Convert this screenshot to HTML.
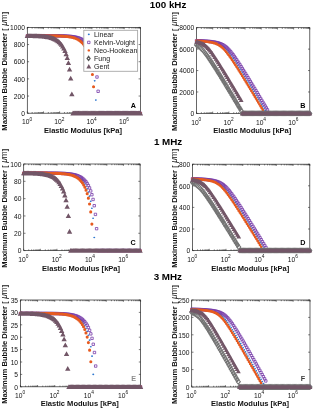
<!DOCTYPE html>
<html><head><meta charset="utf-8"><style>
html,body{margin:0;padding:0;background:#fff;width:313px;height:408px;overflow:hidden}
svg{display:block;font-family:"Liberation Sans", sans-serif;filter:blur(0.3px)}
</style></head><body>
<svg width="313" height="408" viewBox="0 0 313 408">
<defs><clipPath id="clipA"><rect x="24.3" y="24.4" width="119.10000000000001" height="91.80000000000001"/></clipPath><clipPath id="clipB"><rect x="193.5" y="24.7" width="119.30000000000001" height="91.7"/></clipPath><clipPath id="clipC"><rect x="20.7" y="161.0" width="122.39999999999999" height="92.6"/></clipPath><clipPath id="clipD"><rect x="189.5" y="161.2" width="123.30000000000001" height="92.4"/></clipPath><clipPath id="clipE"><rect x="17.4" y="297.0" width="126.19999999999999" height="92.80000000000001"/></clipPath><clipPath id="clipF"><rect x="188.7" y="297.0" width="124.30000000000001" height="93.0"/></clipPath></defs>
<rect width="313" height="408" fill="#fff"/>
<rect x="27.30" y="27.40" width="113.10" height="85.80" fill="none" stroke="#262626" stroke-width="0.7"/>
<path d="M27.30 113.20v-1.8M27.30 27.40v1.8M32.16 113.20v-1.2M32.16 27.40v1.2M35.01 113.20v-1.2M35.01 27.40v1.2M37.03 113.20v-1.2M37.03 27.40v1.2M38.59 113.20v-1.2M38.59 27.40v1.2M39.87 113.20v-1.2M39.87 27.40v1.2M40.95 113.20v-1.2M40.95 27.40v1.2M41.89 113.20v-1.2M41.89 27.40v1.2M42.72 113.20v-1.2M42.72 27.40v1.2M43.46 113.20v-1.8M43.46 27.40v1.8M48.32 113.20v-1.2M48.32 27.40v1.2M51.17 113.20v-1.2M51.17 27.40v1.2M53.18 113.20v-1.2M53.18 27.40v1.2M54.75 113.20v-1.2M54.75 27.40v1.2M56.03 113.20v-1.2M56.03 27.40v1.2M57.11 113.20v-1.2M57.11 27.40v1.2M58.05 113.20v-1.2M58.05 27.40v1.2M58.87 113.20v-1.2M58.87 27.40v1.2M59.61 113.20v-1.8M59.61 27.40v1.8M64.48 113.20v-1.2M64.48 27.40v1.2M67.32 113.20v-1.2M67.32 27.40v1.2M69.34 113.20v-1.2M69.34 27.40v1.2M70.91 113.20v-1.2M70.91 27.40v1.2M72.19 113.20v-1.2M72.19 27.40v1.2M73.27 113.20v-1.2M73.27 27.40v1.2M74.21 113.20v-1.2M74.21 27.40v1.2M75.03 113.20v-1.2M75.03 27.40v1.2M75.77 113.20v-1.8M75.77 27.40v1.8M80.64 113.20v-1.2M80.64 27.40v1.2M83.48 113.20v-1.2M83.48 27.40v1.2M85.50 113.20v-1.2M85.50 27.40v1.2M87.06 113.20v-1.2M87.06 27.40v1.2M88.34 113.20v-1.2M88.34 27.40v1.2M89.43 113.20v-1.2M89.43 27.40v1.2M90.36 113.20v-1.2M90.36 27.40v1.2M91.19 113.20v-1.2M91.19 27.40v1.2M91.93 113.20v-1.8M91.93 27.40v1.8M96.79 113.20v-1.2M96.79 27.40v1.2M99.64 113.20v-1.2M99.64 27.40v1.2M101.66 113.20v-1.2M101.66 27.40v1.2M103.22 113.20v-1.2M103.22 27.40v1.2M104.50 113.20v-1.2M104.50 27.40v1.2M105.58 113.20v-1.2M105.58 27.40v1.2M106.52 113.20v-1.2M106.52 27.40v1.2M107.35 113.20v-1.2M107.35 27.40v1.2M108.09 113.20v-1.8M108.09 27.40v1.8M112.95 113.20v-1.2M112.95 27.40v1.2M115.79 113.20v-1.2M115.79 27.40v1.2M117.81 113.20v-1.2M117.81 27.40v1.2M119.38 113.20v-1.2M119.38 27.40v1.2M120.66 113.20v-1.2M120.66 27.40v1.2M121.74 113.20v-1.2M121.74 27.40v1.2M122.68 113.20v-1.2M122.68 27.40v1.2M123.50 113.20v-1.2M123.50 27.40v1.2M124.24 113.20v-1.8M124.24 27.40v1.8M129.11 113.20v-1.2M129.11 27.40v1.2M131.95 113.20v-1.2M131.95 27.40v1.2M133.97 113.20v-1.2M133.97 27.40v1.2M135.54 113.20v-1.2M135.54 27.40v1.2M136.82 113.20v-1.2M136.82 27.40v1.2M137.90 113.20v-1.2M137.90 27.40v1.2M138.83 113.20v-1.2M138.83 27.40v1.2M139.66 113.20v-1.2M139.66 27.40v1.2M140.40 113.20v-1.8M140.40 27.40v1.8M27.30 113.20h1.8M140.40 113.20h-1.8M27.30 96.04h1.8M140.40 96.04h-1.8M27.30 78.88h1.8M140.40 78.88h-1.8M27.30 61.72h1.8M140.40 61.72h-1.8M27.30 44.56h1.8M140.40 44.56h-1.8M27.30 27.40h1.8M140.40 27.40h-1.8" stroke="#262626" stroke-width="0.6" fill="none"/>
<g clip-path="url(#clipA)">
<path d="M26.30 35.72a1.0 0.8 0 1 0 2.0 0a1.0 0.8 0 1 0 -2.0 0ZM27.44 35.73a1.0 0.8 0 1 0 2.0 0a1.0 0.8 0 1 0 -2.0 0ZM28.58 35.73a1.0 0.8 0 1 0 2.0 0a1.0 0.8 0 1 0 -2.0 0ZM29.73 35.73a1.0 0.8 0 1 0 2.0 0a1.0 0.8 0 1 0 -2.0 0ZM30.87 35.73a1.0 0.8 0 1 0 2.0 0a1.0 0.8 0 1 0 -2.0 0ZM32.01 35.73a1.0 0.8 0 1 0 2.0 0a1.0 0.8 0 1 0 -2.0 0ZM33.15 35.73a1.0 0.8 0 1 0 2.0 0a1.0 0.8 0 1 0 -2.0 0ZM34.30 35.73a1.0 0.8 0 1 0 2.0 0a1.0 0.8 0 1 0 -2.0 0ZM35.44 35.73a1.0 0.8 0 1 0 2.0 0a1.0 0.8 0 1 0 -2.0 0ZM36.58 35.73a1.0 0.8 0 1 0 2.0 0a1.0 0.8 0 1 0 -2.0 0ZM37.72 35.73a1.0 0.8 0 1 0 2.0 0a1.0 0.8 0 1 0 -2.0 0ZM38.87 35.74a1.0 0.8 0 1 0 2.0 0a1.0 0.8 0 1 0 -2.0 0ZM40.01 35.74a1.0 0.8 0 1 0 2.0 0a1.0 0.8 0 1 0 -2.0 0ZM41.15 35.74a1.0 0.8 0 1 0 2.0 0a1.0 0.8 0 1 0 -2.0 0ZM42.29 35.74a1.0 0.8 0 1 0 2.0 0a1.0 0.8 0 1 0 -2.0 0ZM43.44 35.75a1.0 0.8 0 1 0 2.0 0a1.0 0.8 0 1 0 -2.0 0ZM44.58 35.75a1.0 0.8 0 1 0 2.0 0a1.0 0.8 0 1 0 -2.0 0ZM45.72 35.76a1.0 0.8 0 1 0 2.0 0a1.0 0.8 0 1 0 -2.0 0ZM46.86 35.76a1.0 0.8 0 1 0 2.0 0a1.0 0.8 0 1 0 -2.0 0ZM48.01 35.77a1.0 0.8 0 1 0 2.0 0a1.0 0.8 0 1 0 -2.0 0ZM49.15 35.78a1.0 0.8 0 1 0 2.0 0a1.0 0.8 0 1 0 -2.0 0ZM50.29 35.79a1.0 0.8 0 1 0 2.0 0a1.0 0.8 0 1 0 -2.0 0ZM51.43 35.80a1.0 0.8 0 1 0 2.0 0a1.0 0.8 0 1 0 -2.0 0ZM52.58 35.81a1.0 0.8 0 1 0 2.0 0a1.0 0.8 0 1 0 -2.0 0ZM53.72 35.83a1.0 0.8 0 1 0 2.0 0a1.0 0.8 0 1 0 -2.0 0ZM54.86 35.85a1.0 0.8 0 1 0 2.0 0a1.0 0.8 0 1 0 -2.0 0ZM56.00 35.87a1.0 0.8 0 1 0 2.0 0a1.0 0.8 0 1 0 -2.0 0ZM57.15 35.90a1.0 0.8 0 1 0 2.0 0a1.0 0.8 0 1 0 -2.0 0ZM58.29 35.93a1.0 0.8 0 1 0 2.0 0a1.0 0.8 0 1 0 -2.0 0ZM59.43 35.96a1.0 0.8 0 1 0 2.0 0a1.0 0.8 0 1 0 -2.0 0ZM60.57 36.01a1.0 0.8 0 1 0 2.0 0a1.0 0.8 0 1 0 -2.0 0ZM61.72 36.06a1.0 0.8 0 1 0 2.0 0a1.0 0.8 0 1 0 -2.0 0ZM62.86 36.12a1.0 0.8 0 1 0 2.0 0a1.0 0.8 0 1 0 -2.0 0ZM64.00 36.19a1.0 0.8 0 1 0 2.0 0a1.0 0.8 0 1 0 -2.0 0ZM65.14 36.27a1.0 0.8 0 1 0 2.0 0a1.0 0.8 0 1 0 -2.0 0ZM66.28 36.37a1.0 0.8 0 1 0 2.0 0a1.0 0.8 0 1 0 -2.0 0ZM67.43 36.48a1.0 0.8 0 1 0 2.0 0a1.0 0.8 0 1 0 -2.0 0ZM68.57 36.62a1.0 0.8 0 1 0 2.0 0a1.0 0.8 0 1 0 -2.0 0ZM69.71 36.78a1.0 0.8 0 1 0 2.0 0a1.0 0.8 0 1 0 -2.0 0ZM70.85 36.96a1.0 0.8 0 1 0 2.0 0a1.0 0.8 0 1 0 -2.0 0ZM72.00 37.19a1.0 0.8 0 1 0 2.0 0a1.0 0.8 0 1 0 -2.0 0ZM73.14 37.45a1.0 0.8 0 1 0 2.0 0a1.0 0.8 0 1 0 -2.0 0ZM74.28 37.76a1.0 0.8 0 1 0 2.0 0a1.0 0.8 0 1 0 -2.0 0ZM75.42 38.12a1.0 0.8 0 1 0 2.0 0a1.0 0.8 0 1 0 -2.0 0ZM76.57 38.56a1.0 0.8 0 1 0 2.0 0a1.0 0.8 0 1 0 -2.0 0ZM77.71 39.07a1.0 0.8 0 1 0 2.0 0a1.0 0.8 0 1 0 -2.0 0ZM78.85 39.68a1.0 0.8 0 1 0 2.0 0a1.0 0.8 0 1 0 -2.0 0ZM79.99 40.40a1.0 0.8 0 1 0 2.0 0a1.0 0.8 0 1 0 -2.0 0ZM81.14 41.25a1.0 0.8 0 1 0 2.0 0a1.0 0.8 0 1 0 -2.0 0ZM82.28 42.28a1.0 0.8 0 1 0 2.0 0a1.0 0.8 0 1 0 -2.0 0ZM83.42 43.50a1.0 0.8 0 1 0 2.0 0a1.0 0.8 0 1 0 -2.0 0ZM84.56 44.97a1.0 0.8 0 1 0 2.0 0a1.0 0.8 0 1 0 -2.0 0ZM85.71 46.74a1.0 0.8 0 1 0 2.0 0a1.0 0.8 0 1 0 -2.0 0ZM86.85 48.88a1.0 0.8 0 1 0 2.0 0a1.0 0.8 0 1 0 -2.0 0ZM87.99 51.50a1.0 0.8 0 1 0 2.0 0a1.0 0.8 0 1 0 -2.0 0ZM89.13 54.73a1.0 0.8 0 1 0 2.0 0a1.0 0.8 0 1 0 -2.0 0ZM90.28 58.77a1.0 0.8 0 1 0 2.0 0a1.0 0.8 0 1 0 -2.0 0ZM91.42 63.96a1.0 0.8 0 1 0 2.0 0a1.0 0.8 0 1 0 -2.0 0ZM92.56 70.87a1.0 0.8 0 1 0 2.0 0a1.0 0.8 0 1 0 -2.0 0ZM93.70 80.84a1.0 0.8 0 1 0 2.0 0a1.0 0.8 0 1 0 -2.0 0ZM94.85 100.11a1.0 0.8 0 1 0 2.0 0a1.0 0.8 0 1 0 -2.0 0ZM95.99 113.20a1.0 0.8 0 1 0 2.0 0a1.0 0.8 0 1 0 -2.0 0ZM97.13 113.20a1.0 0.8 0 1 0 2.0 0a1.0 0.8 0 1 0 -2.0 0ZM98.27 113.20a1.0 0.8 0 1 0 2.0 0a1.0 0.8 0 1 0 -2.0 0ZM99.42 113.20a1.0 0.8 0 1 0 2.0 0a1.0 0.8 0 1 0 -2.0 0ZM100.56 113.20a1.0 0.8 0 1 0 2.0 0a1.0 0.8 0 1 0 -2.0 0ZM101.70 113.20a1.0 0.8 0 1 0 2.0 0a1.0 0.8 0 1 0 -2.0 0ZM102.84 113.20a1.0 0.8 0 1 0 2.0 0a1.0 0.8 0 1 0 -2.0 0ZM103.98 113.20a1.0 0.8 0 1 0 2.0 0a1.0 0.8 0 1 0 -2.0 0ZM105.13 113.20a1.0 0.8 0 1 0 2.0 0a1.0 0.8 0 1 0 -2.0 0ZM106.27 113.20a1.0 0.8 0 1 0 2.0 0a1.0 0.8 0 1 0 -2.0 0ZM107.41 113.20a1.0 0.8 0 1 0 2.0 0a1.0 0.8 0 1 0 -2.0 0ZM108.55 113.20a1.0 0.8 0 1 0 2.0 0a1.0 0.8 0 1 0 -2.0 0ZM109.70 113.20a1.0 0.8 0 1 0 2.0 0a1.0 0.8 0 1 0 -2.0 0ZM110.84 113.20a1.0 0.8 0 1 0 2.0 0a1.0 0.8 0 1 0 -2.0 0ZM111.98 113.20a1.0 0.8 0 1 0 2.0 0a1.0 0.8 0 1 0 -2.0 0ZM113.12 113.20a1.0 0.8 0 1 0 2.0 0a1.0 0.8 0 1 0 -2.0 0ZM114.27 113.20a1.0 0.8 0 1 0 2.0 0a1.0 0.8 0 1 0 -2.0 0ZM115.41 113.20a1.0 0.8 0 1 0 2.0 0a1.0 0.8 0 1 0 -2.0 0ZM116.55 113.20a1.0 0.8 0 1 0 2.0 0a1.0 0.8 0 1 0 -2.0 0ZM117.69 113.20a1.0 0.8 0 1 0 2.0 0a1.0 0.8 0 1 0 -2.0 0ZM118.84 113.20a1.0 0.8 0 1 0 2.0 0a1.0 0.8 0 1 0 -2.0 0ZM119.98 113.20a1.0 0.8 0 1 0 2.0 0a1.0 0.8 0 1 0 -2.0 0ZM121.12 113.20a1.0 0.8 0 1 0 2.0 0a1.0 0.8 0 1 0 -2.0 0ZM122.26 113.20a1.0 0.8 0 1 0 2.0 0a1.0 0.8 0 1 0 -2.0 0ZM123.41 113.20a1.0 0.8 0 1 0 2.0 0a1.0 0.8 0 1 0 -2.0 0ZM124.55 113.20a1.0 0.8 0 1 0 2.0 0a1.0 0.8 0 1 0 -2.0 0ZM125.69 113.20a1.0 0.8 0 1 0 2.0 0a1.0 0.8 0 1 0 -2.0 0ZM126.83 113.20a1.0 0.8 0 1 0 2.0 0a1.0 0.8 0 1 0 -2.0 0ZM127.98 113.20a1.0 0.8 0 1 0 2.0 0a1.0 0.8 0 1 0 -2.0 0ZM129.12 113.20a1.0 0.8 0 1 0 2.0 0a1.0 0.8 0 1 0 -2.0 0ZM130.26 113.20a1.0 0.8 0 1 0 2.0 0a1.0 0.8 0 1 0 -2.0 0ZM131.40 113.20a1.0 0.8 0 1 0 2.0 0a1.0 0.8 0 1 0 -2.0 0ZM132.55 113.20a1.0 0.8 0 1 0 2.0 0a1.0 0.8 0 1 0 -2.0 0ZM133.69 113.20a1.0 0.8 0 1 0 2.0 0a1.0 0.8 0 1 0 -2.0 0ZM134.83 113.20a1.0 0.8 0 1 0 2.0 0a1.0 0.8 0 1 0 -2.0 0ZM135.97 113.20a1.0 0.8 0 1 0 2.0 0a1.0 0.8 0 1 0 -2.0 0ZM137.12 113.20a1.0 0.8 0 1 0 2.0 0a1.0 0.8 0 1 0 -2.0 0ZM138.26 113.20a1.0 0.8 0 1 0 2.0 0a1.0 0.8 0 1 0 -2.0 0ZM139.40 113.20a1.0 0.8 0 1 0 2.0 0a1.0 0.8 0 1 0 -2.0 0Z" fill="#2f78d0"/>
<path d="M26.10 34.52h2.40v2.40h-2.40ZM27.24 34.52h2.40v2.40h-2.40ZM28.38 34.52h2.40v2.40h-2.40ZM29.53 34.53h2.40v2.40h-2.40ZM30.67 34.53h2.40v2.40h-2.40ZM31.81 34.53h2.40v2.40h-2.40ZM32.95 34.53h2.40v2.40h-2.40ZM34.10 34.53h2.40v2.40h-2.40ZM35.24 34.53h2.40v2.40h-2.40ZM36.38 34.53h2.40v2.40h-2.40ZM37.52 34.53h2.40v2.40h-2.40ZM38.67 34.53h2.40v2.40h-2.40ZM39.81 34.53h2.40v2.40h-2.40ZM40.95 34.53h2.40v2.40h-2.40ZM42.09 34.54h2.40v2.40h-2.40ZM43.24 34.54h2.40v2.40h-2.40ZM44.38 34.54h2.40v2.40h-2.40ZM45.52 34.55h2.40v2.40h-2.40ZM46.66 34.55h2.40v2.40h-2.40ZM47.81 34.56h2.40v2.40h-2.40ZM48.95 34.56h2.40v2.40h-2.40ZM50.09 34.57h2.40v2.40h-2.40ZM51.23 34.58h2.40v2.40h-2.40ZM52.38 34.58h2.40v2.40h-2.40ZM53.52 34.60h2.40v2.40h-2.40ZM54.66 34.61h2.40v2.40h-2.40ZM55.80 34.62h2.40v2.40h-2.40ZM56.95 34.64h2.40v2.40h-2.40ZM58.09 34.66h2.40v2.40h-2.40ZM59.23 34.69h2.40v2.40h-2.40ZM60.37 34.72h2.40v2.40h-2.40ZM61.52 34.75h2.40v2.40h-2.40ZM62.66 34.79h2.40v2.40h-2.40ZM63.80 34.84h2.40v2.40h-2.40ZM64.94 34.90h2.40v2.40h-2.40ZM66.08 34.96h2.40v2.40h-2.40ZM67.23 35.04h2.40v2.40h-2.40ZM68.37 35.13h2.40v2.40h-2.40ZM69.51 35.24h2.40v2.40h-2.40ZM70.65 35.37h2.40v2.40h-2.40ZM71.80 35.52h2.40v2.40h-2.40ZM72.94 35.70h2.40v2.40h-2.40ZM74.08 35.91h2.40v2.40h-2.40ZM75.22 36.16h2.40v2.40h-2.40ZM76.37 36.45h2.40v2.40h-2.40ZM77.51 36.79h2.40v2.40h-2.40ZM78.65 37.20h2.40v2.40h-2.40ZM79.79 37.69h2.40v2.40h-2.40ZM80.94 38.26h2.40v2.40h-2.40ZM82.08 38.94h2.40v2.40h-2.40ZM83.22 39.75h2.40v2.40h-2.40ZM84.36 40.72h2.40v2.40h-2.40ZM85.51 41.87h2.40v2.40h-2.40ZM86.65 43.25h2.40v2.40h-2.40ZM87.79 44.91h2.40v2.40h-2.40ZM88.93 46.92h2.40v2.40h-2.40ZM90.08 49.36h2.40v2.40h-2.40ZM91.22 52.37h2.40v2.40h-2.40ZM92.36 56.12h2.40v2.40h-2.40ZM93.50 60.87h2.40v2.40h-2.40ZM94.65 67.12h2.40v2.40h-2.40ZM95.79 75.81h2.40v2.40h-2.40ZM96.93 90.10h2.40v2.40h-2.40ZM98.07 112.00h2.40v2.40h-2.40ZM99.22 112.00h2.40v2.40h-2.40ZM100.36 112.00h2.40v2.40h-2.40ZM101.50 112.00h2.40v2.40h-2.40ZM102.64 112.00h2.40v2.40h-2.40ZM103.78 112.00h2.40v2.40h-2.40ZM104.93 112.00h2.40v2.40h-2.40ZM106.07 112.00h2.40v2.40h-2.40ZM107.21 112.00h2.40v2.40h-2.40ZM108.35 112.00h2.40v2.40h-2.40ZM109.50 112.00h2.40v2.40h-2.40ZM110.64 112.00h2.40v2.40h-2.40ZM111.78 112.00h2.40v2.40h-2.40ZM112.92 112.00h2.40v2.40h-2.40ZM114.07 112.00h2.40v2.40h-2.40ZM115.21 112.00h2.40v2.40h-2.40ZM116.35 112.00h2.40v2.40h-2.40ZM117.49 112.00h2.40v2.40h-2.40ZM118.64 112.00h2.40v2.40h-2.40ZM119.78 112.00h2.40v2.40h-2.40ZM120.92 112.00h2.40v2.40h-2.40ZM122.06 112.00h2.40v2.40h-2.40ZM123.21 112.00h2.40v2.40h-2.40ZM124.35 112.00h2.40v2.40h-2.40ZM125.49 112.00h2.40v2.40h-2.40ZM126.63 112.00h2.40v2.40h-2.40ZM127.78 112.00h2.40v2.40h-2.40ZM128.92 112.00h2.40v2.40h-2.40ZM130.06 112.00h2.40v2.40h-2.40ZM131.20 112.00h2.40v2.40h-2.40ZM132.35 112.00h2.40v2.40h-2.40ZM133.49 112.00h2.40v2.40h-2.40ZM134.63 112.00h2.40v2.40h-2.40ZM135.77 112.00h2.40v2.40h-2.40ZM136.92 112.00h2.40v2.40h-2.40ZM138.06 112.00h2.40v2.40h-2.40ZM139.20 112.00h2.40v2.40h-2.40Z" fill="none" stroke="#7438a8" stroke-width="0.78"/>
<path d="M25.75 35.73a1.55 1.55 0 1 0 3.1 0a1.55 1.55 0 1 0 -3.1 0ZM26.89 35.73a1.55 1.55 0 1 0 3.1 0a1.55 1.55 0 1 0 -3.1 0ZM28.03 35.73a1.55 1.55 0 1 0 3.1 0a1.55 1.55 0 1 0 -3.1 0ZM29.18 35.73a1.55 1.55 0 1 0 3.1 0a1.55 1.55 0 1 0 -3.1 0ZM30.32 35.73a1.55 1.55 0 1 0 3.1 0a1.55 1.55 0 1 0 -3.1 0ZM31.46 35.73a1.55 1.55 0 1 0 3.1 0a1.55 1.55 0 1 0 -3.1 0ZM32.60 35.73a1.55 1.55 0 1 0 3.1 0a1.55 1.55 0 1 0 -3.1 0ZM33.75 35.73a1.55 1.55 0 1 0 3.1 0a1.55 1.55 0 1 0 -3.1 0ZM34.89 35.73a1.55 1.55 0 1 0 3.1 0a1.55 1.55 0 1 0 -3.1 0ZM36.03 35.73a1.55 1.55 0 1 0 3.1 0a1.55 1.55 0 1 0 -3.1 0ZM37.17 35.74a1.55 1.55 0 1 0 3.1 0a1.55 1.55 0 1 0 -3.1 0ZM38.32 35.74a1.55 1.55 0 1 0 3.1 0a1.55 1.55 0 1 0 -3.1 0ZM39.46 35.74a1.55 1.55 0 1 0 3.1 0a1.55 1.55 0 1 0 -3.1 0ZM40.60 35.75a1.55 1.55 0 1 0 3.1 0a1.55 1.55 0 1 0 -3.1 0ZM41.74 35.75a1.55 1.55 0 1 0 3.1 0a1.55 1.55 0 1 0 -3.1 0ZM42.89 35.75a1.55 1.55 0 1 0 3.1 0a1.55 1.55 0 1 0 -3.1 0ZM44.03 35.76a1.55 1.55 0 1 0 3.1 0a1.55 1.55 0 1 0 -3.1 0ZM45.17 35.77a1.55 1.55 0 1 0 3.1 0a1.55 1.55 0 1 0 -3.1 0ZM46.31 35.77a1.55 1.55 0 1 0 3.1 0a1.55 1.55 0 1 0 -3.1 0ZM47.46 35.78a1.55 1.55 0 1 0 3.1 0a1.55 1.55 0 1 0 -3.1 0ZM48.60 35.79a1.55 1.55 0 1 0 3.1 0a1.55 1.55 0 1 0 -3.1 0ZM49.74 35.81a1.55 1.55 0 1 0 3.1 0a1.55 1.55 0 1 0 -3.1 0ZM50.88 35.82a1.55 1.55 0 1 0 3.1 0a1.55 1.55 0 1 0 -3.1 0ZM52.03 35.84a1.55 1.55 0 1 0 3.1 0a1.55 1.55 0 1 0 -3.1 0ZM53.17 35.86a1.55 1.55 0 1 0 3.1 0a1.55 1.55 0 1 0 -3.1 0ZM54.31 35.88a1.55 1.55 0 1 0 3.1 0a1.55 1.55 0 1 0 -3.1 0ZM55.45 35.91a1.55 1.55 0 1 0 3.1 0a1.55 1.55 0 1 0 -3.1 0ZM56.60 35.94a1.55 1.55 0 1 0 3.1 0a1.55 1.55 0 1 0 -3.1 0ZM57.74 35.98a1.55 1.55 0 1 0 3.1 0a1.55 1.55 0 1 0 -3.1 0ZM58.88 36.03a1.55 1.55 0 1 0 3.1 0a1.55 1.55 0 1 0 -3.1 0ZM60.02 36.08a1.55 1.55 0 1 0 3.1 0a1.55 1.55 0 1 0 -3.1 0ZM61.17 36.15a1.55 1.55 0 1 0 3.1 0a1.55 1.55 0 1 0 -3.1 0ZM62.31 36.22a1.55 1.55 0 1 0 3.1 0a1.55 1.55 0 1 0 -3.1 0ZM63.45 36.31a1.55 1.55 0 1 0 3.1 0a1.55 1.55 0 1 0 -3.1 0ZM64.59 36.41a1.55 1.55 0 1 0 3.1 0a1.55 1.55 0 1 0 -3.1 0ZM65.73 36.54a1.55 1.55 0 1 0 3.1 0a1.55 1.55 0 1 0 -3.1 0ZM66.88 36.68a1.55 1.55 0 1 0 3.1 0a1.55 1.55 0 1 0 -3.1 0ZM68.02 36.85a1.55 1.55 0 1 0 3.1 0a1.55 1.55 0 1 0 -3.1 0ZM69.16 37.05a1.55 1.55 0 1 0 3.1 0a1.55 1.55 0 1 0 -3.1 0ZM70.30 37.29a1.55 1.55 0 1 0 3.1 0a1.55 1.55 0 1 0 -3.1 0ZM71.45 37.57a1.55 1.55 0 1 0 3.1 0a1.55 1.55 0 1 0 -3.1 0ZM72.59 37.90a1.55 1.55 0 1 0 3.1 0a1.55 1.55 0 1 0 -3.1 0ZM73.73 38.29a1.55 1.55 0 1 0 3.1 0a1.55 1.55 0 1 0 -3.1 0ZM74.87 38.76a1.55 1.55 0 1 0 3.1 0a1.55 1.55 0 1 0 -3.1 0ZM76.02 39.31a1.55 1.55 0 1 0 3.1 0a1.55 1.55 0 1 0 -3.1 0ZM77.16 39.96a1.55 1.55 0 1 0 3.1 0a1.55 1.55 0 1 0 -3.1 0ZM78.30 40.73a1.55 1.55 0 1 0 3.1 0a1.55 1.55 0 1 0 -3.1 0ZM79.44 41.66a1.55 1.55 0 1 0 3.1 0a1.55 1.55 0 1 0 -3.1 0ZM80.59 42.76a1.55 1.55 0 1 0 3.1 0a1.55 1.55 0 1 0 -3.1 0ZM81.73 44.08a1.55 1.55 0 1 0 3.1 0a1.55 1.55 0 1 0 -3.1 0ZM82.87 45.66a1.55 1.55 0 1 0 3.1 0a1.55 1.55 0 1 0 -3.1 0ZM84.01 47.57a1.55 1.55 0 1 0 3.1 0a1.55 1.55 0 1 0 -3.1 0ZM85.16 49.90a1.55 1.55 0 1 0 3.1 0a1.55 1.55 0 1 0 -3.1 0ZM86.30 52.75a1.55 1.55 0 1 0 3.1 0a1.55 1.55 0 1 0 -3.1 0ZM87.44 56.29a1.55 1.55 0 1 0 3.1 0a1.55 1.55 0 1 0 -3.1 0ZM88.58 60.76a1.55 1.55 0 1 0 3.1 0a1.55 1.55 0 1 0 -3.1 0ZM89.73 66.56a1.55 1.55 0 1 0 3.1 0a1.55 1.55 0 1 0 -3.1 0ZM90.87 74.49a1.55 1.55 0 1 0 3.1 0a1.55 1.55 0 1 0 -3.1 0ZM92.01 86.71a1.55 1.55 0 1 0 3.1 0a1.55 1.55 0 1 0 -3.1 0ZM93.15 113.20a1.55 1.55 0 1 0 3.1 0a1.55 1.55 0 1 0 -3.1 0ZM94.30 113.20a1.55 1.55 0 1 0 3.1 0a1.55 1.55 0 1 0 -3.1 0ZM95.44 113.20a1.55 1.55 0 1 0 3.1 0a1.55 1.55 0 1 0 -3.1 0ZM96.58 113.20a1.55 1.55 0 1 0 3.1 0a1.55 1.55 0 1 0 -3.1 0ZM97.72 113.20a1.55 1.55 0 1 0 3.1 0a1.55 1.55 0 1 0 -3.1 0ZM98.87 113.20a1.55 1.55 0 1 0 3.1 0a1.55 1.55 0 1 0 -3.1 0ZM100.01 113.20a1.55 1.55 0 1 0 3.1 0a1.55 1.55 0 1 0 -3.1 0ZM101.15 113.20a1.55 1.55 0 1 0 3.1 0a1.55 1.55 0 1 0 -3.1 0ZM102.29 113.20a1.55 1.55 0 1 0 3.1 0a1.55 1.55 0 1 0 -3.1 0ZM103.43 113.20a1.55 1.55 0 1 0 3.1 0a1.55 1.55 0 1 0 -3.1 0ZM104.58 113.20a1.55 1.55 0 1 0 3.1 0a1.55 1.55 0 1 0 -3.1 0ZM105.72 113.20a1.55 1.55 0 1 0 3.1 0a1.55 1.55 0 1 0 -3.1 0ZM106.86 113.20a1.55 1.55 0 1 0 3.1 0a1.55 1.55 0 1 0 -3.1 0ZM108.00 113.20a1.55 1.55 0 1 0 3.1 0a1.55 1.55 0 1 0 -3.1 0ZM109.15 113.20a1.55 1.55 0 1 0 3.1 0a1.55 1.55 0 1 0 -3.1 0ZM110.29 113.20a1.55 1.55 0 1 0 3.1 0a1.55 1.55 0 1 0 -3.1 0ZM111.43 113.20a1.55 1.55 0 1 0 3.1 0a1.55 1.55 0 1 0 -3.1 0ZM112.57 113.20a1.55 1.55 0 1 0 3.1 0a1.55 1.55 0 1 0 -3.1 0ZM113.72 113.20a1.55 1.55 0 1 0 3.1 0a1.55 1.55 0 1 0 -3.1 0ZM114.86 113.20a1.55 1.55 0 1 0 3.1 0a1.55 1.55 0 1 0 -3.1 0ZM116.00 113.20a1.55 1.55 0 1 0 3.1 0a1.55 1.55 0 1 0 -3.1 0ZM117.14 113.20a1.55 1.55 0 1 0 3.1 0a1.55 1.55 0 1 0 -3.1 0ZM118.29 113.20a1.55 1.55 0 1 0 3.1 0a1.55 1.55 0 1 0 -3.1 0ZM119.43 113.20a1.55 1.55 0 1 0 3.1 0a1.55 1.55 0 1 0 -3.1 0ZM120.57 113.20a1.55 1.55 0 1 0 3.1 0a1.55 1.55 0 1 0 -3.1 0ZM121.71 113.20a1.55 1.55 0 1 0 3.1 0a1.55 1.55 0 1 0 -3.1 0ZM122.86 113.20a1.55 1.55 0 1 0 3.1 0a1.55 1.55 0 1 0 -3.1 0ZM124.00 113.20a1.55 1.55 0 1 0 3.1 0a1.55 1.55 0 1 0 -3.1 0ZM125.14 113.20a1.55 1.55 0 1 0 3.1 0a1.55 1.55 0 1 0 -3.1 0ZM126.28 113.20a1.55 1.55 0 1 0 3.1 0a1.55 1.55 0 1 0 -3.1 0ZM127.43 113.20a1.55 1.55 0 1 0 3.1 0a1.55 1.55 0 1 0 -3.1 0ZM128.57 113.20a1.55 1.55 0 1 0 3.1 0a1.55 1.55 0 1 0 -3.1 0ZM129.71 113.20a1.55 1.55 0 1 0 3.1 0a1.55 1.55 0 1 0 -3.1 0ZM130.85 113.20a1.55 1.55 0 1 0 3.1 0a1.55 1.55 0 1 0 -3.1 0ZM132.00 113.20a1.55 1.55 0 1 0 3.1 0a1.55 1.55 0 1 0 -3.1 0ZM133.14 113.20a1.55 1.55 0 1 0 3.1 0a1.55 1.55 0 1 0 -3.1 0ZM134.28 113.20a1.55 1.55 0 1 0 3.1 0a1.55 1.55 0 1 0 -3.1 0ZM135.42 113.20a1.55 1.55 0 1 0 3.1 0a1.55 1.55 0 1 0 -3.1 0ZM136.57 113.20a1.55 1.55 0 1 0 3.1 0a1.55 1.55 0 1 0 -3.1 0ZM137.71 113.20a1.55 1.55 0 1 0 3.1 0a1.55 1.55 0 1 0 -3.1 0ZM138.85 113.20a1.55 1.55 0 1 0 3.1 0a1.55 1.55 0 1 0 -3.1 0Z" fill="#e65a20"/>
<path d="M27.30 33.19L30.00 38.00L24.60 38.00ZM28.44 33.20L31.14 38.01L25.74 38.01ZM29.58 33.21L32.28 38.02L26.88 38.02ZM30.73 33.23L33.43 38.04L28.03 38.04ZM31.87 33.24L34.57 38.05L29.17 38.05ZM33.01 33.27L35.71 38.08L30.31 38.08ZM34.15 33.29L36.85 38.10L31.45 38.10ZM35.30 33.32L38.00 38.13L32.60 38.13ZM36.44 33.36L39.14 38.17L33.74 38.17ZM37.58 33.40L40.28 38.21L34.88 38.21ZM38.72 33.45L41.42 38.26L36.02 38.26ZM39.87 33.50L42.57 38.31L37.17 38.31ZM41.01 33.57L43.71 38.38L38.31 38.38ZM42.15 33.65L44.85 38.46L39.45 38.46ZM43.29 33.75L45.99 38.56L40.59 38.56ZM44.44 33.86L47.14 38.67L41.74 38.67ZM45.58 33.99L48.28 38.80L42.88 38.80ZM46.72 34.14L49.42 38.95L44.02 38.95ZM47.86 34.32L50.56 39.13L45.16 39.13ZM49.01 34.54L51.71 39.35L46.31 39.35ZM50.15 34.79L52.85 39.60L47.45 39.60ZM51.29 35.09L53.99 39.90L48.59 39.90ZM52.43 35.44L55.13 40.25L49.73 40.25ZM53.58 35.86L56.28 40.67L50.88 40.67ZM54.72 36.35L57.42 41.16L52.02 41.16ZM55.86 36.94L58.56 41.75L53.16 41.75ZM57.00 37.63L59.70 42.44L54.30 42.44ZM58.15 38.46L60.85 43.27L55.45 43.27ZM59.29 39.45L61.99 44.26L56.59 44.26ZM60.43 40.63L63.13 45.44L57.73 45.44ZM61.57 42.04L64.27 46.85L58.87 46.85ZM62.72 43.74L65.42 48.55L60.02 48.55ZM63.86 45.79L66.56 50.60L61.16 50.60ZM65.00 48.30L67.70 53.11L62.30 53.11ZM66.14 51.39L68.84 56.20L63.44 56.20ZM67.28 55.24L69.98 60.05L64.58 60.05ZM68.43 60.15L71.13 64.96L65.73 64.96ZM69.57 66.63L72.27 71.44L66.87 71.44ZM70.71 75.76L73.41 80.57L68.01 80.57ZM71.85 91.43L74.55 96.24L69.15 96.24ZM73.00 110.60L75.70 115.41L70.30 115.41ZM74.14 110.60L76.84 115.41L71.44 115.41ZM75.28 110.60L77.98 115.41L72.58 115.41ZM76.42 110.60L79.12 115.41L73.72 115.41ZM77.57 110.60L80.27 115.41L74.87 115.41ZM78.71 110.60L81.41 115.41L76.01 115.41ZM79.85 110.60L82.55 115.41L77.15 115.41ZM80.99 110.60L83.69 115.41L78.29 115.41ZM82.14 110.60L84.84 115.41L79.44 115.41ZM83.28 110.60L85.98 115.41L80.58 115.41ZM84.42 110.60L87.12 115.41L81.72 115.41ZM85.56 110.60L88.26 115.41L82.86 115.41ZM86.71 110.60L89.41 115.41L84.01 115.41ZM87.85 110.60L90.55 115.41L85.15 115.41ZM88.99 110.60L91.69 115.41L86.29 115.41ZM90.13 110.60L92.83 115.41L87.43 115.41ZM91.28 110.60L93.98 115.41L88.58 115.41ZM92.42 110.60L95.12 115.41L89.72 115.41ZM93.56 110.60L96.26 115.41L90.86 115.41ZM94.70 110.60L97.40 115.41L92.00 115.41ZM95.85 110.60L98.55 115.41L93.15 115.41ZM96.99 110.60L99.69 115.41L94.29 115.41ZM98.13 110.60L100.83 115.41L95.43 115.41ZM99.27 110.60L101.97 115.41L96.57 115.41ZM100.42 110.60L103.12 115.41L97.72 115.41ZM101.56 110.60L104.26 115.41L98.86 115.41ZM102.70 110.60L105.40 115.41L100.00 115.41ZM103.84 110.60L106.54 115.41L101.14 115.41ZM104.98 110.60L107.68 115.41L102.28 115.41ZM106.13 110.60L108.83 115.41L103.43 115.41ZM107.27 110.60L109.97 115.41L104.57 115.41ZM108.41 110.60L111.11 115.41L105.71 115.41ZM109.55 110.60L112.25 115.41L106.85 115.41ZM110.70 110.60L113.40 115.41L108.00 115.41ZM111.84 110.60L114.54 115.41L109.14 115.41ZM112.98 110.60L115.68 115.41L110.28 115.41ZM114.12 110.60L116.82 115.41L111.42 115.41ZM115.27 110.60L117.97 115.41L112.57 115.41ZM116.41 110.60L119.11 115.41L113.71 115.41ZM117.55 110.60L120.25 115.41L114.85 115.41ZM118.69 110.60L121.39 115.41L115.99 115.41ZM119.84 110.60L122.54 115.41L117.14 115.41ZM120.98 110.60L123.68 115.41L118.28 115.41ZM122.12 110.60L124.82 115.41L119.42 115.41ZM123.26 110.60L125.96 115.41L120.56 115.41ZM124.41 110.60L127.11 115.41L121.71 115.41ZM125.55 110.60L128.25 115.41L122.85 115.41ZM126.69 110.60L129.39 115.41L123.99 115.41ZM127.83 110.60L130.53 115.41L125.13 115.41ZM128.98 110.60L131.68 115.41L126.28 115.41ZM130.12 110.60L132.82 115.41L127.42 115.41ZM131.26 110.60L133.96 115.41L128.56 115.41ZM132.40 110.60L135.10 115.41L129.70 115.41ZM133.55 110.60L136.25 115.41L130.85 115.41ZM134.69 110.60L137.39 115.41L131.99 115.41ZM135.83 110.60L138.53 115.41L133.13 115.41ZM136.97 110.60L139.67 115.41L134.27 115.41ZM138.12 110.60L140.82 115.41L135.42 115.41ZM139.26 110.60L141.96 115.41L136.56 115.41ZM140.40 110.60L143.10 115.41L137.70 115.41Z" fill="#725667"/>
</g>
<text x="25.00" y="115.90" font-size="6.7" text-anchor="end" font-weight="normal" fill="#111" >0</text>
<text x="25.00" y="98.74" font-size="6.7" text-anchor="end" font-weight="normal" fill="#111" >200</text>
<text x="25.00" y="81.58" font-size="6.7" text-anchor="end" font-weight="normal" fill="#111" >400</text>
<text x="25.00" y="64.42" font-size="6.7" text-anchor="end" font-weight="normal" fill="#111" >600</text>
<text x="25.00" y="47.26" font-size="6.7" text-anchor="end" font-weight="normal" fill="#111" >800</text>
<text x="25.00" y="30.10" font-size="6.7" text-anchor="end" font-weight="normal" fill="#111" >1000</text>
<text x="25.70" y="124.30" font-size="6.7" text-anchor="middle" fill="#111">10</text>
<text x="29.40" y="120.60" font-size="4.8" text-anchor="start" fill="#111">0</text>
<text x="58.01" y="124.30" font-size="6.7" text-anchor="middle" fill="#111">10</text>
<text x="61.71" y="120.60" font-size="4.8" text-anchor="start" fill="#111">2</text>
<text x="90.33" y="124.30" font-size="6.7" text-anchor="middle" fill="#111">10</text>
<text x="94.03" y="120.60" font-size="4.8" text-anchor="start" fill="#111">4</text>
<text x="122.64" y="124.30" font-size="6.7" text-anchor="middle" fill="#111">10</text>
<text x="126.34" y="120.60" font-size="4.8" text-anchor="start" fill="#111">6</text>
<text x="83.05" y="133.20" font-size="7.55" text-anchor="middle" font-weight="bold" fill="#111" >Elastic Modulus [kPa]</text>
<text transform="translate(6.60 130.70) rotate(-90) scale(0.94 1)" font-size="8.1" text-anchor="start" font-weight="bold" fill="#111">Maximum Bubble Diameter<tspan dx="2.5" font-size="7.4">[</tspan><tspan dx="2.8" font-size="8.8" font-weight="normal" font-style="italic">μ</tspan><tspan font-size="8.8" font-weight="normal">m</tspan><tspan font-size="7.4">]</tspan></text>
<text x="133.40" y="107.60" font-size="7.2" text-anchor="middle" font-weight="bold" fill="#000" >A</text>
<rect x="196.50" y="27.70" width="113.30" height="85.70" fill="none" stroke="#262626" stroke-width="0.7"/>
<path d="M196.50 113.40v-1.8M196.50 27.70v1.8M201.37 113.40v-1.2M201.37 27.70v1.2M204.22 113.40v-1.2M204.22 27.70v1.2M206.24 113.40v-1.2M206.24 27.70v1.2M207.81 113.40v-1.2M207.81 27.70v1.2M209.09 113.40v-1.2M209.09 27.70v1.2M210.18 113.40v-1.2M210.18 27.70v1.2M211.12 113.40v-1.2M211.12 27.70v1.2M211.95 113.40v-1.2M211.95 27.70v1.2M212.69 113.40v-1.8M212.69 27.70v1.8M217.56 113.40v-1.2M217.56 27.70v1.2M220.41 113.40v-1.2M220.41 27.70v1.2M222.43 113.40v-1.2M222.43 27.70v1.2M224.00 113.40v-1.2M224.00 27.70v1.2M225.28 113.40v-1.2M225.28 27.70v1.2M226.36 113.40v-1.2M226.36 27.70v1.2M227.30 113.40v-1.2M227.30 27.70v1.2M228.13 113.40v-1.2M228.13 27.70v1.2M228.87 113.40v-1.8M228.87 27.70v1.8M233.74 113.40v-1.2M233.74 27.70v1.2M236.59 113.40v-1.2M236.59 27.70v1.2M238.62 113.40v-1.2M238.62 27.70v1.2M240.18 113.40v-1.2M240.18 27.70v1.2M241.47 113.40v-1.2M241.47 27.70v1.2M242.55 113.40v-1.2M242.55 27.70v1.2M243.49 113.40v-1.2M243.49 27.70v1.2M244.32 113.40v-1.2M244.32 27.70v1.2M245.06 113.40v-1.8M245.06 27.70v1.8M249.93 113.40v-1.2M249.93 27.70v1.2M252.78 113.40v-1.2M252.78 27.70v1.2M254.80 113.40v-1.2M254.80 27.70v1.2M256.37 113.40v-1.2M256.37 27.70v1.2M257.65 113.40v-1.2M257.65 27.70v1.2M258.74 113.40v-1.2M258.74 27.70v1.2M259.67 113.40v-1.2M259.67 27.70v1.2M260.50 113.40v-1.2M260.50 27.70v1.2M261.24 113.40v-1.8M261.24 27.70v1.8M266.12 113.40v-1.2M266.12 27.70v1.2M268.97 113.40v-1.2M268.97 27.70v1.2M270.99 113.40v-1.2M270.99 27.70v1.2M272.56 113.40v-1.2M272.56 27.70v1.2M273.84 113.40v-1.2M273.84 27.70v1.2M274.92 113.40v-1.2M274.92 27.70v1.2M275.86 113.40v-1.2M275.86 27.70v1.2M276.69 113.40v-1.2M276.69 27.70v1.2M277.43 113.40v-1.8M277.43 27.70v1.8M282.30 113.40v-1.2M282.30 27.70v1.2M285.15 113.40v-1.2M285.15 27.70v1.2M287.17 113.40v-1.2M287.17 27.70v1.2M288.74 113.40v-1.2M288.74 27.70v1.2M290.02 113.40v-1.2M290.02 27.70v1.2M291.11 113.40v-1.2M291.11 27.70v1.2M292.05 113.40v-1.2M292.05 27.70v1.2M292.87 113.40v-1.2M292.87 27.70v1.2M293.61 113.40v-1.8M293.61 27.70v1.8M298.49 113.40v-1.2M298.49 27.70v1.2M301.34 113.40v-1.2M301.34 27.70v1.2M303.36 113.40v-1.2M303.36 27.70v1.2M304.93 113.40v-1.2M304.93 27.70v1.2M306.21 113.40v-1.2M306.21 27.70v1.2M307.29 113.40v-1.2M307.29 27.70v1.2M308.23 113.40v-1.2M308.23 27.70v1.2M309.06 113.40v-1.2M309.06 27.70v1.2M309.80 113.40v-1.8M309.80 27.70v1.8M196.50 113.40h1.8M309.80 113.40h-1.8M196.50 91.98h1.8M309.80 91.98h-1.8M196.50 70.55h1.8M309.80 70.55h-1.8M196.50 49.12h1.8M309.80 49.12h-1.8M196.50 27.70h1.8M309.80 27.70h-1.8" stroke="#262626" stroke-width="0.6" fill="none"/>
<g clip-path="url(#clipB)">
<path d="M195.50 40.78a1.0 0.8 0 1 0 2.0 0a1.0 0.8 0 1 0 -2.0 0ZM196.64 40.84a1.0 0.8 0 1 0 2.0 0a1.0 0.8 0 1 0 -2.0 0ZM197.79 40.89a1.0 0.8 0 1 0 2.0 0a1.0 0.8 0 1 0 -2.0 0ZM198.93 40.95a1.0 0.8 0 1 0 2.0 0a1.0 0.8 0 1 0 -2.0 0ZM200.08 41.02a1.0 0.8 0 1 0 2.0 0a1.0 0.8 0 1 0 -2.0 0ZM201.22 41.09a1.0 0.8 0 1 0 2.0 0a1.0 0.8 0 1 0 -2.0 0ZM202.37 41.17a1.0 0.8 0 1 0 2.0 0a1.0 0.8 0 1 0 -2.0 0ZM203.51 41.26a1.0 0.8 0 1 0 2.0 0a1.0 0.8 0 1 0 -2.0 0ZM204.66 41.36a1.0 0.8 0 1 0 2.0 0a1.0 0.8 0 1 0 -2.0 0ZM205.80 41.47a1.0 0.8 0 1 0 2.0 0a1.0 0.8 0 1 0 -2.0 0ZM206.94 41.60a1.0 0.8 0 1 0 2.0 0a1.0 0.8 0 1 0 -2.0 0ZM208.09 41.73a1.0 0.8 0 1 0 2.0 0a1.0 0.8 0 1 0 -2.0 0ZM209.23 41.89a1.0 0.8 0 1 0 2.0 0a1.0 0.8 0 1 0 -2.0 0ZM210.38 42.07a1.0 0.8 0 1 0 2.0 0a1.0 0.8 0 1 0 -2.0 0ZM211.52 42.27a1.0 0.8 0 1 0 2.0 0a1.0 0.8 0 1 0 -2.0 0ZM212.67 42.51a1.0 0.8 0 1 0 2.0 0a1.0 0.8 0 1 0 -2.0 0ZM213.81 42.78a1.0 0.8 0 1 0 2.0 0a1.0 0.8 0 1 0 -2.0 0ZM214.96 43.09a1.0 0.8 0 1 0 2.0 0a1.0 0.8 0 1 0 -2.0 0ZM216.10 43.46a1.0 0.8 0 1 0 2.0 0a1.0 0.8 0 1 0 -2.0 0ZM217.24 43.90a1.0 0.8 0 1 0 2.0 0a1.0 0.8 0 1 0 -2.0 0ZM218.39 44.41a1.0 0.8 0 1 0 2.0 0a1.0 0.8 0 1 0 -2.0 0ZM219.53 45.01a1.0 0.8 0 1 0 2.0 0a1.0 0.8 0 1 0 -2.0 0ZM220.68 45.72a1.0 0.8 0 1 0 2.0 0a1.0 0.8 0 1 0 -2.0 0ZM221.82 46.53a1.0 0.8 0 1 0 2.0 0a1.0 0.8 0 1 0 -2.0 0ZM222.97 47.47a1.0 0.8 0 1 0 2.0 0a1.0 0.8 0 1 0 -2.0 0ZM224.11 48.53a1.0 0.8 0 1 0 2.0 0a1.0 0.8 0 1 0 -2.0 0ZM225.26 49.71a1.0 0.8 0 1 0 2.0 0a1.0 0.8 0 1 0 -2.0 0ZM226.40 50.99a1.0 0.8 0 1 0 2.0 0a1.0 0.8 0 1 0 -2.0 0ZM227.54 52.37a1.0 0.8 0 1 0 2.0 0a1.0 0.8 0 1 0 -2.0 0ZM228.69 53.84a1.0 0.8 0 1 0 2.0 0a1.0 0.8 0 1 0 -2.0 0ZM229.83 55.37a1.0 0.8 0 1 0 2.0 0a1.0 0.8 0 1 0 -2.0 0ZM230.98 56.97a1.0 0.8 0 1 0 2.0 0a1.0 0.8 0 1 0 -2.0 0ZM232.12 58.61a1.0 0.8 0 1 0 2.0 0a1.0 0.8 0 1 0 -2.0 0ZM233.27 60.30a1.0 0.8 0 1 0 2.0 0a1.0 0.8 0 1 0 -2.0 0ZM234.41 62.02a1.0 0.8 0 1 0 2.0 0a1.0 0.8 0 1 0 -2.0 0ZM235.56 63.77a1.0 0.8 0 1 0 2.0 0a1.0 0.8 0 1 0 -2.0 0ZM236.70 65.54a1.0 0.8 0 1 0 2.0 0a1.0 0.8 0 1 0 -2.0 0ZM237.84 67.33a1.0 0.8 0 1 0 2.0 0a1.0 0.8 0 1 0 -2.0 0ZM238.99 69.14a1.0 0.8 0 1 0 2.0 0a1.0 0.8 0 1 0 -2.0 0ZM240.13 70.96a1.0 0.8 0 1 0 2.0 0a1.0 0.8 0 1 0 -2.0 0ZM241.28 72.80a1.0 0.8 0 1 0 2.0 0a1.0 0.8 0 1 0 -2.0 0ZM242.42 74.64a1.0 0.8 0 1 0 2.0 0a1.0 0.8 0 1 0 -2.0 0ZM243.57 76.50a1.0 0.8 0 1 0 2.0 0a1.0 0.8 0 1 0 -2.0 0ZM244.71 78.36a1.0 0.8 0 1 0 2.0 0a1.0 0.8 0 1 0 -2.0 0ZM245.86 80.23a1.0 0.8 0 1 0 2.0 0a1.0 0.8 0 1 0 -2.0 0ZM247.00 82.10a1.0 0.8 0 1 0 2.0 0a1.0 0.8 0 1 0 -2.0 0ZM248.14 83.98a1.0 0.8 0 1 0 2.0 0a1.0 0.8 0 1 0 -2.0 0ZM249.29 85.87a1.0 0.8 0 1 0 2.0 0a1.0 0.8 0 1 0 -2.0 0ZM250.43 87.76a1.0 0.8 0 1 0 2.0 0a1.0 0.8 0 1 0 -2.0 0ZM251.58 89.65a1.0 0.8 0 1 0 2.0 0a1.0 0.8 0 1 0 -2.0 0ZM252.72 91.54a1.0 0.8 0 1 0 2.0 0a1.0 0.8 0 1 0 -2.0 0ZM253.87 93.44a1.0 0.8 0 1 0 2.0 0a1.0 0.8 0 1 0 -2.0 0ZM255.01 95.34a1.0 0.8 0 1 0 2.0 0a1.0 0.8 0 1 0 -2.0 0ZM256.16 97.25a1.0 0.8 0 1 0 2.0 0a1.0 0.8 0 1 0 -2.0 0ZM257.30 99.15a1.0 0.8 0 1 0 2.0 0a1.0 0.8 0 1 0 -2.0 0ZM258.44 101.06a1.0 0.8 0 1 0 2.0 0a1.0 0.8 0 1 0 -2.0 0ZM259.59 102.97a1.0 0.8 0 1 0 2.0 0a1.0 0.8 0 1 0 -2.0 0ZM260.73 104.88a1.0 0.8 0 1 0 2.0 0a1.0 0.8 0 1 0 -2.0 0ZM261.88 106.80a1.0 0.8 0 1 0 2.0 0a1.0 0.8 0 1 0 -2.0 0ZM263.02 108.71a1.0 0.8 0 1 0 2.0 0a1.0 0.8 0 1 0 -2.0 0ZM264.17 110.63a1.0 0.8 0 1 0 2.0 0a1.0 0.8 0 1 0 -2.0 0ZM265.31 113.40a1.0 0.8 0 1 0 2.0 0a1.0 0.8 0 1 0 -2.0 0ZM266.46 113.40a1.0 0.8 0 1 0 2.0 0a1.0 0.8 0 1 0 -2.0 0ZM267.60 113.40a1.0 0.8 0 1 0 2.0 0a1.0 0.8 0 1 0 -2.0 0ZM268.74 113.40a1.0 0.8 0 1 0 2.0 0a1.0 0.8 0 1 0 -2.0 0ZM269.89 113.40a1.0 0.8 0 1 0 2.0 0a1.0 0.8 0 1 0 -2.0 0ZM271.03 113.40a1.0 0.8 0 1 0 2.0 0a1.0 0.8 0 1 0 -2.0 0ZM272.18 113.40a1.0 0.8 0 1 0 2.0 0a1.0 0.8 0 1 0 -2.0 0ZM273.32 113.40a1.0 0.8 0 1 0 2.0 0a1.0 0.8 0 1 0 -2.0 0ZM274.47 113.40a1.0 0.8 0 1 0 2.0 0a1.0 0.8 0 1 0 -2.0 0ZM275.61 113.40a1.0 0.8 0 1 0 2.0 0a1.0 0.8 0 1 0 -2.0 0ZM276.76 113.40a1.0 0.8 0 1 0 2.0 0a1.0 0.8 0 1 0 -2.0 0ZM277.90 113.40a1.0 0.8 0 1 0 2.0 0a1.0 0.8 0 1 0 -2.0 0ZM279.04 113.40a1.0 0.8 0 1 0 2.0 0a1.0 0.8 0 1 0 -2.0 0ZM280.19 113.40a1.0 0.8 0 1 0 2.0 0a1.0 0.8 0 1 0 -2.0 0ZM281.33 113.40a1.0 0.8 0 1 0 2.0 0a1.0 0.8 0 1 0 -2.0 0ZM282.48 113.40a1.0 0.8 0 1 0 2.0 0a1.0 0.8 0 1 0 -2.0 0ZM283.62 113.40a1.0 0.8 0 1 0 2.0 0a1.0 0.8 0 1 0 -2.0 0ZM284.77 113.40a1.0 0.8 0 1 0 2.0 0a1.0 0.8 0 1 0 -2.0 0ZM285.91 113.40a1.0 0.8 0 1 0 2.0 0a1.0 0.8 0 1 0 -2.0 0ZM287.06 113.40a1.0 0.8 0 1 0 2.0 0a1.0 0.8 0 1 0 -2.0 0ZM288.20 113.40a1.0 0.8 0 1 0 2.0 0a1.0 0.8 0 1 0 -2.0 0ZM289.34 113.40a1.0 0.8 0 1 0 2.0 0a1.0 0.8 0 1 0 -2.0 0ZM290.49 113.40a1.0 0.8 0 1 0 2.0 0a1.0 0.8 0 1 0 -2.0 0ZM291.63 113.40a1.0 0.8 0 1 0 2.0 0a1.0 0.8 0 1 0 -2.0 0ZM292.78 113.40a1.0 0.8 0 1 0 2.0 0a1.0 0.8 0 1 0 -2.0 0ZM293.92 113.40a1.0 0.8 0 1 0 2.0 0a1.0 0.8 0 1 0 -2.0 0ZM295.07 113.40a1.0 0.8 0 1 0 2.0 0a1.0 0.8 0 1 0 -2.0 0ZM296.21 113.40a1.0 0.8 0 1 0 2.0 0a1.0 0.8 0 1 0 -2.0 0ZM297.36 113.40a1.0 0.8 0 1 0 2.0 0a1.0 0.8 0 1 0 -2.0 0ZM298.50 113.40a1.0 0.8 0 1 0 2.0 0a1.0 0.8 0 1 0 -2.0 0ZM299.64 113.40a1.0 0.8 0 1 0 2.0 0a1.0 0.8 0 1 0 -2.0 0ZM300.79 113.40a1.0 0.8 0 1 0 2.0 0a1.0 0.8 0 1 0 -2.0 0ZM301.93 113.40a1.0 0.8 0 1 0 2.0 0a1.0 0.8 0 1 0 -2.0 0ZM303.08 113.40a1.0 0.8 0 1 0 2.0 0a1.0 0.8 0 1 0 -2.0 0ZM304.22 113.40a1.0 0.8 0 1 0 2.0 0a1.0 0.8 0 1 0 -2.0 0ZM305.37 113.40a1.0 0.8 0 1 0 2.0 0a1.0 0.8 0 1 0 -2.0 0ZM306.51 113.40a1.0 0.8 0 1 0 2.0 0a1.0 0.8 0 1 0 -2.0 0ZM307.66 113.40a1.0 0.8 0 1 0 2.0 0a1.0 0.8 0 1 0 -2.0 0ZM308.80 113.40a1.0 0.8 0 1 0 2.0 0a1.0 0.8 0 1 0 -2.0 0Z" fill="#2f78d0"/>
<path d="M195.30 39.47h2.40v2.40h-2.40ZM196.44 39.52h2.40v2.40h-2.40ZM197.59 39.56h2.40v2.40h-2.40ZM198.73 39.61h2.40v2.40h-2.40ZM199.88 39.67h2.40v2.40h-2.40ZM201.02 39.73h2.40v2.40h-2.40ZM202.17 39.79h2.40v2.40h-2.40ZM203.31 39.86h2.40v2.40h-2.40ZM204.46 39.94h2.40v2.40h-2.40ZM205.60 40.03h2.40v2.40h-2.40ZM206.74 40.12h2.40v2.40h-2.40ZM207.89 40.23h2.40v2.40h-2.40ZM209.03 40.34h2.40v2.40h-2.40ZM210.18 40.48h2.40v2.40h-2.40ZM211.32 40.62h2.40v2.40h-2.40ZM212.47 40.79h2.40v2.40h-2.40ZM213.61 40.99h2.40v2.40h-2.40ZM214.76 41.21h2.40v2.40h-2.40ZM215.90 41.46h2.40v2.40h-2.40ZM217.04 41.76h2.40v2.40h-2.40ZM218.19 42.11h2.40v2.40h-2.40ZM219.33 42.51h2.40v2.40h-2.40ZM220.48 42.99h2.40v2.40h-2.40ZM221.62 43.56h2.40v2.40h-2.40ZM222.77 44.22h2.40v2.40h-2.40ZM223.91 44.99h2.40v2.40h-2.40ZM225.06 45.88h2.40v2.40h-2.40ZM226.20 46.89h2.40v2.40h-2.40ZM227.34 48.02h2.40v2.40h-2.40ZM228.49 49.26h2.40v2.40h-2.40ZM229.63 50.60h2.40v2.40h-2.40ZM230.78 52.04h2.40v2.40h-2.40ZM231.92 53.54h2.40v2.40h-2.40ZM233.07 55.12h2.40v2.40h-2.40ZM234.21 56.74h2.40v2.40h-2.40ZM235.36 58.41h2.40v2.40h-2.40ZM236.50 60.12h2.40v2.40h-2.40ZM237.64 61.86h2.40v2.40h-2.40ZM238.79 63.62h2.40v2.40h-2.40ZM239.93 65.41h2.40v2.40h-2.40ZM241.08 67.21h2.40v2.40h-2.40ZM242.22 69.03h2.40v2.40h-2.40ZM243.37 70.86h2.40v2.40h-2.40ZM244.51 72.70h2.40v2.40h-2.40ZM245.66 74.55h2.40v2.40h-2.40ZM246.80 76.41h2.40v2.40h-2.40ZM247.94 78.27h2.40v2.40h-2.40ZM249.09 80.14h2.40v2.40h-2.40ZM250.23 82.02h2.40v2.40h-2.40ZM251.38 83.91h2.40v2.40h-2.40ZM252.52 85.79h2.40v2.40h-2.40ZM253.67 87.68h2.40v2.40h-2.40ZM254.81 89.58h2.40v2.40h-2.40ZM255.96 91.48h2.40v2.40h-2.40ZM257.10 93.38h2.40v2.40h-2.40ZM258.24 95.28h2.40v2.40h-2.40ZM259.39 97.18h2.40v2.40h-2.40ZM260.53 99.09h2.40v2.40h-2.40ZM261.68 101.00h2.40v2.40h-2.40ZM262.82 102.91h2.40v2.40h-2.40ZM263.97 104.82h2.40v2.40h-2.40ZM265.11 106.74h2.40v2.40h-2.40ZM266.26 108.65h2.40v2.40h-2.40ZM267.40 112.20h2.40v2.40h-2.40ZM268.54 112.20h2.40v2.40h-2.40ZM269.69 112.20h2.40v2.40h-2.40ZM270.83 112.20h2.40v2.40h-2.40ZM271.98 112.20h2.40v2.40h-2.40ZM273.12 112.20h2.40v2.40h-2.40ZM274.27 112.20h2.40v2.40h-2.40ZM275.41 112.20h2.40v2.40h-2.40ZM276.56 112.20h2.40v2.40h-2.40ZM277.70 112.20h2.40v2.40h-2.40ZM278.84 112.20h2.40v2.40h-2.40ZM279.99 112.20h2.40v2.40h-2.40ZM281.13 112.20h2.40v2.40h-2.40ZM282.28 112.20h2.40v2.40h-2.40ZM283.42 112.20h2.40v2.40h-2.40ZM284.57 112.20h2.40v2.40h-2.40ZM285.71 112.20h2.40v2.40h-2.40ZM286.86 112.20h2.40v2.40h-2.40ZM288.00 112.20h2.40v2.40h-2.40ZM289.14 112.20h2.40v2.40h-2.40ZM290.29 112.20h2.40v2.40h-2.40ZM291.43 112.20h2.40v2.40h-2.40ZM292.58 112.20h2.40v2.40h-2.40ZM293.72 112.20h2.40v2.40h-2.40ZM294.87 112.20h2.40v2.40h-2.40ZM296.01 112.20h2.40v2.40h-2.40ZM297.16 112.20h2.40v2.40h-2.40ZM298.30 112.20h2.40v2.40h-2.40ZM299.44 112.20h2.40v2.40h-2.40ZM300.59 112.20h2.40v2.40h-2.40ZM301.73 112.20h2.40v2.40h-2.40ZM302.88 112.20h2.40v2.40h-2.40ZM304.02 112.20h2.40v2.40h-2.40ZM305.17 112.20h2.40v2.40h-2.40ZM306.31 112.20h2.40v2.40h-2.40ZM307.46 112.20h2.40v2.40h-2.40ZM308.60 112.20h2.40v2.40h-2.40Z" fill="none" stroke="#7438a8" stroke-width="0.78"/>
<path d="M195.10 40.87a1.4 1.4 0 1 0 2.8 0a1.4 1.4 0 1 0 -2.8 0ZM196.24 40.93a1.4 1.4 0 1 0 2.8 0a1.4 1.4 0 1 0 -2.8 0ZM197.39 41.00a1.4 1.4 0 1 0 2.8 0a1.4 1.4 0 1 0 -2.8 0ZM198.53 41.07a1.4 1.4 0 1 0 2.8 0a1.4 1.4 0 1 0 -2.8 0ZM199.68 41.15a1.4 1.4 0 1 0 2.8 0a1.4 1.4 0 1 0 -2.8 0ZM200.82 41.24a1.4 1.4 0 1 0 2.8 0a1.4 1.4 0 1 0 -2.8 0ZM201.97 41.33a1.4 1.4 0 1 0 2.8 0a1.4 1.4 0 1 0 -2.8 0ZM203.11 41.44a1.4 1.4 0 1 0 2.8 0a1.4 1.4 0 1 0 -2.8 0ZM204.26 41.56a1.4 1.4 0 1 0 2.8 0a1.4 1.4 0 1 0 -2.8 0ZM205.40 41.69a1.4 1.4 0 1 0 2.8 0a1.4 1.4 0 1 0 -2.8 0ZM206.54 41.84a1.4 1.4 0 1 0 2.8 0a1.4 1.4 0 1 0 -2.8 0ZM207.69 42.01a1.4 1.4 0 1 0 2.8 0a1.4 1.4 0 1 0 -2.8 0ZM208.83 42.21a1.4 1.4 0 1 0 2.8 0a1.4 1.4 0 1 0 -2.8 0ZM209.98 42.43a1.4 1.4 0 1 0 2.8 0a1.4 1.4 0 1 0 -2.8 0ZM211.12 42.69a1.4 1.4 0 1 0 2.8 0a1.4 1.4 0 1 0 -2.8 0ZM212.27 42.99a1.4 1.4 0 1 0 2.8 0a1.4 1.4 0 1 0 -2.8 0ZM213.41 43.34a1.4 1.4 0 1 0 2.8 0a1.4 1.4 0 1 0 -2.8 0ZM214.56 43.76a1.4 1.4 0 1 0 2.8 0a1.4 1.4 0 1 0 -2.8 0ZM215.70 44.25a1.4 1.4 0 1 0 2.8 0a1.4 1.4 0 1 0 -2.8 0ZM216.84 44.82a1.4 1.4 0 1 0 2.8 0a1.4 1.4 0 1 0 -2.8 0ZM217.99 45.49a1.4 1.4 0 1 0 2.8 0a1.4 1.4 0 1 0 -2.8 0ZM219.13 46.27a1.4 1.4 0 1 0 2.8 0a1.4 1.4 0 1 0 -2.8 0ZM220.28 47.18a1.4 1.4 0 1 0 2.8 0a1.4 1.4 0 1 0 -2.8 0ZM221.42 48.20a1.4 1.4 0 1 0 2.8 0a1.4 1.4 0 1 0 -2.8 0ZM222.57 49.34a1.4 1.4 0 1 0 2.8 0a1.4 1.4 0 1 0 -2.8 0ZM223.71 50.59a1.4 1.4 0 1 0 2.8 0a1.4 1.4 0 1 0 -2.8 0ZM224.86 51.94a1.4 1.4 0 1 0 2.8 0a1.4 1.4 0 1 0 -2.8 0ZM226.00 53.39a1.4 1.4 0 1 0 2.8 0a1.4 1.4 0 1 0 -2.8 0ZM227.14 54.90a1.4 1.4 0 1 0 2.8 0a1.4 1.4 0 1 0 -2.8 0ZM228.29 56.48a1.4 1.4 0 1 0 2.8 0a1.4 1.4 0 1 0 -2.8 0ZM229.43 58.11a1.4 1.4 0 1 0 2.8 0a1.4 1.4 0 1 0 -2.8 0ZM230.58 59.79a1.4 1.4 0 1 0 2.8 0a1.4 1.4 0 1 0 -2.8 0ZM231.72 61.50a1.4 1.4 0 1 0 2.8 0a1.4 1.4 0 1 0 -2.8 0ZM232.87 63.24a1.4 1.4 0 1 0 2.8 0a1.4 1.4 0 1 0 -2.8 0ZM234.01 65.00a1.4 1.4 0 1 0 2.8 0a1.4 1.4 0 1 0 -2.8 0ZM235.16 66.79a1.4 1.4 0 1 0 2.8 0a1.4 1.4 0 1 0 -2.8 0ZM236.30 68.59a1.4 1.4 0 1 0 2.8 0a1.4 1.4 0 1 0 -2.8 0ZM237.44 70.41a1.4 1.4 0 1 0 2.8 0a1.4 1.4 0 1 0 -2.8 0ZM238.59 72.24a1.4 1.4 0 1 0 2.8 0a1.4 1.4 0 1 0 -2.8 0ZM239.73 74.08a1.4 1.4 0 1 0 2.8 0a1.4 1.4 0 1 0 -2.8 0ZM240.88 75.94a1.4 1.4 0 1 0 2.8 0a1.4 1.4 0 1 0 -2.8 0ZM242.02 77.79a1.4 1.4 0 1 0 2.8 0a1.4 1.4 0 1 0 -2.8 0ZM243.17 79.66a1.4 1.4 0 1 0 2.8 0a1.4 1.4 0 1 0 -2.8 0ZM244.31 81.53a1.4 1.4 0 1 0 2.8 0a1.4 1.4 0 1 0 -2.8 0ZM245.46 83.41a1.4 1.4 0 1 0 2.8 0a1.4 1.4 0 1 0 -2.8 0ZM246.60 85.30a1.4 1.4 0 1 0 2.8 0a1.4 1.4 0 1 0 -2.8 0ZM247.74 87.18a1.4 1.4 0 1 0 2.8 0a1.4 1.4 0 1 0 -2.8 0ZM248.89 89.08a1.4 1.4 0 1 0 2.8 0a1.4 1.4 0 1 0 -2.8 0ZM250.03 90.97a1.4 1.4 0 1 0 2.8 0a1.4 1.4 0 1 0 -2.8 0ZM251.18 92.87a1.4 1.4 0 1 0 2.8 0a1.4 1.4 0 1 0 -2.8 0ZM252.32 94.77a1.4 1.4 0 1 0 2.8 0a1.4 1.4 0 1 0 -2.8 0ZM253.47 96.67a1.4 1.4 0 1 0 2.8 0a1.4 1.4 0 1 0 -2.8 0ZM254.61 98.58a1.4 1.4 0 1 0 2.8 0a1.4 1.4 0 1 0 -2.8 0ZM255.76 100.48a1.4 1.4 0 1 0 2.8 0a1.4 1.4 0 1 0 -2.8 0ZM256.90 102.39a1.4 1.4 0 1 0 2.8 0a1.4 1.4 0 1 0 -2.8 0ZM258.04 104.31a1.4 1.4 0 1 0 2.8 0a1.4 1.4 0 1 0 -2.8 0ZM259.19 106.22a1.4 1.4 0 1 0 2.8 0a1.4 1.4 0 1 0 -2.8 0ZM260.33 108.13a1.4 1.4 0 1 0 2.8 0a1.4 1.4 0 1 0 -2.8 0ZM261.48 110.05a1.4 1.4 0 1 0 2.8 0a1.4 1.4 0 1 0 -2.8 0ZM262.62 113.40a1.4 1.4 0 1 0 2.8 0a1.4 1.4 0 1 0 -2.8 0ZM263.77 113.40a1.4 1.4 0 1 0 2.8 0a1.4 1.4 0 1 0 -2.8 0ZM264.91 113.40a1.4 1.4 0 1 0 2.8 0a1.4 1.4 0 1 0 -2.8 0ZM266.06 113.40a1.4 1.4 0 1 0 2.8 0a1.4 1.4 0 1 0 -2.8 0ZM267.20 113.40a1.4 1.4 0 1 0 2.8 0a1.4 1.4 0 1 0 -2.8 0ZM268.34 113.40a1.4 1.4 0 1 0 2.8 0a1.4 1.4 0 1 0 -2.8 0ZM269.49 113.40a1.4 1.4 0 1 0 2.8 0a1.4 1.4 0 1 0 -2.8 0ZM270.63 113.40a1.4 1.4 0 1 0 2.8 0a1.4 1.4 0 1 0 -2.8 0ZM271.78 113.40a1.4 1.4 0 1 0 2.8 0a1.4 1.4 0 1 0 -2.8 0ZM272.92 113.40a1.4 1.4 0 1 0 2.8 0a1.4 1.4 0 1 0 -2.8 0ZM274.07 113.40a1.4 1.4 0 1 0 2.8 0a1.4 1.4 0 1 0 -2.8 0ZM275.21 113.40a1.4 1.4 0 1 0 2.8 0a1.4 1.4 0 1 0 -2.8 0ZM276.36 113.40a1.4 1.4 0 1 0 2.8 0a1.4 1.4 0 1 0 -2.8 0ZM277.50 113.40a1.4 1.4 0 1 0 2.8 0a1.4 1.4 0 1 0 -2.8 0ZM278.64 113.40a1.4 1.4 0 1 0 2.8 0a1.4 1.4 0 1 0 -2.8 0ZM279.79 113.40a1.4 1.4 0 1 0 2.8 0a1.4 1.4 0 1 0 -2.8 0ZM280.93 113.40a1.4 1.4 0 1 0 2.8 0a1.4 1.4 0 1 0 -2.8 0ZM282.08 113.40a1.4 1.4 0 1 0 2.8 0a1.4 1.4 0 1 0 -2.8 0ZM283.22 113.40a1.4 1.4 0 1 0 2.8 0a1.4 1.4 0 1 0 -2.8 0ZM284.37 113.40a1.4 1.4 0 1 0 2.8 0a1.4 1.4 0 1 0 -2.8 0ZM285.51 113.40a1.4 1.4 0 1 0 2.8 0a1.4 1.4 0 1 0 -2.8 0ZM286.66 113.40a1.4 1.4 0 1 0 2.8 0a1.4 1.4 0 1 0 -2.8 0ZM287.80 113.40a1.4 1.4 0 1 0 2.8 0a1.4 1.4 0 1 0 -2.8 0ZM288.94 113.40a1.4 1.4 0 1 0 2.8 0a1.4 1.4 0 1 0 -2.8 0ZM290.09 113.40a1.4 1.4 0 1 0 2.8 0a1.4 1.4 0 1 0 -2.8 0ZM291.23 113.40a1.4 1.4 0 1 0 2.8 0a1.4 1.4 0 1 0 -2.8 0ZM292.38 113.40a1.4 1.4 0 1 0 2.8 0a1.4 1.4 0 1 0 -2.8 0ZM293.52 113.40a1.4 1.4 0 1 0 2.8 0a1.4 1.4 0 1 0 -2.8 0ZM294.67 113.40a1.4 1.4 0 1 0 2.8 0a1.4 1.4 0 1 0 -2.8 0ZM295.81 113.40a1.4 1.4 0 1 0 2.8 0a1.4 1.4 0 1 0 -2.8 0ZM296.96 113.40a1.4 1.4 0 1 0 2.8 0a1.4 1.4 0 1 0 -2.8 0ZM298.10 113.40a1.4 1.4 0 1 0 2.8 0a1.4 1.4 0 1 0 -2.8 0ZM299.24 113.40a1.4 1.4 0 1 0 2.8 0a1.4 1.4 0 1 0 -2.8 0ZM300.39 113.40a1.4 1.4 0 1 0 2.8 0a1.4 1.4 0 1 0 -2.8 0ZM301.53 113.40a1.4 1.4 0 1 0 2.8 0a1.4 1.4 0 1 0 -2.8 0ZM302.68 113.40a1.4 1.4 0 1 0 2.8 0a1.4 1.4 0 1 0 -2.8 0ZM303.82 113.40a1.4 1.4 0 1 0 2.8 0a1.4 1.4 0 1 0 -2.8 0ZM304.97 113.40a1.4 1.4 0 1 0 2.8 0a1.4 1.4 0 1 0 -2.8 0ZM306.11 113.40a1.4 1.4 0 1 0 2.8 0a1.4 1.4 0 1 0 -2.8 0ZM307.26 113.40a1.4 1.4 0 1 0 2.8 0a1.4 1.4 0 1 0 -2.8 0ZM308.40 113.40a1.4 1.4 0 1 0 2.8 0a1.4 1.4 0 1 0 -2.8 0Z" fill="#e65a20"/>
<path d="M196.50 42.57L198.55 44.97L196.50 47.37L194.45 44.97ZM197.64 43.27L199.69 45.67L197.64 48.07L195.59 45.67ZM198.79 44.07L200.84 46.47L198.79 48.87L196.74 46.47ZM199.93 45.00L201.98 47.40L199.93 49.80L197.88 47.40ZM201.08 46.05L203.13 48.45L201.08 50.85L199.03 48.45ZM202.22 47.22L204.27 49.62L202.22 52.02L200.17 49.62ZM203.37 48.50L205.42 50.90L203.37 53.30L201.32 50.90ZM204.51 49.87L206.56 52.27L204.51 54.67L202.46 52.27ZM205.66 51.33L207.71 53.73L205.66 56.13L203.61 53.73ZM206.80 52.87L208.85 55.27L206.80 57.67L204.75 55.27ZM207.94 54.46L209.99 56.86L207.94 59.26L205.89 56.86ZM209.09 56.10L211.14 58.50L209.09 60.90L207.04 58.50ZM210.23 57.78L212.28 60.18L210.23 62.58L208.18 60.18ZM211.38 59.50L213.43 61.90L211.38 64.30L209.33 61.90ZM212.52 61.25L214.57 63.65L212.52 66.05L210.47 63.65ZM213.67 63.02L215.72 65.42L213.67 67.82L211.62 65.42ZM214.81 64.81L216.86 67.21L214.81 69.61L212.76 67.21ZM215.96 66.62L218.01 69.02L215.96 71.42L213.91 69.02ZM217.10 68.44L219.15 70.84L217.10 73.24L215.05 70.84ZM218.24 70.27L220.29 72.67L218.24 75.07L216.19 72.67ZM219.39 72.12L221.44 74.52L219.39 76.92L217.34 74.52ZM220.53 73.97L222.58 76.37L220.53 78.77L218.48 76.37ZM221.68 75.83L223.73 78.23L221.68 80.63L219.63 78.23ZM222.82 77.70L224.87 80.10L222.82 82.50L220.77 80.10ZM223.97 79.57L226.02 81.97L223.97 84.37L221.92 81.97ZM225.11 81.45L227.16 83.85L225.11 86.25L223.06 83.85ZM226.26 83.34L228.31 85.74L226.26 88.14L224.21 85.74ZM227.40 85.23L229.45 87.63L227.40 90.03L225.35 87.63ZM228.54 87.12L230.59 89.52L228.54 91.92L226.49 89.52ZM229.69 89.01L231.74 91.41L229.69 93.81L227.64 91.41ZM230.83 90.91L232.88 93.31L230.83 95.71L228.78 93.31ZM231.98 92.81L234.03 95.21L231.98 97.61L229.93 95.21ZM233.12 94.72L235.17 97.12L233.12 99.52L231.07 97.12ZM234.27 96.62L236.32 99.02L234.27 101.42L232.22 99.02ZM235.41 98.53L237.46 100.93L235.41 103.33L233.36 100.93ZM236.56 100.44L238.61 102.84L236.56 105.24L234.51 102.84ZM237.70 102.35L239.75 104.75L237.70 107.15L235.65 104.75ZM238.84 104.27L240.89 106.67L238.84 109.07L236.79 106.67ZM239.99 106.18L242.04 108.58L239.99 110.98L237.94 108.58ZM241.13 108.10L243.18 110.50L241.13 112.90L239.08 110.50ZM242.28 111.00L244.33 113.40L242.28 115.80L240.23 113.40ZM243.42 111.00L245.47 113.40L243.42 115.80L241.37 113.40ZM244.57 111.00L246.62 113.40L244.57 115.80L242.52 113.40ZM245.71 111.00L247.76 113.40L245.71 115.80L243.66 113.40ZM246.86 111.00L248.91 113.40L246.86 115.80L244.81 113.40ZM248.00 111.00L250.05 113.40L248.00 115.80L245.95 113.40ZM249.14 111.00L251.19 113.40L249.14 115.80L247.09 113.40ZM250.29 111.00L252.34 113.40L250.29 115.80L248.24 113.40ZM251.43 111.00L253.48 113.40L251.43 115.80L249.38 113.40ZM252.58 111.00L254.63 113.40L252.58 115.80L250.53 113.40ZM253.72 111.00L255.77 113.40L253.72 115.80L251.67 113.40ZM254.87 111.00L256.92 113.40L254.87 115.80L252.82 113.40ZM256.01 111.00L258.06 113.40L256.01 115.80L253.96 113.40ZM257.16 111.00L259.21 113.40L257.16 115.80L255.11 113.40ZM258.30 111.00L260.35 113.40L258.30 115.80L256.25 113.40ZM259.44 111.00L261.49 113.40L259.44 115.80L257.39 113.40ZM260.59 111.00L262.64 113.40L260.59 115.80L258.54 113.40ZM261.73 111.00L263.78 113.40L261.73 115.80L259.68 113.40ZM262.88 111.00L264.93 113.40L262.88 115.80L260.83 113.40ZM264.02 111.00L266.07 113.40L264.02 115.80L261.97 113.40ZM265.17 111.00L267.22 113.40L265.17 115.80L263.12 113.40ZM266.31 111.00L268.36 113.40L266.31 115.80L264.26 113.40ZM267.46 111.00L269.51 113.40L267.46 115.80L265.41 113.40ZM268.60 111.00L270.65 113.40L268.60 115.80L266.55 113.40ZM269.74 111.00L271.79 113.40L269.74 115.80L267.69 113.40ZM270.89 111.00L272.94 113.40L270.89 115.80L268.84 113.40ZM272.03 111.00L274.08 113.40L272.03 115.80L269.98 113.40ZM273.18 111.00L275.23 113.40L273.18 115.80L271.13 113.40ZM274.32 111.00L276.37 113.40L274.32 115.80L272.27 113.40ZM275.47 111.00L277.52 113.40L275.47 115.80L273.42 113.40ZM276.61 111.00L278.66 113.40L276.61 115.80L274.56 113.40ZM277.76 111.00L279.81 113.40L277.76 115.80L275.71 113.40ZM278.90 111.00L280.95 113.40L278.90 115.80L276.85 113.40ZM280.04 111.00L282.09 113.40L280.04 115.80L277.99 113.40ZM281.19 111.00L283.24 113.40L281.19 115.80L279.14 113.40ZM282.33 111.00L284.38 113.40L282.33 115.80L280.28 113.40ZM283.48 111.00L285.53 113.40L283.48 115.80L281.43 113.40ZM284.62 111.00L286.67 113.40L284.62 115.80L282.57 113.40ZM285.77 111.00L287.82 113.40L285.77 115.80L283.72 113.40ZM286.91 111.00L288.96 113.40L286.91 115.80L284.86 113.40ZM288.06 111.00L290.11 113.40L288.06 115.80L286.01 113.40ZM289.20 111.00L291.25 113.40L289.20 115.80L287.15 113.40ZM290.34 111.00L292.39 113.40L290.34 115.80L288.29 113.40ZM291.49 111.00L293.54 113.40L291.49 115.80L289.44 113.40ZM292.63 111.00L294.68 113.40L292.63 115.80L290.58 113.40ZM293.78 111.00L295.83 113.40L293.78 115.80L291.73 113.40ZM294.92 111.00L296.97 113.40L294.92 115.80L292.87 113.40ZM296.07 111.00L298.12 113.40L296.07 115.80L294.02 113.40ZM297.21 111.00L299.26 113.40L297.21 115.80L295.16 113.40ZM298.36 111.00L300.41 113.40L298.36 115.80L296.31 113.40ZM299.50 111.00L301.55 113.40L299.50 115.80L297.45 113.40ZM300.64 111.00L302.69 113.40L300.64 115.80L298.59 113.40ZM301.79 111.00L303.84 113.40L301.79 115.80L299.74 113.40ZM302.93 111.00L304.98 113.40L302.93 115.80L300.88 113.40ZM304.08 111.00L306.13 113.40L304.08 115.80L302.03 113.40ZM305.22 111.00L307.27 113.40L305.22 115.80L303.17 113.40ZM306.37 111.00L308.42 113.40L306.37 115.80L304.32 113.40ZM307.51 111.00L309.56 113.40L307.51 115.80L305.46 113.40ZM308.66 111.00L310.71 113.40L308.66 115.80L306.61 113.40ZM309.80 111.00L311.85 113.40L309.80 115.80L307.75 113.40Z" fill="none" stroke="#747474" stroke-width="1.05"/>
<path d="M196.50 39.45L198.95 43.80L194.05 43.80ZM197.64 39.68L200.09 44.03L195.19 44.03ZM198.79 39.96L201.24 44.31L196.34 44.31ZM199.93 40.30L202.38 44.65L197.48 44.65ZM201.08 40.71L203.53 45.06L198.63 45.06ZM202.22 41.21L204.67 45.56L199.77 45.56ZM203.37 41.81L205.82 46.16L200.92 46.16ZM204.51 42.54L206.96 46.89L202.06 46.89ZM205.66 43.41L208.11 47.75L203.21 47.75ZM206.80 44.42L209.25 48.77L204.35 48.77ZM207.94 45.57L210.39 49.92L205.49 49.92ZM209.09 46.86L211.54 51.21L206.64 51.21ZM210.23 48.26L212.68 52.61L207.78 52.61ZM211.38 49.76L213.83 54.10L208.93 54.10ZM212.52 51.33L214.97 55.68L210.07 55.68ZM213.67 52.97L216.12 57.31L211.22 57.31ZM214.81 54.65L217.26 59.00L212.36 59.00ZM215.96 56.38L218.41 60.73L213.51 60.73ZM217.10 58.14L219.55 62.49L214.65 62.49ZM218.24 59.92L220.69 64.27L215.79 64.27ZM219.39 61.73L221.84 66.08L216.94 66.08ZM220.53 63.55L222.98 67.90L218.08 67.90ZM221.68 65.39L224.13 69.74L219.23 69.74ZM222.82 67.24L225.27 71.58L220.37 71.58ZM223.97 69.10L226.42 73.44L221.52 73.44ZM225.11 70.96L227.56 75.31L222.66 75.31ZM226.26 72.84L228.71 77.19L223.81 77.19ZM227.40 74.72L229.85 79.07L224.95 79.07ZM228.54 76.61L230.99 80.95L226.09 80.95ZM229.69 78.50L232.14 82.84L227.24 82.84ZM230.83 80.39L233.28 84.74L228.38 84.74ZM231.98 82.29L234.43 86.64L229.53 86.64ZM233.12 84.19L235.57 88.54L230.67 88.54ZM234.27 86.10L236.72 90.45L231.82 90.45ZM235.41 88.01L237.86 92.35L232.96 92.35ZM236.56 89.91L239.01 94.26L234.11 94.26ZM237.70 91.83L240.15 96.17L235.25 96.17ZM238.84 93.74L241.29 98.09L236.39 98.09ZM239.99 95.65L242.44 100.00L237.54 100.00ZM241.13 97.57L243.58 101.92L238.68 101.92ZM242.28 111.05L244.73 115.40L239.83 115.40ZM243.42 111.05L245.87 115.40L240.97 115.40ZM244.57 111.05L247.02 115.40L242.12 115.40ZM245.71 111.05L248.16 115.40L243.26 115.40ZM246.86 111.05L249.31 115.40L244.41 115.40ZM248.00 111.05L250.45 115.40L245.55 115.40ZM249.14 111.05L251.59 115.40L246.69 115.40ZM250.29 111.05L252.74 115.40L247.84 115.40ZM251.43 111.05L253.88 115.40L248.98 115.40ZM252.58 111.05L255.03 115.40L250.13 115.40ZM253.72 111.05L256.17 115.40L251.27 115.40ZM254.87 111.05L257.32 115.40L252.42 115.40ZM256.01 111.05L258.46 115.40L253.56 115.40ZM257.16 111.05L259.61 115.40L254.71 115.40ZM258.30 111.05L260.75 115.40L255.85 115.40ZM259.44 111.05L261.89 115.40L256.99 115.40ZM260.59 111.05L263.04 115.40L258.14 115.40ZM261.73 111.05L264.18 115.40L259.28 115.40ZM262.88 111.05L265.33 115.40L260.43 115.40ZM264.02 111.05L266.47 115.40L261.57 115.40ZM265.17 111.05L267.62 115.40L262.72 115.40ZM266.31 111.05L268.76 115.40L263.86 115.40ZM267.46 111.05L269.91 115.40L265.01 115.40ZM268.60 111.05L271.05 115.40L266.15 115.40ZM269.74 111.05L272.19 115.40L267.29 115.40ZM270.89 111.05L273.34 115.40L268.44 115.40ZM272.03 111.05L274.48 115.40L269.58 115.40ZM273.18 111.05L275.63 115.40L270.73 115.40ZM274.32 111.05L276.77 115.40L271.87 115.40ZM275.47 111.05L277.92 115.40L273.02 115.40ZM276.61 111.05L279.06 115.40L274.16 115.40ZM277.76 111.05L280.21 115.40L275.31 115.40ZM278.90 111.05L281.35 115.40L276.45 115.40ZM280.04 111.05L282.49 115.40L277.59 115.40ZM281.19 111.05L283.64 115.40L278.74 115.40ZM282.33 111.05L284.78 115.40L279.88 115.40ZM283.48 111.05L285.93 115.40L281.03 115.40ZM284.62 111.05L287.07 115.40L282.17 115.40ZM285.77 111.05L288.22 115.40L283.32 115.40ZM286.91 111.05L289.36 115.40L284.46 115.40ZM288.06 111.05L290.51 115.40L285.61 115.40ZM289.20 111.05L291.65 115.40L286.75 115.40ZM290.34 111.05L292.79 115.40L287.89 115.40ZM291.49 111.05L293.94 115.40L289.04 115.40ZM292.63 111.05L295.08 115.40L290.18 115.40ZM293.78 111.05L296.23 115.40L291.33 115.40ZM294.92 111.05L297.37 115.40L292.47 115.40ZM296.07 111.05L298.52 115.40L293.62 115.40ZM297.21 111.05L299.66 115.40L294.76 115.40ZM298.36 111.05L300.81 115.40L295.91 115.40ZM299.50 111.05L301.95 115.40L297.05 115.40ZM300.64 111.05L303.09 115.40L298.19 115.40ZM301.79 111.05L304.24 115.40L299.34 115.40ZM302.93 111.05L305.38 115.40L300.48 115.40ZM304.08 111.05L306.53 115.40L301.63 115.40ZM305.22 111.05L307.67 115.40L302.77 115.40ZM306.37 111.05L308.82 115.40L303.92 115.40ZM307.51 111.05L309.96 115.40L305.06 115.40ZM308.66 111.05L311.11 115.40L306.21 115.40ZM309.80 111.05L312.25 115.40L307.35 115.40Z" fill="#725667"/>
</g>
<text x="194.20" y="116.10" font-size="6.7" text-anchor="end" font-weight="normal" fill="#111" >0</text>
<text x="194.20" y="94.68" font-size="6.7" text-anchor="end" font-weight="normal" fill="#111" >2000</text>
<text x="194.20" y="73.25" font-size="6.7" text-anchor="end" font-weight="normal" fill="#111" >4000</text>
<text x="194.20" y="51.83" font-size="6.7" text-anchor="end" font-weight="normal" fill="#111" >6000</text>
<text x="194.20" y="30.40" font-size="6.7" text-anchor="end" font-weight="normal" fill="#111" >8000</text>
<text x="194.90" y="124.50" font-size="6.7" text-anchor="middle" fill="#111">10</text>
<text x="198.60" y="120.80" font-size="4.8" text-anchor="start" fill="#111">0</text>
<text x="227.27" y="124.50" font-size="6.7" text-anchor="middle" fill="#111">10</text>
<text x="230.97" y="120.80" font-size="4.8" text-anchor="start" fill="#111">2</text>
<text x="259.64" y="124.50" font-size="6.7" text-anchor="middle" fill="#111">10</text>
<text x="263.34" y="120.80" font-size="4.8" text-anchor="start" fill="#111">4</text>
<text x="292.01" y="124.50" font-size="6.7" text-anchor="middle" fill="#111">10</text>
<text x="295.71" y="120.80" font-size="4.8" text-anchor="start" fill="#111">6</text>
<text x="252.35" y="133.20" font-size="7.55" text-anchor="middle" font-weight="bold" fill="#111" >Elastic Modulus [kPa]</text>
<text transform="translate(177.00 130.95) rotate(-90) scale(0.94 1)" font-size="8.1" text-anchor="start" font-weight="bold" fill="#111">Maximum Bubble Diameter<tspan dx="2.5" font-size="7.4">[</tspan><tspan dx="2.8" font-size="8.8" font-weight="normal" font-style="italic">μ</tspan><tspan font-size="8.8" font-weight="normal">m</tspan><tspan font-size="7.4">]</tspan></text>
<text x="302.80" y="107.80" font-size="7.2" text-anchor="middle" font-weight="bold" fill="#000" >B</text>
<rect x="23.70" y="164.00" width="116.40" height="86.60" fill="none" stroke="#262626" stroke-width="0.7"/>
<path d="M23.70 250.60v-1.8M23.70 164.00v1.8M28.71 250.60v-1.2M28.71 164.00v1.2M31.63 250.60v-1.2M31.63 164.00v1.2M33.71 250.60v-1.2M33.71 164.00v1.2M35.32 250.60v-1.2M35.32 164.00v1.2M36.64 250.60v-1.2M36.64 164.00v1.2M37.75 250.60v-1.2M37.75 164.00v1.2M38.72 250.60v-1.2M38.72 164.00v1.2M39.57 250.60v-1.2M39.57 164.00v1.2M40.33 250.60v-1.8M40.33 164.00v1.8M45.33 250.60v-1.2M45.33 164.00v1.2M48.26 250.60v-1.2M48.26 164.00v1.2M50.34 250.60v-1.2M50.34 164.00v1.2M51.95 250.60v-1.2M51.95 164.00v1.2M53.27 250.60v-1.2M53.27 164.00v1.2M54.38 250.60v-1.2M54.38 164.00v1.2M55.35 250.60v-1.2M55.35 164.00v1.2M56.20 250.60v-1.2M56.20 164.00v1.2M56.96 250.60v-1.8M56.96 164.00v1.8M61.96 250.60v-1.2M61.96 164.00v1.2M64.89 250.60v-1.2M64.89 164.00v1.2M66.97 250.60v-1.2M66.97 164.00v1.2M68.58 250.60v-1.2M68.58 164.00v1.2M69.90 250.60v-1.2M69.90 164.00v1.2M71.01 250.60v-1.2M71.01 164.00v1.2M71.97 250.60v-1.2M71.97 164.00v1.2M72.82 250.60v-1.2M72.82 164.00v1.2M73.59 250.60v-1.8M73.59 164.00v1.8M78.59 250.60v-1.2M78.59 164.00v1.2M81.52 250.60v-1.2M81.52 164.00v1.2M83.60 250.60v-1.2M83.60 164.00v1.2M85.21 250.60v-1.2M85.21 164.00v1.2M86.53 250.60v-1.2M86.53 164.00v1.2M87.64 250.60v-1.2M87.64 164.00v1.2M88.60 250.60v-1.2M88.60 164.00v1.2M89.45 250.60v-1.2M89.45 164.00v1.2M90.21 250.60v-1.8M90.21 164.00v1.8M95.22 250.60v-1.2M95.22 164.00v1.2M98.15 250.60v-1.2M98.15 164.00v1.2M100.23 250.60v-1.2M100.23 164.00v1.2M101.84 250.60v-1.2M101.84 164.00v1.2M103.15 250.60v-1.2M103.15 164.00v1.2M104.27 250.60v-1.2M104.27 164.00v1.2M105.23 250.60v-1.2M105.23 164.00v1.2M106.08 250.60v-1.2M106.08 164.00v1.2M106.84 250.60v-1.8M106.84 164.00v1.8M111.85 250.60v-1.2M111.85 164.00v1.2M114.78 250.60v-1.2M114.78 164.00v1.2M116.85 250.60v-1.2M116.85 164.00v1.2M118.47 250.60v-1.2M118.47 164.00v1.2M119.78 250.60v-1.2M119.78 164.00v1.2M120.90 250.60v-1.2M120.90 164.00v1.2M121.86 250.60v-1.2M121.86 164.00v1.2M122.71 250.60v-1.2M122.71 164.00v1.2M123.47 250.60v-1.8M123.47 164.00v1.8M128.48 250.60v-1.2M128.48 164.00v1.2M131.41 250.60v-1.2M131.41 164.00v1.2M133.48 250.60v-1.2M133.48 164.00v1.2M135.09 250.60v-1.2M135.09 164.00v1.2M136.41 250.60v-1.2M136.41 164.00v1.2M137.52 250.60v-1.2M137.52 164.00v1.2M138.49 250.60v-1.2M138.49 164.00v1.2M139.34 250.60v-1.2M139.34 164.00v1.2M140.10 250.60v-1.8M140.10 164.00v1.8M23.70 250.60h1.8M140.10 250.60h-1.8M23.70 233.28h1.8M140.10 233.28h-1.8M23.70 215.96h1.8M140.10 215.96h-1.8M23.70 198.64h1.8M140.10 198.64h-1.8M23.70 181.32h1.8M140.10 181.32h-1.8M23.70 164.00h1.8M140.10 164.00h-1.8" stroke="#262626" stroke-width="0.6" fill="none"/>
<g clip-path="url(#clipC)">
<path d="M22.70 173.10a1.0 0.8 0 1 0 2.0 0a1.0 0.8 0 1 0 -2.0 0ZM23.88 173.10a1.0 0.8 0 1 0 2.0 0a1.0 0.8 0 1 0 -2.0 0ZM25.05 173.10a1.0 0.8 0 1 0 2.0 0a1.0 0.8 0 1 0 -2.0 0ZM26.23 173.10a1.0 0.8 0 1 0 2.0 0a1.0 0.8 0 1 0 -2.0 0ZM27.40 173.10a1.0 0.8 0 1 0 2.0 0a1.0 0.8 0 1 0 -2.0 0ZM28.58 173.10a1.0 0.8 0 1 0 2.0 0a1.0 0.8 0 1 0 -2.0 0ZM29.75 173.10a1.0 0.8 0 1 0 2.0 0a1.0 0.8 0 1 0 -2.0 0ZM30.93 173.10a1.0 0.8 0 1 0 2.0 0a1.0 0.8 0 1 0 -2.0 0ZM32.11 173.10a1.0 0.8 0 1 0 2.0 0a1.0 0.8 0 1 0 -2.0 0ZM33.28 173.10a1.0 0.8 0 1 0 2.0 0a1.0 0.8 0 1 0 -2.0 0ZM34.46 173.10a1.0 0.8 0 1 0 2.0 0a1.0 0.8 0 1 0 -2.0 0ZM35.63 173.11a1.0 0.8 0 1 0 2.0 0a1.0 0.8 0 1 0 -2.0 0ZM36.81 173.11a1.0 0.8 0 1 0 2.0 0a1.0 0.8 0 1 0 -2.0 0ZM37.98 173.11a1.0 0.8 0 1 0 2.0 0a1.0 0.8 0 1 0 -2.0 0ZM39.16 173.11a1.0 0.8 0 1 0 2.0 0a1.0 0.8 0 1 0 -2.0 0ZM40.34 173.12a1.0 0.8 0 1 0 2.0 0a1.0 0.8 0 1 0 -2.0 0ZM41.51 173.12a1.0 0.8 0 1 0 2.0 0a1.0 0.8 0 1 0 -2.0 0ZM42.69 173.13a1.0 0.8 0 1 0 2.0 0a1.0 0.8 0 1 0 -2.0 0ZM43.86 173.13a1.0 0.8 0 1 0 2.0 0a1.0 0.8 0 1 0 -2.0 0ZM45.04 173.14a1.0 0.8 0 1 0 2.0 0a1.0 0.8 0 1 0 -2.0 0ZM46.22 173.15a1.0 0.8 0 1 0 2.0 0a1.0 0.8 0 1 0 -2.0 0ZM47.39 173.16a1.0 0.8 0 1 0 2.0 0a1.0 0.8 0 1 0 -2.0 0ZM48.57 173.17a1.0 0.8 0 1 0 2.0 0a1.0 0.8 0 1 0 -2.0 0ZM49.74 173.18a1.0 0.8 0 1 0 2.0 0a1.0 0.8 0 1 0 -2.0 0ZM50.92 173.20a1.0 0.8 0 1 0 2.0 0a1.0 0.8 0 1 0 -2.0 0ZM52.09 173.22a1.0 0.8 0 1 0 2.0 0a1.0 0.8 0 1 0 -2.0 0ZM53.27 173.24a1.0 0.8 0 1 0 2.0 0a1.0 0.8 0 1 0 -2.0 0ZM54.45 173.27a1.0 0.8 0 1 0 2.0 0a1.0 0.8 0 1 0 -2.0 0ZM55.62 173.30a1.0 0.8 0 1 0 2.0 0a1.0 0.8 0 1 0 -2.0 0ZM56.80 173.34a1.0 0.8 0 1 0 2.0 0a1.0 0.8 0 1 0 -2.0 0ZM57.97 173.38a1.0 0.8 0 1 0 2.0 0a1.0 0.8 0 1 0 -2.0 0ZM59.15 173.43a1.0 0.8 0 1 0 2.0 0a1.0 0.8 0 1 0 -2.0 0ZM60.32 173.49a1.0 0.8 0 1 0 2.0 0a1.0 0.8 0 1 0 -2.0 0ZM61.50 173.56a1.0 0.8 0 1 0 2.0 0a1.0 0.8 0 1 0 -2.0 0ZM62.68 173.64a1.0 0.8 0 1 0 2.0 0a1.0 0.8 0 1 0 -2.0 0ZM63.85 173.74a1.0 0.8 0 1 0 2.0 0a1.0 0.8 0 1 0 -2.0 0ZM65.03 173.85a1.0 0.8 0 1 0 2.0 0a1.0 0.8 0 1 0 -2.0 0ZM66.20 173.99a1.0 0.8 0 1 0 2.0 0a1.0 0.8 0 1 0 -2.0 0ZM67.38 174.15a1.0 0.8 0 1 0 2.0 0a1.0 0.8 0 1 0 -2.0 0ZM68.55 174.34a1.0 0.8 0 1 0 2.0 0a1.0 0.8 0 1 0 -2.0 0ZM69.73 174.56a1.0 0.8 0 1 0 2.0 0a1.0 0.8 0 1 0 -2.0 0ZM70.91 174.82a1.0 0.8 0 1 0 2.0 0a1.0 0.8 0 1 0 -2.0 0ZM72.08 175.13a1.0 0.8 0 1 0 2.0 0a1.0 0.8 0 1 0 -2.0 0ZM73.26 175.49a1.0 0.8 0 1 0 2.0 0a1.0 0.8 0 1 0 -2.0 0ZM74.43 175.93a1.0 0.8 0 1 0 2.0 0a1.0 0.8 0 1 0 -2.0 0ZM75.61 176.44a1.0 0.8 0 1 0 2.0 0a1.0 0.8 0 1 0 -2.0 0ZM76.78 177.05a1.0 0.8 0 1 0 2.0 0a1.0 0.8 0 1 0 -2.0 0ZM77.96 177.77a1.0 0.8 0 1 0 2.0 0a1.0 0.8 0 1 0 -2.0 0ZM79.14 178.63a1.0 0.8 0 1 0 2.0 0a1.0 0.8 0 1 0 -2.0 0ZM80.31 179.65a1.0 0.8 0 1 0 2.0 0a1.0 0.8 0 1 0 -2.0 0ZM81.49 180.87a1.0 0.8 0 1 0 2.0 0a1.0 0.8 0 1 0 -2.0 0ZM82.66 182.34a1.0 0.8 0 1 0 2.0 0a1.0 0.8 0 1 0 -2.0 0ZM83.84 184.11a1.0 0.8 0 1 0 2.0 0a1.0 0.8 0 1 0 -2.0 0ZM85.02 186.25a1.0 0.8 0 1 0 2.0 0a1.0 0.8 0 1 0 -2.0 0ZM86.19 188.87a1.0 0.8 0 1 0 2.0 0a1.0 0.8 0 1 0 -2.0 0ZM87.37 192.10a1.0 0.8 0 1 0 2.0 0a1.0 0.8 0 1 0 -2.0 0ZM88.54 196.15a1.0 0.8 0 1 0 2.0 0a1.0 0.8 0 1 0 -2.0 0ZM89.72 201.34a1.0 0.8 0 1 0 2.0 0a1.0 0.8 0 1 0 -2.0 0ZM90.89 208.25a1.0 0.8 0 1 0 2.0 0a1.0 0.8 0 1 0 -2.0 0ZM92.07 218.22a1.0 0.8 0 1 0 2.0 0a1.0 0.8 0 1 0 -2.0 0ZM93.25 237.51a1.0 0.8 0 1 0 2.0 0a1.0 0.8 0 1 0 -2.0 0ZM94.42 250.60a1.0 0.8 0 1 0 2.0 0a1.0 0.8 0 1 0 -2.0 0ZM95.60 250.60a1.0 0.8 0 1 0 2.0 0a1.0 0.8 0 1 0 -2.0 0ZM96.77 250.60a1.0 0.8 0 1 0 2.0 0a1.0 0.8 0 1 0 -2.0 0ZM97.95 250.60a1.0 0.8 0 1 0 2.0 0a1.0 0.8 0 1 0 -2.0 0ZM99.12 250.60a1.0 0.8 0 1 0 2.0 0a1.0 0.8 0 1 0 -2.0 0ZM100.30 250.60a1.0 0.8 0 1 0 2.0 0a1.0 0.8 0 1 0 -2.0 0ZM101.48 250.60a1.0 0.8 0 1 0 2.0 0a1.0 0.8 0 1 0 -2.0 0ZM102.65 250.60a1.0 0.8 0 1 0 2.0 0a1.0 0.8 0 1 0 -2.0 0ZM103.83 250.60a1.0 0.8 0 1 0 2.0 0a1.0 0.8 0 1 0 -2.0 0ZM105.00 250.60a1.0 0.8 0 1 0 2.0 0a1.0 0.8 0 1 0 -2.0 0ZM106.18 250.60a1.0 0.8 0 1 0 2.0 0a1.0 0.8 0 1 0 -2.0 0ZM107.35 250.60a1.0 0.8 0 1 0 2.0 0a1.0 0.8 0 1 0 -2.0 0ZM108.53 250.60a1.0 0.8 0 1 0 2.0 0a1.0 0.8 0 1 0 -2.0 0ZM109.71 250.60a1.0 0.8 0 1 0 2.0 0a1.0 0.8 0 1 0 -2.0 0ZM110.88 250.60a1.0 0.8 0 1 0 2.0 0a1.0 0.8 0 1 0 -2.0 0ZM112.06 250.60a1.0 0.8 0 1 0 2.0 0a1.0 0.8 0 1 0 -2.0 0ZM113.23 250.60a1.0 0.8 0 1 0 2.0 0a1.0 0.8 0 1 0 -2.0 0ZM114.41 250.60a1.0 0.8 0 1 0 2.0 0a1.0 0.8 0 1 0 -2.0 0ZM115.58 250.60a1.0 0.8 0 1 0 2.0 0a1.0 0.8 0 1 0 -2.0 0ZM116.76 250.60a1.0 0.8 0 1 0 2.0 0a1.0 0.8 0 1 0 -2.0 0ZM117.94 250.60a1.0 0.8 0 1 0 2.0 0a1.0 0.8 0 1 0 -2.0 0ZM119.11 250.60a1.0 0.8 0 1 0 2.0 0a1.0 0.8 0 1 0 -2.0 0ZM120.29 250.60a1.0 0.8 0 1 0 2.0 0a1.0 0.8 0 1 0 -2.0 0ZM121.46 250.60a1.0 0.8 0 1 0 2.0 0a1.0 0.8 0 1 0 -2.0 0ZM122.64 250.60a1.0 0.8 0 1 0 2.0 0a1.0 0.8 0 1 0 -2.0 0ZM123.82 250.60a1.0 0.8 0 1 0 2.0 0a1.0 0.8 0 1 0 -2.0 0ZM124.99 250.60a1.0 0.8 0 1 0 2.0 0a1.0 0.8 0 1 0 -2.0 0ZM126.17 250.60a1.0 0.8 0 1 0 2.0 0a1.0 0.8 0 1 0 -2.0 0ZM127.34 250.60a1.0 0.8 0 1 0 2.0 0a1.0 0.8 0 1 0 -2.0 0ZM128.52 250.60a1.0 0.8 0 1 0 2.0 0a1.0 0.8 0 1 0 -2.0 0ZM129.69 250.60a1.0 0.8 0 1 0 2.0 0a1.0 0.8 0 1 0 -2.0 0ZM130.87 250.60a1.0 0.8 0 1 0 2.0 0a1.0 0.8 0 1 0 -2.0 0ZM132.05 250.60a1.0 0.8 0 1 0 2.0 0a1.0 0.8 0 1 0 -2.0 0ZM133.22 250.60a1.0 0.8 0 1 0 2.0 0a1.0 0.8 0 1 0 -2.0 0ZM134.40 250.60a1.0 0.8 0 1 0 2.0 0a1.0 0.8 0 1 0 -2.0 0ZM135.57 250.60a1.0 0.8 0 1 0 2.0 0a1.0 0.8 0 1 0 -2.0 0ZM136.75 250.60a1.0 0.8 0 1 0 2.0 0a1.0 0.8 0 1 0 -2.0 0ZM137.92 250.60a1.0 0.8 0 1 0 2.0 0a1.0 0.8 0 1 0 -2.0 0ZM139.10 250.60a1.0 0.8 0 1 0 2.0 0a1.0 0.8 0 1 0 -2.0 0Z" fill="#2f78d0"/>
<path d="M22.50 171.89h2.40v2.40h-2.40ZM23.68 171.89h2.40v2.40h-2.40ZM24.85 171.90h2.40v2.40h-2.40ZM26.03 171.90h2.40v2.40h-2.40ZM27.20 171.90h2.40v2.40h-2.40ZM28.38 171.90h2.40v2.40h-2.40ZM29.55 171.90h2.40v2.40h-2.40ZM30.73 171.90h2.40v2.40h-2.40ZM31.91 171.90h2.40v2.40h-2.40ZM33.08 171.90h2.40v2.40h-2.40ZM34.26 171.90h2.40v2.40h-2.40ZM35.43 171.90h2.40v2.40h-2.40ZM36.61 171.90h2.40v2.40h-2.40ZM37.78 171.91h2.40v2.40h-2.40ZM38.96 171.91h2.40v2.40h-2.40ZM40.14 171.91h2.40v2.40h-2.40ZM41.31 171.91h2.40v2.40h-2.40ZM42.49 171.92h2.40v2.40h-2.40ZM43.66 171.92h2.40v2.40h-2.40ZM44.84 171.93h2.40v2.40h-2.40ZM46.02 171.93h2.40v2.40h-2.40ZM47.19 171.94h2.40v2.40h-2.40ZM48.37 171.95h2.40v2.40h-2.40ZM49.54 171.96h2.40v2.40h-2.40ZM50.72 171.97h2.40v2.40h-2.40ZM51.89 171.98h2.40v2.40h-2.40ZM53.07 171.99h2.40v2.40h-2.40ZM54.25 172.01h2.40v2.40h-2.40ZM55.42 172.03h2.40v2.40h-2.40ZM56.60 172.06h2.40v2.40h-2.40ZM57.77 172.09h2.40v2.40h-2.40ZM58.95 172.12h2.40v2.40h-2.40ZM60.12 172.16h2.40v2.40h-2.40ZM61.30 172.21h2.40v2.40h-2.40ZM62.48 172.27h2.40v2.40h-2.40ZM63.65 172.33h2.40v2.40h-2.40ZM64.83 172.41h2.40v2.40h-2.40ZM66.00 172.50h2.40v2.40h-2.40ZM67.18 172.61h2.40v2.40h-2.40ZM68.35 172.74h2.40v2.40h-2.40ZM69.53 172.89h2.40v2.40h-2.40ZM70.71 173.07h2.40v2.40h-2.40ZM71.88 173.28h2.40v2.40h-2.40ZM73.06 173.53h2.40v2.40h-2.40ZM74.23 173.82h2.40v2.40h-2.40ZM75.41 174.17h2.40v2.40h-2.40ZM76.58 174.57h2.40v2.40h-2.40ZM77.76 175.06h2.40v2.40h-2.40ZM78.94 175.63h2.40v2.40h-2.40ZM80.11 176.31h2.40v2.40h-2.40ZM81.29 177.12h2.40v2.40h-2.40ZM82.46 178.09h2.40v2.40h-2.40ZM83.64 179.24h2.40v2.40h-2.40ZM84.82 180.62h2.40v2.40h-2.40ZM85.99 182.28h2.40v2.40h-2.40ZM87.17 184.29h2.40v2.40h-2.40ZM88.34 186.74h2.40v2.40h-2.40ZM89.52 189.75h2.40v2.40h-2.40ZM90.69 193.50h2.40v2.40h-2.40ZM91.87 198.26h2.40v2.40h-2.40ZM93.05 204.50h2.40v2.40h-2.40ZM94.22 213.20h2.40v2.40h-2.40ZM95.40 227.49h2.40v2.40h-2.40ZM96.57 249.40h2.40v2.40h-2.40ZM97.75 249.40h2.40v2.40h-2.40ZM98.92 249.40h2.40v2.40h-2.40ZM100.10 249.40h2.40v2.40h-2.40ZM101.28 249.40h2.40v2.40h-2.40ZM102.45 249.40h2.40v2.40h-2.40ZM103.63 249.40h2.40v2.40h-2.40ZM104.80 249.40h2.40v2.40h-2.40ZM105.98 249.40h2.40v2.40h-2.40ZM107.15 249.40h2.40v2.40h-2.40ZM108.33 249.40h2.40v2.40h-2.40ZM109.51 249.40h2.40v2.40h-2.40ZM110.68 249.40h2.40v2.40h-2.40ZM111.86 249.40h2.40v2.40h-2.40ZM113.03 249.40h2.40v2.40h-2.40ZM114.21 249.40h2.40v2.40h-2.40ZM115.38 249.40h2.40v2.40h-2.40ZM116.56 249.40h2.40v2.40h-2.40ZM117.74 249.40h2.40v2.40h-2.40ZM118.91 249.40h2.40v2.40h-2.40ZM120.09 249.40h2.40v2.40h-2.40ZM121.26 249.40h2.40v2.40h-2.40ZM122.44 249.40h2.40v2.40h-2.40ZM123.62 249.40h2.40v2.40h-2.40ZM124.79 249.40h2.40v2.40h-2.40ZM125.97 249.40h2.40v2.40h-2.40ZM127.14 249.40h2.40v2.40h-2.40ZM128.32 249.40h2.40v2.40h-2.40ZM129.49 249.40h2.40v2.40h-2.40ZM130.67 249.40h2.40v2.40h-2.40ZM131.85 249.40h2.40v2.40h-2.40ZM133.02 249.40h2.40v2.40h-2.40ZM134.20 249.40h2.40v2.40h-2.40ZM135.37 249.40h2.40v2.40h-2.40ZM136.55 249.40h2.40v2.40h-2.40ZM137.72 249.40h2.40v2.40h-2.40ZM138.90 249.40h2.40v2.40h-2.40Z" fill="none" stroke="#7438a8" stroke-width="0.78"/>
<path d="M22.15 173.10a1.55 1.55 0 1 0 3.1 0a1.55 1.55 0 1 0 -3.1 0ZM23.33 173.10a1.55 1.55 0 1 0 3.1 0a1.55 1.55 0 1 0 -3.1 0ZM24.50 173.10a1.55 1.55 0 1 0 3.1 0a1.55 1.55 0 1 0 -3.1 0ZM25.68 173.10a1.55 1.55 0 1 0 3.1 0a1.55 1.55 0 1 0 -3.1 0ZM26.85 173.10a1.55 1.55 0 1 0 3.1 0a1.55 1.55 0 1 0 -3.1 0ZM28.03 173.10a1.55 1.55 0 1 0 3.1 0a1.55 1.55 0 1 0 -3.1 0ZM29.20 173.10a1.55 1.55 0 1 0 3.1 0a1.55 1.55 0 1 0 -3.1 0ZM30.38 173.10a1.55 1.55 0 1 0 3.1 0a1.55 1.55 0 1 0 -3.1 0ZM31.56 173.10a1.55 1.55 0 1 0 3.1 0a1.55 1.55 0 1 0 -3.1 0ZM32.73 173.10a1.55 1.55 0 1 0 3.1 0a1.55 1.55 0 1 0 -3.1 0ZM33.91 173.11a1.55 1.55 0 1 0 3.1 0a1.55 1.55 0 1 0 -3.1 0ZM35.08 173.11a1.55 1.55 0 1 0 3.1 0a1.55 1.55 0 1 0 -3.1 0ZM36.26 173.11a1.55 1.55 0 1 0 3.1 0a1.55 1.55 0 1 0 -3.1 0ZM37.43 173.12a1.55 1.55 0 1 0 3.1 0a1.55 1.55 0 1 0 -3.1 0ZM38.61 173.12a1.55 1.55 0 1 0 3.1 0a1.55 1.55 0 1 0 -3.1 0ZM39.79 173.12a1.55 1.55 0 1 0 3.1 0a1.55 1.55 0 1 0 -3.1 0ZM40.96 173.13a1.55 1.55 0 1 0 3.1 0a1.55 1.55 0 1 0 -3.1 0ZM42.14 173.14a1.55 1.55 0 1 0 3.1 0a1.55 1.55 0 1 0 -3.1 0ZM43.31 173.14a1.55 1.55 0 1 0 3.1 0a1.55 1.55 0 1 0 -3.1 0ZM44.49 173.15a1.55 1.55 0 1 0 3.1 0a1.55 1.55 0 1 0 -3.1 0ZM45.67 173.16a1.55 1.55 0 1 0 3.1 0a1.55 1.55 0 1 0 -3.1 0ZM46.84 173.18a1.55 1.55 0 1 0 3.1 0a1.55 1.55 0 1 0 -3.1 0ZM48.02 173.19a1.55 1.55 0 1 0 3.1 0a1.55 1.55 0 1 0 -3.1 0ZM49.19 173.21a1.55 1.55 0 1 0 3.1 0a1.55 1.55 0 1 0 -3.1 0ZM50.37 173.23a1.55 1.55 0 1 0 3.1 0a1.55 1.55 0 1 0 -3.1 0ZM51.54 173.25a1.55 1.55 0 1 0 3.1 0a1.55 1.55 0 1 0 -3.1 0ZM52.72 173.28a1.55 1.55 0 1 0 3.1 0a1.55 1.55 0 1 0 -3.1 0ZM53.90 173.31a1.55 1.55 0 1 0 3.1 0a1.55 1.55 0 1 0 -3.1 0ZM55.07 173.35a1.55 1.55 0 1 0 3.1 0a1.55 1.55 0 1 0 -3.1 0ZM56.25 173.40a1.55 1.55 0 1 0 3.1 0a1.55 1.55 0 1 0 -3.1 0ZM57.42 173.45a1.55 1.55 0 1 0 3.1 0a1.55 1.55 0 1 0 -3.1 0ZM58.60 173.52a1.55 1.55 0 1 0 3.1 0a1.55 1.55 0 1 0 -3.1 0ZM59.77 173.59a1.55 1.55 0 1 0 3.1 0a1.55 1.55 0 1 0 -3.1 0ZM60.95 173.68a1.55 1.55 0 1 0 3.1 0a1.55 1.55 0 1 0 -3.1 0ZM62.13 173.78a1.55 1.55 0 1 0 3.1 0a1.55 1.55 0 1 0 -3.1 0ZM63.30 173.91a1.55 1.55 0 1 0 3.1 0a1.55 1.55 0 1 0 -3.1 0ZM64.48 174.05a1.55 1.55 0 1 0 3.1 0a1.55 1.55 0 1 0 -3.1 0ZM65.65 174.22a1.55 1.55 0 1 0 3.1 0a1.55 1.55 0 1 0 -3.1 0ZM66.83 174.42a1.55 1.55 0 1 0 3.1 0a1.55 1.55 0 1 0 -3.1 0ZM68.00 174.66a1.55 1.55 0 1 0 3.1 0a1.55 1.55 0 1 0 -3.1 0ZM69.18 174.94a1.55 1.55 0 1 0 3.1 0a1.55 1.55 0 1 0 -3.1 0ZM70.36 175.27a1.55 1.55 0 1 0 3.1 0a1.55 1.55 0 1 0 -3.1 0ZM71.53 175.67a1.55 1.55 0 1 0 3.1 0a1.55 1.55 0 1 0 -3.1 0ZM72.71 176.13a1.55 1.55 0 1 0 3.1 0a1.55 1.55 0 1 0 -3.1 0ZM73.88 176.68a1.55 1.55 0 1 0 3.1 0a1.55 1.55 0 1 0 -3.1 0ZM75.06 177.33a1.55 1.55 0 1 0 3.1 0a1.55 1.55 0 1 0 -3.1 0ZM76.23 178.11a1.55 1.55 0 1 0 3.1 0a1.55 1.55 0 1 0 -3.1 0ZM77.41 179.03a1.55 1.55 0 1 0 3.1 0a1.55 1.55 0 1 0 -3.1 0ZM78.59 180.13a1.55 1.55 0 1 0 3.1 0a1.55 1.55 0 1 0 -3.1 0ZM79.76 181.45a1.55 1.55 0 1 0 3.1 0a1.55 1.55 0 1 0 -3.1 0ZM80.94 183.03a1.55 1.55 0 1 0 3.1 0a1.55 1.55 0 1 0 -3.1 0ZM82.11 184.95a1.55 1.55 0 1 0 3.1 0a1.55 1.55 0 1 0 -3.1 0ZM83.29 187.28a1.55 1.55 0 1 0 3.1 0a1.55 1.55 0 1 0 -3.1 0ZM84.47 190.13a1.55 1.55 0 1 0 3.1 0a1.55 1.55 0 1 0 -3.1 0ZM85.64 193.67a1.55 1.55 0 1 0 3.1 0a1.55 1.55 0 1 0 -3.1 0ZM86.82 198.14a1.55 1.55 0 1 0 3.1 0a1.55 1.55 0 1 0 -3.1 0ZM87.99 203.95a1.55 1.55 0 1 0 3.1 0a1.55 1.55 0 1 0 -3.1 0ZM89.17 211.88a1.55 1.55 0 1 0 3.1 0a1.55 1.55 0 1 0 -3.1 0ZM90.34 224.10a1.55 1.55 0 1 0 3.1 0a1.55 1.55 0 1 0 -3.1 0ZM91.52 250.60a1.55 1.55 0 1 0 3.1 0a1.55 1.55 0 1 0 -3.1 0ZM92.70 250.60a1.55 1.55 0 1 0 3.1 0a1.55 1.55 0 1 0 -3.1 0ZM93.87 250.60a1.55 1.55 0 1 0 3.1 0a1.55 1.55 0 1 0 -3.1 0ZM95.05 250.60a1.55 1.55 0 1 0 3.1 0a1.55 1.55 0 1 0 -3.1 0ZM96.22 250.60a1.55 1.55 0 1 0 3.1 0a1.55 1.55 0 1 0 -3.1 0ZM97.40 250.60a1.55 1.55 0 1 0 3.1 0a1.55 1.55 0 1 0 -3.1 0ZM98.57 250.60a1.55 1.55 0 1 0 3.1 0a1.55 1.55 0 1 0 -3.1 0ZM99.75 250.60a1.55 1.55 0 1 0 3.1 0a1.55 1.55 0 1 0 -3.1 0ZM100.93 250.60a1.55 1.55 0 1 0 3.1 0a1.55 1.55 0 1 0 -3.1 0ZM102.10 250.60a1.55 1.55 0 1 0 3.1 0a1.55 1.55 0 1 0 -3.1 0ZM103.28 250.60a1.55 1.55 0 1 0 3.1 0a1.55 1.55 0 1 0 -3.1 0ZM104.45 250.60a1.55 1.55 0 1 0 3.1 0a1.55 1.55 0 1 0 -3.1 0ZM105.63 250.60a1.55 1.55 0 1 0 3.1 0a1.55 1.55 0 1 0 -3.1 0ZM106.80 250.60a1.55 1.55 0 1 0 3.1 0a1.55 1.55 0 1 0 -3.1 0ZM107.98 250.60a1.55 1.55 0 1 0 3.1 0a1.55 1.55 0 1 0 -3.1 0ZM109.16 250.60a1.55 1.55 0 1 0 3.1 0a1.55 1.55 0 1 0 -3.1 0ZM110.33 250.60a1.55 1.55 0 1 0 3.1 0a1.55 1.55 0 1 0 -3.1 0ZM111.51 250.60a1.55 1.55 0 1 0 3.1 0a1.55 1.55 0 1 0 -3.1 0ZM112.68 250.60a1.55 1.55 0 1 0 3.1 0a1.55 1.55 0 1 0 -3.1 0ZM113.86 250.60a1.55 1.55 0 1 0 3.1 0a1.55 1.55 0 1 0 -3.1 0ZM115.03 250.60a1.55 1.55 0 1 0 3.1 0a1.55 1.55 0 1 0 -3.1 0ZM116.21 250.60a1.55 1.55 0 1 0 3.1 0a1.55 1.55 0 1 0 -3.1 0ZM117.39 250.60a1.55 1.55 0 1 0 3.1 0a1.55 1.55 0 1 0 -3.1 0ZM118.56 250.60a1.55 1.55 0 1 0 3.1 0a1.55 1.55 0 1 0 -3.1 0ZM119.74 250.60a1.55 1.55 0 1 0 3.1 0a1.55 1.55 0 1 0 -3.1 0ZM120.91 250.60a1.55 1.55 0 1 0 3.1 0a1.55 1.55 0 1 0 -3.1 0ZM122.09 250.60a1.55 1.55 0 1 0 3.1 0a1.55 1.55 0 1 0 -3.1 0ZM123.27 250.60a1.55 1.55 0 1 0 3.1 0a1.55 1.55 0 1 0 -3.1 0ZM124.44 250.60a1.55 1.55 0 1 0 3.1 0a1.55 1.55 0 1 0 -3.1 0ZM125.62 250.60a1.55 1.55 0 1 0 3.1 0a1.55 1.55 0 1 0 -3.1 0ZM126.79 250.60a1.55 1.55 0 1 0 3.1 0a1.55 1.55 0 1 0 -3.1 0ZM127.97 250.60a1.55 1.55 0 1 0 3.1 0a1.55 1.55 0 1 0 -3.1 0ZM129.14 250.60a1.55 1.55 0 1 0 3.1 0a1.55 1.55 0 1 0 -3.1 0ZM130.32 250.60a1.55 1.55 0 1 0 3.1 0a1.55 1.55 0 1 0 -3.1 0ZM131.50 250.60a1.55 1.55 0 1 0 3.1 0a1.55 1.55 0 1 0 -3.1 0ZM132.67 250.60a1.55 1.55 0 1 0 3.1 0a1.55 1.55 0 1 0 -3.1 0ZM133.85 250.60a1.55 1.55 0 1 0 3.1 0a1.55 1.55 0 1 0 -3.1 0ZM135.02 250.60a1.55 1.55 0 1 0 3.1 0a1.55 1.55 0 1 0 -3.1 0ZM136.20 250.60a1.55 1.55 0 1 0 3.1 0a1.55 1.55 0 1 0 -3.1 0ZM137.37 250.60a1.55 1.55 0 1 0 3.1 0a1.55 1.55 0 1 0 -3.1 0ZM138.55 250.60a1.55 1.55 0 1 0 3.1 0a1.55 1.55 0 1 0 -3.1 0Z" fill="#e65a20"/>
<path d="M23.70 170.56L26.40 175.37L21.00 175.37ZM24.88 170.57L27.58 175.38L22.18 175.38ZM26.05 170.58L28.75 175.39L23.35 175.39ZM27.23 170.60L29.93 175.41L24.53 175.41ZM28.40 170.62L31.10 175.43L25.70 175.43ZM29.58 170.64L32.28 175.45L26.88 175.45ZM30.75 170.66L33.45 175.47L28.05 175.47ZM31.93 170.69L34.63 175.50L29.23 175.50ZM33.11 170.73L35.81 175.54L30.41 175.54ZM34.28 170.77L36.98 175.58L31.58 175.58ZM35.46 170.82L38.16 175.63L32.76 175.63ZM36.63 170.88L39.33 175.69L33.93 175.69ZM37.81 170.94L40.51 175.75L35.11 175.75ZM38.98 171.02L41.68 175.83L36.28 175.83ZM40.16 171.12L42.86 175.93L37.46 175.93ZM41.34 171.23L44.04 176.04L38.64 176.04ZM42.51 171.36L45.21 176.17L39.81 176.17ZM43.69 171.51L46.39 176.32L40.99 176.32ZM44.86 171.69L47.56 176.50L42.16 176.50ZM46.04 171.91L48.74 176.72L43.34 176.72ZM47.22 172.16L49.92 176.97L44.52 176.97ZM48.39 172.46L51.09 177.27L45.69 177.27ZM49.57 172.81L52.27 177.62L46.87 177.62ZM50.74 173.23L53.44 178.04L48.04 178.04ZM51.92 173.72L54.62 178.53L49.22 178.53ZM53.09 174.31L55.79 179.12L50.39 179.12ZM54.27 175.01L56.97 179.82L51.57 179.82ZM55.45 175.83L58.15 180.64L52.75 180.64ZM56.62 176.82L59.32 181.63L53.92 181.63ZM57.80 178.00L60.50 182.81L55.10 182.81ZM58.97 179.41L61.67 184.22L56.27 184.22ZM60.15 181.11L62.85 185.92L57.45 185.92ZM61.32 183.17L64.02 187.98L58.62 187.98ZM62.50 185.68L65.20 190.49L59.80 190.49ZM63.68 188.77L66.38 193.58L60.98 193.58ZM64.85 192.62L67.55 197.43L62.15 197.43ZM66.03 197.53L68.73 202.34L63.33 202.34ZM67.20 204.01L69.90 208.82L64.50 208.82ZM68.38 213.14L71.08 217.95L65.68 217.95ZM69.55 228.83L72.25 233.64L66.85 233.64ZM70.73 248.00L73.43 252.81L68.03 252.81ZM71.91 248.00L74.61 252.81L69.21 252.81ZM73.08 248.00L75.78 252.81L70.38 252.81ZM74.26 248.00L76.96 252.81L71.56 252.81ZM75.43 248.00L78.13 252.81L72.73 252.81ZM76.61 248.00L79.31 252.81L73.91 252.81ZM77.78 248.00L80.48 252.81L75.08 252.81ZM78.96 248.00L81.66 252.81L76.26 252.81ZM80.14 248.00L82.84 252.81L77.44 252.81ZM81.31 248.00L84.01 252.81L78.61 252.81ZM82.49 248.00L85.19 252.81L79.79 252.81ZM83.66 248.00L86.36 252.81L80.96 252.81ZM84.84 248.00L87.54 252.81L82.14 252.81ZM86.02 248.00L88.72 252.81L83.32 252.81ZM87.19 248.00L89.89 252.81L84.49 252.81ZM88.37 248.00L91.07 252.81L85.67 252.81ZM89.54 248.00L92.24 252.81L86.84 252.81ZM90.72 248.00L93.42 252.81L88.02 252.81ZM91.89 248.00L94.59 252.81L89.19 252.81ZM93.07 248.00L95.77 252.81L90.37 252.81ZM94.25 248.00L96.95 252.81L91.55 252.81ZM95.42 248.00L98.12 252.81L92.72 252.81ZM96.60 248.00L99.30 252.81L93.90 252.81ZM97.77 248.00L100.47 252.81L95.07 252.81ZM98.95 248.00L101.65 252.81L96.25 252.81ZM100.12 248.00L102.82 252.81L97.42 252.81ZM101.30 248.00L104.00 252.81L98.60 252.81ZM102.48 248.00L105.18 252.81L99.78 252.81ZM103.65 248.00L106.35 252.81L100.95 252.81ZM104.83 248.00L107.53 252.81L102.13 252.81ZM106.00 248.00L108.70 252.81L103.30 252.81ZM107.18 248.00L109.88 252.81L104.48 252.81ZM108.35 248.00L111.05 252.81L105.65 252.81ZM109.53 248.00L112.23 252.81L106.83 252.81ZM110.71 248.00L113.41 252.81L108.01 252.81ZM111.88 248.00L114.58 252.81L109.18 252.81ZM113.06 248.00L115.76 252.81L110.36 252.81ZM114.23 248.00L116.93 252.81L111.53 252.81ZM115.41 248.00L118.11 252.81L112.71 252.81ZM116.58 248.00L119.28 252.81L113.88 252.81ZM117.76 248.00L120.46 252.81L115.06 252.81ZM118.94 248.00L121.64 252.81L116.24 252.81ZM120.11 248.00L122.81 252.81L117.41 252.81ZM121.29 248.00L123.99 252.81L118.59 252.81ZM122.46 248.00L125.16 252.81L119.76 252.81ZM123.64 248.00L126.34 252.81L120.94 252.81ZM124.82 248.00L127.52 252.81L122.12 252.81ZM125.99 248.00L128.69 252.81L123.29 252.81ZM127.17 248.00L129.87 252.81L124.47 252.81ZM128.34 248.00L131.04 252.81L125.64 252.81ZM129.52 248.00L132.22 252.81L126.82 252.81ZM130.69 248.00L133.39 252.81L127.99 252.81ZM131.87 248.00L134.57 252.81L129.17 252.81ZM133.05 248.00L135.75 252.81L130.35 252.81ZM134.22 248.00L136.92 252.81L131.52 252.81ZM135.40 248.00L138.10 252.81L132.70 252.81ZM136.57 248.00L139.27 252.81L133.87 252.81ZM137.75 248.00L140.45 252.81L135.05 252.81ZM138.92 248.00L141.62 252.81L136.22 252.81ZM140.10 248.00L142.80 252.81L137.40 252.81Z" fill="#725667"/>
</g>
<text x="21.40" y="253.30" font-size="6.7" text-anchor="end" font-weight="normal" fill="#111" >0</text>
<text x="21.40" y="235.98" font-size="6.7" text-anchor="end" font-weight="normal" fill="#111" >20</text>
<text x="21.40" y="218.66" font-size="6.7" text-anchor="end" font-weight="normal" fill="#111" >40</text>
<text x="21.40" y="201.34" font-size="6.7" text-anchor="end" font-weight="normal" fill="#111" >60</text>
<text x="21.40" y="184.02" font-size="6.7" text-anchor="end" font-weight="normal" fill="#111" >80</text>
<text x="21.40" y="166.70" font-size="6.7" text-anchor="end" font-weight="normal" fill="#111" >100</text>
<text x="22.10" y="261.70" font-size="6.7" text-anchor="middle" fill="#111">10</text>
<text x="25.80" y="258.00" font-size="4.8" text-anchor="start" fill="#111">0</text>
<text x="55.36" y="261.70" font-size="6.7" text-anchor="middle" fill="#111">10</text>
<text x="59.06" y="258.00" font-size="4.8" text-anchor="start" fill="#111">2</text>
<text x="88.61" y="261.70" font-size="6.7" text-anchor="middle" fill="#111">10</text>
<text x="92.31" y="258.00" font-size="4.8" text-anchor="start" fill="#111">4</text>
<text x="121.87" y="261.70" font-size="6.7" text-anchor="middle" fill="#111">10</text>
<text x="125.57" y="258.00" font-size="4.8" text-anchor="start" fill="#111">6</text>
<text x="81.10" y="270.50" font-size="7.55" text-anchor="middle" font-weight="bold" fill="#111" >Elastic Modulus [kPa]</text>
<text transform="translate(6.60 267.70) rotate(-90) scale(0.94 1)" font-size="8.1" text-anchor="start" font-weight="bold" fill="#111">Maximum Bubble Diameter<tspan dx="2.5" font-size="7.4">[</tspan><tspan dx="2.8" font-size="8.8" font-weight="normal" font-style="italic">μ</tspan><tspan font-size="8.8" font-weight="normal">m</tspan><tspan font-size="7.4">]</tspan></text>
<text x="133.10" y="245.00" font-size="7.2" text-anchor="middle" font-weight="bold" fill="#000" >C</text>
<rect x="192.50" y="164.20" width="117.30" height="86.40" fill="none" stroke="#262626" stroke-width="0.7"/>
<path d="M192.50 250.60v-1.8M192.50 164.20v1.8M197.54 250.60v-1.2M197.54 164.20v1.2M200.50 250.60v-1.2M200.50 164.20v1.2M202.59 250.60v-1.2M202.59 164.20v1.2M204.21 250.60v-1.2M204.21 164.20v1.2M205.54 250.60v-1.2M205.54 164.20v1.2M206.66 250.60v-1.2M206.66 164.20v1.2M207.63 250.60v-1.2M207.63 164.20v1.2M208.49 250.60v-1.2M208.49 164.20v1.2M209.26 250.60v-1.8M209.26 164.20v1.8M214.30 250.60v-1.2M214.30 164.20v1.2M217.25 250.60v-1.2M217.25 164.20v1.2M219.35 250.60v-1.2M219.35 164.20v1.2M220.97 250.60v-1.2M220.97 164.20v1.2M222.30 250.60v-1.2M222.30 164.20v1.2M223.42 250.60v-1.2M223.42 164.20v1.2M224.39 250.60v-1.2M224.39 164.20v1.2M225.25 250.60v-1.2M225.25 164.20v1.2M226.01 250.60v-1.8M226.01 164.20v1.8M231.06 250.60v-1.2M231.06 164.20v1.2M234.01 250.60v-1.2M234.01 164.20v1.2M236.10 250.60v-1.2M236.10 164.20v1.2M237.73 250.60v-1.2M237.73 164.20v1.2M239.05 250.60v-1.2M239.05 164.20v1.2M240.18 250.60v-1.2M240.18 164.20v1.2M241.15 250.60v-1.2M241.15 164.20v1.2M242.00 250.60v-1.2M242.00 164.20v1.2M242.77 250.60v-1.8M242.77 164.20v1.8M247.82 250.60v-1.2M247.82 164.20v1.2M250.77 250.60v-1.2M250.77 164.20v1.2M252.86 250.60v-1.2M252.86 164.20v1.2M254.48 250.60v-1.2M254.48 164.20v1.2M255.81 250.60v-1.2M255.81 164.20v1.2M256.93 250.60v-1.2M256.93 164.20v1.2M257.90 250.60v-1.2M257.90 164.20v1.2M258.76 250.60v-1.2M258.76 164.20v1.2M259.53 250.60v-1.8M259.53 164.20v1.8M264.57 250.60v-1.2M264.57 164.20v1.2M267.52 250.60v-1.2M267.52 164.20v1.2M269.62 250.60v-1.2M269.62 164.20v1.2M271.24 250.60v-1.2M271.24 164.20v1.2M272.57 250.60v-1.2M272.57 164.20v1.2M273.69 250.60v-1.2M273.69 164.20v1.2M274.66 250.60v-1.2M274.66 164.20v1.2M275.52 250.60v-1.2M275.52 164.20v1.2M276.29 250.60v-1.8M276.29 164.20v1.8M281.33 250.60v-1.2M281.33 164.20v1.2M284.28 250.60v-1.2M284.28 164.20v1.2M286.37 250.60v-1.2M286.37 164.20v1.2M288.00 250.60v-1.2M288.00 164.20v1.2M289.33 250.60v-1.2M289.33 164.20v1.2M290.45 250.60v-1.2M290.45 164.20v1.2M291.42 250.60v-1.2M291.42 164.20v1.2M292.28 250.60v-1.2M292.28 164.20v1.2M293.04 250.60v-1.8M293.04 164.20v1.8M298.09 250.60v-1.2M298.09 164.20v1.2M301.04 250.60v-1.2M301.04 164.20v1.2M303.13 250.60v-1.2M303.13 164.20v1.2M304.76 250.60v-1.2M304.76 164.20v1.2M306.08 250.60v-1.2M306.08 164.20v1.2M307.20 250.60v-1.2M307.20 164.20v1.2M308.18 250.60v-1.2M308.18 164.20v1.2M309.03 250.60v-1.2M309.03 164.20v1.2M309.80 250.60v-1.8M309.80 164.20v1.8M192.50 250.60h1.8M309.80 250.60h-1.8M192.50 229.00h1.8M309.80 229.00h-1.8M192.50 207.40h1.8M309.80 207.40h-1.8M192.50 185.80h1.8M309.80 185.80h-1.8M192.50 164.20h1.8M309.80 164.20h-1.8" stroke="#262626" stroke-width="0.6" fill="none"/>
<g clip-path="url(#clipD)">
<path d="M191.50 178.83a1.0 0.8 0 1 0 2.0 0a1.0 0.8 0 1 0 -2.0 0ZM192.68 178.88a1.0 0.8 0 1 0 2.0 0a1.0 0.8 0 1 0 -2.0 0ZM193.87 178.93a1.0 0.8 0 1 0 2.0 0a1.0 0.8 0 1 0 -2.0 0ZM195.05 178.99a1.0 0.8 0 1 0 2.0 0a1.0 0.8 0 1 0 -2.0 0ZM196.24 179.05a1.0 0.8 0 1 0 2.0 0a1.0 0.8 0 1 0 -2.0 0ZM197.42 179.12a1.0 0.8 0 1 0 2.0 0a1.0 0.8 0 1 0 -2.0 0ZM198.61 179.20a1.0 0.8 0 1 0 2.0 0a1.0 0.8 0 1 0 -2.0 0ZM199.79 179.28a1.0 0.8 0 1 0 2.0 0a1.0 0.8 0 1 0 -2.0 0ZM200.98 179.37a1.0 0.8 0 1 0 2.0 0a1.0 0.8 0 1 0 -2.0 0ZM202.16 179.48a1.0 0.8 0 1 0 2.0 0a1.0 0.8 0 1 0 -2.0 0ZM203.35 179.59a1.0 0.8 0 1 0 2.0 0a1.0 0.8 0 1 0 -2.0 0ZM204.53 179.72a1.0 0.8 0 1 0 2.0 0a1.0 0.8 0 1 0 -2.0 0ZM205.72 179.87a1.0 0.8 0 1 0 2.0 0a1.0 0.8 0 1 0 -2.0 0ZM206.90 180.03a1.0 0.8 0 1 0 2.0 0a1.0 0.8 0 1 0 -2.0 0ZM208.09 180.22a1.0 0.8 0 1 0 2.0 0a1.0 0.8 0 1 0 -2.0 0ZM209.27 180.43a1.0 0.8 0 1 0 2.0 0a1.0 0.8 0 1 0 -2.0 0ZM210.46 180.68a1.0 0.8 0 1 0 2.0 0a1.0 0.8 0 1 0 -2.0 0ZM211.64 180.97a1.0 0.8 0 1 0 2.0 0a1.0 0.8 0 1 0 -2.0 0ZM212.83 181.30a1.0 0.8 0 1 0 2.0 0a1.0 0.8 0 1 0 -2.0 0ZM214.01 181.69a1.0 0.8 0 1 0 2.0 0a1.0 0.8 0 1 0 -2.0 0ZM215.20 182.16a1.0 0.8 0 1 0 2.0 0a1.0 0.8 0 1 0 -2.0 0ZM216.38 182.70a1.0 0.8 0 1 0 2.0 0a1.0 0.8 0 1 0 -2.0 0ZM217.57 183.34a1.0 0.8 0 1 0 2.0 0a1.0 0.8 0 1 0 -2.0 0ZM218.75 184.08a1.0 0.8 0 1 0 2.0 0a1.0 0.8 0 1 0 -2.0 0ZM219.94 184.95a1.0 0.8 0 1 0 2.0 0a1.0 0.8 0 1 0 -2.0 0ZM221.12 185.93a1.0 0.8 0 1 0 2.0 0a1.0 0.8 0 1 0 -2.0 0ZM222.31 187.04a1.0 0.8 0 1 0 2.0 0a1.0 0.8 0 1 0 -2.0 0ZM223.49 188.26a1.0 0.8 0 1 0 2.0 0a1.0 0.8 0 1 0 -2.0 0ZM224.68 189.59a1.0 0.8 0 1 0 2.0 0a1.0 0.8 0 1 0 -2.0 0ZM225.86 191.01a1.0 0.8 0 1 0 2.0 0a1.0 0.8 0 1 0 -2.0 0ZM227.05 192.51a1.0 0.8 0 1 0 2.0 0a1.0 0.8 0 1 0 -2.0 0ZM228.23 194.08a1.0 0.8 0 1 0 2.0 0a1.0 0.8 0 1 0 -2.0 0ZM229.42 195.70a1.0 0.8 0 1 0 2.0 0a1.0 0.8 0 1 0 -2.0 0ZM230.60 197.37a1.0 0.8 0 1 0 2.0 0a1.0 0.8 0 1 0 -2.0 0ZM231.78 199.09a1.0 0.8 0 1 0 2.0 0a1.0 0.8 0 1 0 -2.0 0ZM232.97 200.83a1.0 0.8 0 1 0 2.0 0a1.0 0.8 0 1 0 -2.0 0ZM234.15 202.60a1.0 0.8 0 1 0 2.0 0a1.0 0.8 0 1 0 -2.0 0ZM235.34 204.39a1.0 0.8 0 1 0 2.0 0a1.0 0.8 0 1 0 -2.0 0ZM236.52 206.21a1.0 0.8 0 1 0 2.0 0a1.0 0.8 0 1 0 -2.0 0ZM237.71 208.03a1.0 0.8 0 1 0 2.0 0a1.0 0.8 0 1 0 -2.0 0ZM238.89 209.88a1.0 0.8 0 1 0 2.0 0a1.0 0.8 0 1 0 -2.0 0ZM240.08 211.73a1.0 0.8 0 1 0 2.0 0a1.0 0.8 0 1 0 -2.0 0ZM241.26 213.59a1.0 0.8 0 1 0 2.0 0a1.0 0.8 0 1 0 -2.0 0ZM242.45 215.46a1.0 0.8 0 1 0 2.0 0a1.0 0.8 0 1 0 -2.0 0ZM243.63 217.34a1.0 0.8 0 1 0 2.0 0a1.0 0.8 0 1 0 -2.0 0ZM244.82 219.23a1.0 0.8 0 1 0 2.0 0a1.0 0.8 0 1 0 -2.0 0ZM246.00 221.12a1.0 0.8 0 1 0 2.0 0a1.0 0.8 0 1 0 -2.0 0ZM247.19 223.02a1.0 0.8 0 1 0 2.0 0a1.0 0.8 0 1 0 -2.0 0ZM248.37 224.92a1.0 0.8 0 1 0 2.0 0a1.0 0.8 0 1 0 -2.0 0ZM249.56 226.82a1.0 0.8 0 1 0 2.0 0a1.0 0.8 0 1 0 -2.0 0ZM250.74 228.73a1.0 0.8 0 1 0 2.0 0a1.0 0.8 0 1 0 -2.0 0ZM251.93 230.65a1.0 0.8 0 1 0 2.0 0a1.0 0.8 0 1 0 -2.0 0ZM253.11 232.56a1.0 0.8 0 1 0 2.0 0a1.0 0.8 0 1 0 -2.0 0ZM254.30 234.48a1.0 0.8 0 1 0 2.0 0a1.0 0.8 0 1 0 -2.0 0ZM255.48 236.40a1.0 0.8 0 1 0 2.0 0a1.0 0.8 0 1 0 -2.0 0ZM256.67 238.32a1.0 0.8 0 1 0 2.0 0a1.0 0.8 0 1 0 -2.0 0ZM257.85 240.25a1.0 0.8 0 1 0 2.0 0a1.0 0.8 0 1 0 -2.0 0ZM259.04 242.17a1.0 0.8 0 1 0 2.0 0a1.0 0.8 0 1 0 -2.0 0ZM260.22 244.10a1.0 0.8 0 1 0 2.0 0a1.0 0.8 0 1 0 -2.0 0ZM261.41 246.03a1.0 0.8 0 1 0 2.0 0a1.0 0.8 0 1 0 -2.0 0ZM262.59 247.96a1.0 0.8 0 1 0 2.0 0a1.0 0.8 0 1 0 -2.0 0ZM263.78 250.60a1.0 0.8 0 1 0 2.0 0a1.0 0.8 0 1 0 -2.0 0ZM264.96 250.60a1.0 0.8 0 1 0 2.0 0a1.0 0.8 0 1 0 -2.0 0ZM266.15 250.60a1.0 0.8 0 1 0 2.0 0a1.0 0.8 0 1 0 -2.0 0ZM267.33 250.60a1.0 0.8 0 1 0 2.0 0a1.0 0.8 0 1 0 -2.0 0ZM268.52 250.60a1.0 0.8 0 1 0 2.0 0a1.0 0.8 0 1 0 -2.0 0ZM269.70 250.60a1.0 0.8 0 1 0 2.0 0a1.0 0.8 0 1 0 -2.0 0ZM270.88 250.60a1.0 0.8 0 1 0 2.0 0a1.0 0.8 0 1 0 -2.0 0ZM272.07 250.60a1.0 0.8 0 1 0 2.0 0a1.0 0.8 0 1 0 -2.0 0ZM273.25 250.60a1.0 0.8 0 1 0 2.0 0a1.0 0.8 0 1 0 -2.0 0ZM274.44 250.60a1.0 0.8 0 1 0 2.0 0a1.0 0.8 0 1 0 -2.0 0ZM275.62 250.60a1.0 0.8 0 1 0 2.0 0a1.0 0.8 0 1 0 -2.0 0ZM276.81 250.60a1.0 0.8 0 1 0 2.0 0a1.0 0.8 0 1 0 -2.0 0ZM277.99 250.60a1.0 0.8 0 1 0 2.0 0a1.0 0.8 0 1 0 -2.0 0ZM279.18 250.60a1.0 0.8 0 1 0 2.0 0a1.0 0.8 0 1 0 -2.0 0ZM280.36 250.60a1.0 0.8 0 1 0 2.0 0a1.0 0.8 0 1 0 -2.0 0ZM281.55 250.60a1.0 0.8 0 1 0 2.0 0a1.0 0.8 0 1 0 -2.0 0ZM282.73 250.60a1.0 0.8 0 1 0 2.0 0a1.0 0.8 0 1 0 -2.0 0ZM283.92 250.60a1.0 0.8 0 1 0 2.0 0a1.0 0.8 0 1 0 -2.0 0ZM285.10 250.60a1.0 0.8 0 1 0 2.0 0a1.0 0.8 0 1 0 -2.0 0ZM286.29 250.60a1.0 0.8 0 1 0 2.0 0a1.0 0.8 0 1 0 -2.0 0ZM287.47 250.60a1.0 0.8 0 1 0 2.0 0a1.0 0.8 0 1 0 -2.0 0ZM288.66 250.60a1.0 0.8 0 1 0 2.0 0a1.0 0.8 0 1 0 -2.0 0ZM289.84 250.60a1.0 0.8 0 1 0 2.0 0a1.0 0.8 0 1 0 -2.0 0ZM291.03 250.60a1.0 0.8 0 1 0 2.0 0a1.0 0.8 0 1 0 -2.0 0ZM292.21 250.60a1.0 0.8 0 1 0 2.0 0a1.0 0.8 0 1 0 -2.0 0ZM293.40 250.60a1.0 0.8 0 1 0 2.0 0a1.0 0.8 0 1 0 -2.0 0ZM294.58 250.60a1.0 0.8 0 1 0 2.0 0a1.0 0.8 0 1 0 -2.0 0ZM295.77 250.60a1.0 0.8 0 1 0 2.0 0a1.0 0.8 0 1 0 -2.0 0ZM296.95 250.60a1.0 0.8 0 1 0 2.0 0a1.0 0.8 0 1 0 -2.0 0ZM298.14 250.60a1.0 0.8 0 1 0 2.0 0a1.0 0.8 0 1 0 -2.0 0ZM299.32 250.60a1.0 0.8 0 1 0 2.0 0a1.0 0.8 0 1 0 -2.0 0ZM300.51 250.60a1.0 0.8 0 1 0 2.0 0a1.0 0.8 0 1 0 -2.0 0ZM301.69 250.60a1.0 0.8 0 1 0 2.0 0a1.0 0.8 0 1 0 -2.0 0ZM302.88 250.60a1.0 0.8 0 1 0 2.0 0a1.0 0.8 0 1 0 -2.0 0ZM304.06 250.60a1.0 0.8 0 1 0 2.0 0a1.0 0.8 0 1 0 -2.0 0ZM305.25 250.60a1.0 0.8 0 1 0 2.0 0a1.0 0.8 0 1 0 -2.0 0ZM306.43 250.60a1.0 0.8 0 1 0 2.0 0a1.0 0.8 0 1 0 -2.0 0ZM307.62 250.60a1.0 0.8 0 1 0 2.0 0a1.0 0.8 0 1 0 -2.0 0ZM308.80 250.60a1.0 0.8 0 1 0 2.0 0a1.0 0.8 0 1 0 -2.0 0Z" fill="#2f78d0"/>
<path d="M191.30 177.53h2.40v2.40h-2.40ZM192.48 177.57h2.40v2.40h-2.40ZM193.67 177.61h2.40v2.40h-2.40ZM194.85 177.66h2.40v2.40h-2.40ZM196.04 177.71h2.40v2.40h-2.40ZM197.22 177.77h2.40v2.40h-2.40ZM198.41 177.83h2.40v2.40h-2.40ZM199.59 177.90h2.40v2.40h-2.40ZM200.78 177.98h2.40v2.40h-2.40ZM201.96 178.06h2.40v2.40h-2.40ZM203.15 178.15h2.40v2.40h-2.40ZM204.33 178.25h2.40v2.40h-2.40ZM205.52 178.36h2.40v2.40h-2.40ZM206.70 178.49h2.40v2.40h-2.40ZM207.89 178.63h2.40v2.40h-2.40ZM209.07 178.78h2.40v2.40h-2.40ZM210.26 178.96h2.40v2.40h-2.40ZM211.44 179.17h2.40v2.40h-2.40ZM212.63 179.41h2.40v2.40h-2.40ZM213.81 179.69h2.40v2.40h-2.40ZM215.00 180.01h2.40v2.40h-2.40ZM216.18 180.38h2.40v2.40h-2.40ZM217.37 180.83h2.40v2.40h-2.40ZM218.55 181.35h2.40v2.40h-2.40ZM219.74 181.96h2.40v2.40h-2.40ZM220.92 182.68h2.40v2.40h-2.40ZM222.11 183.51h2.40v2.40h-2.40ZM223.29 184.46h2.40v2.40h-2.40ZM224.48 185.53h2.40v2.40h-2.40ZM225.66 186.73h2.40v2.40h-2.40ZM226.85 188.03h2.40v2.40h-2.40ZM228.03 189.42h2.40v2.40h-2.40ZM229.22 190.91h2.40v2.40h-2.40ZM230.40 192.46h2.40v2.40h-2.40ZM231.58 194.07h2.40v2.40h-2.40ZM232.77 195.73h2.40v2.40h-2.40ZM233.95 197.43h2.40v2.40h-2.40ZM235.14 199.17h2.40v2.40h-2.40ZM236.32 200.93h2.40v2.40h-2.40ZM237.51 202.72h2.40v2.40h-2.40ZM238.69 204.53h2.40v2.40h-2.40ZM239.88 206.35h2.40v2.40h-2.40ZM241.06 208.19h2.40v2.40h-2.40ZM242.25 210.04h2.40v2.40h-2.40ZM243.43 211.90h2.40v2.40h-2.40ZM244.62 213.77h2.40v2.40h-2.40ZM245.80 215.65h2.40v2.40h-2.40ZM246.99 217.53h2.40v2.40h-2.40ZM248.17 219.42h2.40v2.40h-2.40ZM249.36 221.32h2.40v2.40h-2.40ZM250.54 223.22h2.40v2.40h-2.40ZM251.73 225.12h2.40v2.40h-2.40ZM252.91 227.03h2.40v2.40h-2.40ZM254.10 228.94h2.40v2.40h-2.40ZM255.28 230.86h2.40v2.40h-2.40ZM256.47 232.77h2.40v2.40h-2.40ZM257.65 234.69h2.40v2.40h-2.40ZM258.84 236.62h2.40v2.40h-2.40ZM260.02 238.54h2.40v2.40h-2.40ZM261.21 240.47h2.40v2.40h-2.40ZM262.39 242.39h2.40v2.40h-2.40ZM263.58 244.32h2.40v2.40h-2.40ZM264.76 246.25h2.40v2.40h-2.40ZM265.95 249.40h2.40v2.40h-2.40ZM267.13 249.40h2.40v2.40h-2.40ZM268.32 249.40h2.40v2.40h-2.40ZM269.50 249.40h2.40v2.40h-2.40ZM270.68 249.40h2.40v2.40h-2.40ZM271.87 249.40h2.40v2.40h-2.40ZM273.05 249.40h2.40v2.40h-2.40ZM274.24 249.40h2.40v2.40h-2.40ZM275.42 249.40h2.40v2.40h-2.40ZM276.61 249.40h2.40v2.40h-2.40ZM277.79 249.40h2.40v2.40h-2.40ZM278.98 249.40h2.40v2.40h-2.40ZM280.16 249.40h2.40v2.40h-2.40ZM281.35 249.40h2.40v2.40h-2.40ZM282.53 249.40h2.40v2.40h-2.40ZM283.72 249.40h2.40v2.40h-2.40ZM284.90 249.40h2.40v2.40h-2.40ZM286.09 249.40h2.40v2.40h-2.40ZM287.27 249.40h2.40v2.40h-2.40ZM288.46 249.40h2.40v2.40h-2.40ZM289.64 249.40h2.40v2.40h-2.40ZM290.83 249.40h2.40v2.40h-2.40ZM292.01 249.40h2.40v2.40h-2.40ZM293.20 249.40h2.40v2.40h-2.40ZM294.38 249.40h2.40v2.40h-2.40ZM295.57 249.40h2.40v2.40h-2.40ZM296.75 249.40h2.40v2.40h-2.40ZM297.94 249.40h2.40v2.40h-2.40ZM299.12 249.40h2.40v2.40h-2.40ZM300.31 249.40h2.40v2.40h-2.40ZM301.49 249.40h2.40v2.40h-2.40ZM302.68 249.40h2.40v2.40h-2.40ZM303.86 249.40h2.40v2.40h-2.40ZM305.05 249.40h2.40v2.40h-2.40ZM306.23 249.40h2.40v2.40h-2.40ZM307.42 249.40h2.40v2.40h-2.40ZM308.60 249.40h2.40v2.40h-2.40Z" fill="none" stroke="#7438a8" stroke-width="0.78"/>
<path d="M191.10 178.90a1.4 1.4 0 1 0 2.8 0a1.4 1.4 0 1 0 -2.8 0ZM192.28 178.95a1.4 1.4 0 1 0 2.8 0a1.4 1.4 0 1 0 -2.8 0ZM193.47 179.01a1.4 1.4 0 1 0 2.8 0a1.4 1.4 0 1 0 -2.8 0ZM194.65 179.08a1.4 1.4 0 1 0 2.8 0a1.4 1.4 0 1 0 -2.8 0ZM195.84 179.15a1.4 1.4 0 1 0 2.8 0a1.4 1.4 0 1 0 -2.8 0ZM197.02 179.23a1.4 1.4 0 1 0 2.8 0a1.4 1.4 0 1 0 -2.8 0ZM198.21 179.32a1.4 1.4 0 1 0 2.8 0a1.4 1.4 0 1 0 -2.8 0ZM199.39 179.42a1.4 1.4 0 1 0 2.8 0a1.4 1.4 0 1 0 -2.8 0ZM200.58 179.52a1.4 1.4 0 1 0 2.8 0a1.4 1.4 0 1 0 -2.8 0ZM201.76 179.64a1.4 1.4 0 1 0 2.8 0a1.4 1.4 0 1 0 -2.8 0ZM202.95 179.78a1.4 1.4 0 1 0 2.8 0a1.4 1.4 0 1 0 -2.8 0ZM204.13 179.93a1.4 1.4 0 1 0 2.8 0a1.4 1.4 0 1 0 -2.8 0ZM205.32 180.10a1.4 1.4 0 1 0 2.8 0a1.4 1.4 0 1 0 -2.8 0ZM206.50 180.30a1.4 1.4 0 1 0 2.8 0a1.4 1.4 0 1 0 -2.8 0ZM207.69 180.53a1.4 1.4 0 1 0 2.8 0a1.4 1.4 0 1 0 -2.8 0ZM208.87 180.79a1.4 1.4 0 1 0 2.8 0a1.4 1.4 0 1 0 -2.8 0ZM210.06 181.10a1.4 1.4 0 1 0 2.8 0a1.4 1.4 0 1 0 -2.8 0ZM211.24 181.46a1.4 1.4 0 1 0 2.8 0a1.4 1.4 0 1 0 -2.8 0ZM212.43 181.88a1.4 1.4 0 1 0 2.8 0a1.4 1.4 0 1 0 -2.8 0ZM213.61 182.37a1.4 1.4 0 1 0 2.8 0a1.4 1.4 0 1 0 -2.8 0ZM214.80 182.95a1.4 1.4 0 1 0 2.8 0a1.4 1.4 0 1 0 -2.8 0ZM215.98 183.63a1.4 1.4 0 1 0 2.8 0a1.4 1.4 0 1 0 -2.8 0ZM217.17 184.43a1.4 1.4 0 1 0 2.8 0a1.4 1.4 0 1 0 -2.8 0ZM218.35 185.34a1.4 1.4 0 1 0 2.8 0a1.4 1.4 0 1 0 -2.8 0ZM219.54 186.37a1.4 1.4 0 1 0 2.8 0a1.4 1.4 0 1 0 -2.8 0ZM220.72 187.53a1.4 1.4 0 1 0 2.8 0a1.4 1.4 0 1 0 -2.8 0ZM221.91 188.80a1.4 1.4 0 1 0 2.8 0a1.4 1.4 0 1 0 -2.8 0ZM223.09 190.16a1.4 1.4 0 1 0 2.8 0a1.4 1.4 0 1 0 -2.8 0ZM224.28 191.62a1.4 1.4 0 1 0 2.8 0a1.4 1.4 0 1 0 -2.8 0ZM225.46 193.15a1.4 1.4 0 1 0 2.8 0a1.4 1.4 0 1 0 -2.8 0ZM226.65 194.74a1.4 1.4 0 1 0 2.8 0a1.4 1.4 0 1 0 -2.8 0ZM227.83 196.39a1.4 1.4 0 1 0 2.8 0a1.4 1.4 0 1 0 -2.8 0ZM229.02 198.08a1.4 1.4 0 1 0 2.8 0a1.4 1.4 0 1 0 -2.8 0ZM230.20 199.80a1.4 1.4 0 1 0 2.8 0a1.4 1.4 0 1 0 -2.8 0ZM231.38 201.56a1.4 1.4 0 1 0 2.8 0a1.4 1.4 0 1 0 -2.8 0ZM232.57 203.34a1.4 1.4 0 1 0 2.8 0a1.4 1.4 0 1 0 -2.8 0ZM233.75 205.14a1.4 1.4 0 1 0 2.8 0a1.4 1.4 0 1 0 -2.8 0ZM234.94 206.96a1.4 1.4 0 1 0 2.8 0a1.4 1.4 0 1 0 -2.8 0ZM236.12 208.80a1.4 1.4 0 1 0 2.8 0a1.4 1.4 0 1 0 -2.8 0ZM237.31 210.64a1.4 1.4 0 1 0 2.8 0a1.4 1.4 0 1 0 -2.8 0ZM238.49 212.50a1.4 1.4 0 1 0 2.8 0a1.4 1.4 0 1 0 -2.8 0ZM239.68 214.37a1.4 1.4 0 1 0 2.8 0a1.4 1.4 0 1 0 -2.8 0ZM240.86 216.24a1.4 1.4 0 1 0 2.8 0a1.4 1.4 0 1 0 -2.8 0ZM242.05 218.12a1.4 1.4 0 1 0 2.8 0a1.4 1.4 0 1 0 -2.8 0ZM243.23 220.01a1.4 1.4 0 1 0 2.8 0a1.4 1.4 0 1 0 -2.8 0ZM244.42 221.91a1.4 1.4 0 1 0 2.8 0a1.4 1.4 0 1 0 -2.8 0ZM245.60 223.80a1.4 1.4 0 1 0 2.8 0a1.4 1.4 0 1 0 -2.8 0ZM246.79 225.71a1.4 1.4 0 1 0 2.8 0a1.4 1.4 0 1 0 -2.8 0ZM247.97 227.62a1.4 1.4 0 1 0 2.8 0a1.4 1.4 0 1 0 -2.8 0ZM249.16 229.53a1.4 1.4 0 1 0 2.8 0a1.4 1.4 0 1 0 -2.8 0ZM250.34 231.44a1.4 1.4 0 1 0 2.8 0a1.4 1.4 0 1 0 -2.8 0ZM251.53 233.36a1.4 1.4 0 1 0 2.8 0a1.4 1.4 0 1 0 -2.8 0ZM252.71 235.27a1.4 1.4 0 1 0 2.8 0a1.4 1.4 0 1 0 -2.8 0ZM253.90 237.20a1.4 1.4 0 1 0 2.8 0a1.4 1.4 0 1 0 -2.8 0ZM255.08 239.12a1.4 1.4 0 1 0 2.8 0a1.4 1.4 0 1 0 -2.8 0ZM256.27 241.04a1.4 1.4 0 1 0 2.8 0a1.4 1.4 0 1 0 -2.8 0ZM257.45 242.97a1.4 1.4 0 1 0 2.8 0a1.4 1.4 0 1 0 -2.8 0ZM258.64 244.90a1.4 1.4 0 1 0 2.8 0a1.4 1.4 0 1 0 -2.8 0ZM259.82 246.83a1.4 1.4 0 1 0 2.8 0a1.4 1.4 0 1 0 -2.8 0ZM261.01 250.60a1.4 1.4 0 1 0 2.8 0a1.4 1.4 0 1 0 -2.8 0ZM262.19 250.60a1.4 1.4 0 1 0 2.8 0a1.4 1.4 0 1 0 -2.8 0ZM263.38 250.60a1.4 1.4 0 1 0 2.8 0a1.4 1.4 0 1 0 -2.8 0ZM264.56 250.60a1.4 1.4 0 1 0 2.8 0a1.4 1.4 0 1 0 -2.8 0ZM265.75 250.60a1.4 1.4 0 1 0 2.8 0a1.4 1.4 0 1 0 -2.8 0ZM266.93 250.60a1.4 1.4 0 1 0 2.8 0a1.4 1.4 0 1 0 -2.8 0ZM268.12 250.60a1.4 1.4 0 1 0 2.8 0a1.4 1.4 0 1 0 -2.8 0ZM269.30 250.60a1.4 1.4 0 1 0 2.8 0a1.4 1.4 0 1 0 -2.8 0ZM270.48 250.60a1.4 1.4 0 1 0 2.8 0a1.4 1.4 0 1 0 -2.8 0ZM271.67 250.60a1.4 1.4 0 1 0 2.8 0a1.4 1.4 0 1 0 -2.8 0ZM272.85 250.60a1.4 1.4 0 1 0 2.8 0a1.4 1.4 0 1 0 -2.8 0ZM274.04 250.60a1.4 1.4 0 1 0 2.8 0a1.4 1.4 0 1 0 -2.8 0ZM275.22 250.60a1.4 1.4 0 1 0 2.8 0a1.4 1.4 0 1 0 -2.8 0ZM276.41 250.60a1.4 1.4 0 1 0 2.8 0a1.4 1.4 0 1 0 -2.8 0ZM277.59 250.60a1.4 1.4 0 1 0 2.8 0a1.4 1.4 0 1 0 -2.8 0ZM278.78 250.60a1.4 1.4 0 1 0 2.8 0a1.4 1.4 0 1 0 -2.8 0ZM279.96 250.60a1.4 1.4 0 1 0 2.8 0a1.4 1.4 0 1 0 -2.8 0ZM281.15 250.60a1.4 1.4 0 1 0 2.8 0a1.4 1.4 0 1 0 -2.8 0ZM282.33 250.60a1.4 1.4 0 1 0 2.8 0a1.4 1.4 0 1 0 -2.8 0ZM283.52 250.60a1.4 1.4 0 1 0 2.8 0a1.4 1.4 0 1 0 -2.8 0ZM284.70 250.60a1.4 1.4 0 1 0 2.8 0a1.4 1.4 0 1 0 -2.8 0ZM285.89 250.60a1.4 1.4 0 1 0 2.8 0a1.4 1.4 0 1 0 -2.8 0ZM287.07 250.60a1.4 1.4 0 1 0 2.8 0a1.4 1.4 0 1 0 -2.8 0ZM288.26 250.60a1.4 1.4 0 1 0 2.8 0a1.4 1.4 0 1 0 -2.8 0ZM289.44 250.60a1.4 1.4 0 1 0 2.8 0a1.4 1.4 0 1 0 -2.8 0ZM290.63 250.60a1.4 1.4 0 1 0 2.8 0a1.4 1.4 0 1 0 -2.8 0ZM291.81 250.60a1.4 1.4 0 1 0 2.8 0a1.4 1.4 0 1 0 -2.8 0ZM293.00 250.60a1.4 1.4 0 1 0 2.8 0a1.4 1.4 0 1 0 -2.8 0ZM294.18 250.60a1.4 1.4 0 1 0 2.8 0a1.4 1.4 0 1 0 -2.8 0ZM295.37 250.60a1.4 1.4 0 1 0 2.8 0a1.4 1.4 0 1 0 -2.8 0ZM296.55 250.60a1.4 1.4 0 1 0 2.8 0a1.4 1.4 0 1 0 -2.8 0ZM297.74 250.60a1.4 1.4 0 1 0 2.8 0a1.4 1.4 0 1 0 -2.8 0ZM298.92 250.60a1.4 1.4 0 1 0 2.8 0a1.4 1.4 0 1 0 -2.8 0ZM300.11 250.60a1.4 1.4 0 1 0 2.8 0a1.4 1.4 0 1 0 -2.8 0ZM301.29 250.60a1.4 1.4 0 1 0 2.8 0a1.4 1.4 0 1 0 -2.8 0ZM302.48 250.60a1.4 1.4 0 1 0 2.8 0a1.4 1.4 0 1 0 -2.8 0ZM303.66 250.60a1.4 1.4 0 1 0 2.8 0a1.4 1.4 0 1 0 -2.8 0ZM304.85 250.60a1.4 1.4 0 1 0 2.8 0a1.4 1.4 0 1 0 -2.8 0ZM306.03 250.60a1.4 1.4 0 1 0 2.8 0a1.4 1.4 0 1 0 -2.8 0ZM307.22 250.60a1.4 1.4 0 1 0 2.8 0a1.4 1.4 0 1 0 -2.8 0ZM308.40 250.60a1.4 1.4 0 1 0 2.8 0a1.4 1.4 0 1 0 -2.8 0Z" fill="#e65a20"/>
<path d="M192.50 180.02L194.55 182.42L192.50 184.82L190.45 182.42ZM193.68 180.61L195.73 183.01L193.68 185.41L191.63 183.01ZM194.87 181.30L196.92 183.70L194.87 186.10L192.82 183.70ZM196.05 182.11L198.10 184.51L196.05 186.91L194.00 184.51ZM197.24 183.03L199.29 185.43L197.24 187.83L195.19 185.43ZM198.42 184.08L200.47 186.48L198.42 188.88L196.37 186.48ZM199.61 185.24L201.66 187.64L199.61 190.04L197.56 187.64ZM200.79 186.52L202.84 188.92L200.79 191.32L198.74 188.92ZM201.98 187.89L204.03 190.29L201.98 192.69L199.93 190.29ZM203.16 189.36L205.21 191.76L203.16 194.16L201.11 191.76ZM204.35 190.90L206.40 193.30L204.35 195.70L202.30 193.30ZM205.53 192.49L207.58 194.89L205.53 197.29L203.48 194.89ZM206.72 194.14L208.77 196.54L206.72 198.94L204.67 196.54ZM207.90 195.84L209.95 198.24L207.90 200.64L205.85 198.24ZM209.09 197.57L211.14 199.97L209.09 202.37L207.04 199.97ZM210.27 199.32L212.32 201.72L210.27 204.12L208.22 201.72ZM211.46 201.11L213.51 203.51L211.46 205.91L209.41 203.51ZM212.64 202.91L214.69 205.31L212.64 207.71L210.59 205.31ZM213.83 204.73L215.88 207.13L213.83 209.53L211.78 207.13ZM215.01 206.57L217.06 208.97L215.01 211.37L212.96 208.97ZM216.20 208.41L218.25 210.81L216.20 213.21L214.15 210.81ZM217.38 210.27L219.43 212.67L217.38 215.07L215.33 212.67ZM218.57 212.14L220.62 214.54L218.57 216.94L216.52 214.54ZM219.75 214.02L221.80 216.42L219.75 218.82L217.70 216.42ZM220.94 215.90L222.99 218.30L220.94 220.70L218.89 218.30ZM222.12 217.79L224.17 220.19L222.12 222.59L220.07 220.19ZM223.31 219.68L225.36 222.08L223.31 224.48L221.26 222.08ZM224.49 221.58L226.54 223.98L224.49 226.38L222.44 223.98ZM225.68 223.49L227.73 225.89L225.68 228.29L223.63 225.89ZM226.86 225.39L228.91 227.79L226.86 230.19L224.81 227.79ZM228.05 227.30L230.10 229.70L228.05 232.10L226.00 229.70ZM229.23 229.22L231.28 231.62L229.23 234.02L227.18 231.62ZM230.42 231.13L232.47 233.53L230.42 235.93L228.37 233.53ZM231.60 233.05L233.65 235.45L231.60 237.85L229.55 235.45ZM232.78 234.97L234.83 237.37L232.78 239.77L230.73 237.37ZM233.97 236.90L236.02 239.30L233.97 241.70L231.92 239.30ZM235.15 238.82L237.20 241.22L235.15 243.62L233.10 241.22ZM236.34 240.75L238.39 243.15L236.34 245.55L234.29 243.15ZM237.52 242.68L239.57 245.08L237.52 247.48L235.47 245.08ZM238.71 244.61L240.76 247.01L238.71 249.41L236.66 247.01ZM239.89 248.20L241.94 250.60L239.89 253.00L237.84 250.60ZM241.08 248.20L243.13 250.60L241.08 253.00L239.03 250.60ZM242.26 248.20L244.31 250.60L242.26 253.00L240.21 250.60ZM243.45 248.20L245.50 250.60L243.45 253.00L241.40 250.60ZM244.63 248.20L246.68 250.60L244.63 253.00L242.58 250.60ZM245.82 248.20L247.87 250.60L245.82 253.00L243.77 250.60ZM247.00 248.20L249.05 250.60L247.00 253.00L244.95 250.60ZM248.19 248.20L250.24 250.60L248.19 253.00L246.14 250.60ZM249.37 248.20L251.42 250.60L249.37 253.00L247.32 250.60ZM250.56 248.20L252.61 250.60L250.56 253.00L248.51 250.60ZM251.74 248.20L253.79 250.60L251.74 253.00L249.69 250.60ZM252.93 248.20L254.98 250.60L252.93 253.00L250.88 250.60ZM254.11 248.20L256.16 250.60L254.11 253.00L252.06 250.60ZM255.30 248.20L257.35 250.60L255.30 253.00L253.25 250.60ZM256.48 248.20L258.53 250.60L256.48 253.00L254.43 250.60ZM257.67 248.20L259.72 250.60L257.67 253.00L255.62 250.60ZM258.85 248.20L260.90 250.60L258.85 253.00L256.80 250.60ZM260.04 248.20L262.09 250.60L260.04 253.00L257.99 250.60ZM261.22 248.20L263.27 250.60L261.22 253.00L259.17 250.60ZM262.41 248.20L264.46 250.60L262.41 253.00L260.36 250.60ZM263.59 248.20L265.64 250.60L263.59 253.00L261.54 250.60ZM264.78 248.20L266.83 250.60L264.78 253.00L262.73 250.60ZM265.96 248.20L268.01 250.60L265.96 253.00L263.91 250.60ZM267.15 248.20L269.20 250.60L267.15 253.00L265.10 250.60ZM268.33 248.20L270.38 250.60L268.33 253.00L266.28 250.60ZM269.52 248.20L271.57 250.60L269.52 253.00L267.47 250.60ZM270.70 248.20L272.75 250.60L270.70 253.00L268.65 250.60ZM271.88 248.20L273.93 250.60L271.88 253.00L269.83 250.60ZM273.07 248.20L275.12 250.60L273.07 253.00L271.02 250.60ZM274.25 248.20L276.30 250.60L274.25 253.00L272.20 250.60ZM275.44 248.20L277.49 250.60L275.44 253.00L273.39 250.60ZM276.62 248.20L278.67 250.60L276.62 253.00L274.57 250.60ZM277.81 248.20L279.86 250.60L277.81 253.00L275.76 250.60ZM278.99 248.20L281.04 250.60L278.99 253.00L276.94 250.60ZM280.18 248.20L282.23 250.60L280.18 253.00L278.13 250.60ZM281.36 248.20L283.41 250.60L281.36 253.00L279.31 250.60ZM282.55 248.20L284.60 250.60L282.55 253.00L280.50 250.60ZM283.73 248.20L285.78 250.60L283.73 253.00L281.68 250.60ZM284.92 248.20L286.97 250.60L284.92 253.00L282.87 250.60ZM286.10 248.20L288.15 250.60L286.10 253.00L284.05 250.60ZM287.29 248.20L289.34 250.60L287.29 253.00L285.24 250.60ZM288.47 248.20L290.52 250.60L288.47 253.00L286.42 250.60ZM289.66 248.20L291.71 250.60L289.66 253.00L287.61 250.60ZM290.84 248.20L292.89 250.60L290.84 253.00L288.79 250.60ZM292.03 248.20L294.08 250.60L292.03 253.00L289.98 250.60ZM293.21 248.20L295.26 250.60L293.21 253.00L291.16 250.60ZM294.40 248.20L296.45 250.60L294.40 253.00L292.35 250.60ZM295.58 248.20L297.63 250.60L295.58 253.00L293.53 250.60ZM296.77 248.20L298.82 250.60L296.77 253.00L294.72 250.60ZM297.95 248.20L300.00 250.60L297.95 253.00L295.90 250.60ZM299.14 248.20L301.19 250.60L299.14 253.00L297.09 250.60ZM300.32 248.20L302.37 250.60L300.32 253.00L298.27 250.60ZM301.51 248.20L303.56 250.60L301.51 253.00L299.46 250.60ZM302.69 248.20L304.74 250.60L302.69 253.00L300.64 250.60ZM303.88 248.20L305.93 250.60L303.88 253.00L301.83 250.60ZM305.06 248.20L307.11 250.60L305.06 253.00L303.01 250.60ZM306.25 248.20L308.30 250.60L306.25 253.00L304.20 250.60ZM307.43 248.20L309.48 250.60L307.43 253.00L305.38 250.60ZM308.62 248.20L310.67 250.60L308.62 253.00L306.57 250.60ZM309.80 248.20L311.85 250.60L309.80 253.00L307.75 250.60Z" fill="none" stroke="#747474" stroke-width="1.05"/>
<path d="M192.50 177.34L194.95 181.69L190.05 181.69ZM193.68 177.54L196.13 181.89L191.23 181.89ZM194.87 177.78L197.32 182.13L192.42 182.13ZM196.05 178.06L198.50 182.41L193.60 182.41ZM197.24 178.41L199.69 182.75L194.79 182.75ZM198.42 178.82L200.87 183.17L195.97 183.17ZM199.61 179.33L202.06 183.67L197.16 183.67ZM200.79 179.94L203.24 184.29L198.34 184.29ZM201.98 180.68L204.43 185.03L199.53 185.03ZM203.16 181.56L205.61 185.91L200.71 185.91ZM204.35 182.58L206.80 186.93L201.90 186.93ZM205.53 183.75L207.98 188.10L203.08 188.10ZM206.72 185.05L209.17 189.40L204.27 189.40ZM207.90 186.47L210.35 190.82L205.45 190.82ZM209.09 187.98L211.54 192.33L206.64 192.33ZM210.27 189.57L212.72 193.92L207.82 193.92ZM211.46 191.22L213.91 195.57L209.01 195.57ZM212.64 192.92L215.09 197.27L210.19 197.27ZM213.83 194.67L216.28 199.01L211.38 199.01ZM215.01 196.44L217.46 200.79L212.56 200.79ZM216.20 198.24L218.65 202.59L213.75 202.59ZM217.38 200.06L219.83 204.41L214.93 204.41ZM218.57 201.90L221.02 206.25L216.12 206.25ZM219.75 203.75L222.20 208.10L217.30 208.10ZM220.94 205.62L223.39 209.96L218.49 209.96ZM222.12 207.49L224.57 211.84L219.67 211.84ZM223.31 209.37L225.76 213.72L220.86 213.72ZM224.49 211.26L226.94 215.61L222.04 215.61ZM225.68 213.16L228.13 217.51L223.23 217.51ZM226.86 215.06L229.31 219.41L224.41 219.41ZM228.05 216.97L230.50 221.32L225.60 221.32ZM229.23 218.88L231.68 223.23L226.78 223.23ZM230.42 220.79L232.87 225.14L227.97 225.14ZM231.60 222.71L234.05 227.06L229.15 227.06ZM232.78 224.63L235.23 228.98L230.33 228.98ZM233.97 226.56L236.42 230.90L231.52 230.90ZM235.15 228.48L237.60 232.83L232.70 232.83ZM236.34 230.41L238.79 234.76L233.89 234.76ZM237.52 232.34L239.97 236.69L235.07 236.69ZM238.71 234.27L241.16 238.62L236.26 238.62ZM239.89 248.25L242.34 252.60L237.44 252.60ZM241.08 248.25L243.53 252.60L238.63 252.60ZM242.26 248.25L244.71 252.60L239.81 252.60ZM243.45 248.25L245.90 252.60L241.00 252.60ZM244.63 248.25L247.08 252.60L242.18 252.60ZM245.82 248.25L248.27 252.60L243.37 252.60ZM247.00 248.25L249.45 252.60L244.55 252.60ZM248.19 248.25L250.64 252.60L245.74 252.60ZM249.37 248.25L251.82 252.60L246.92 252.60ZM250.56 248.25L253.01 252.60L248.11 252.60ZM251.74 248.25L254.19 252.60L249.29 252.60ZM252.93 248.25L255.38 252.60L250.48 252.60ZM254.11 248.25L256.56 252.60L251.66 252.60ZM255.30 248.25L257.75 252.60L252.85 252.60ZM256.48 248.25L258.93 252.60L254.03 252.60ZM257.67 248.25L260.12 252.60L255.22 252.60ZM258.85 248.25L261.30 252.60L256.40 252.60ZM260.04 248.25L262.49 252.60L257.59 252.60ZM261.22 248.25L263.67 252.60L258.77 252.60ZM262.41 248.25L264.86 252.60L259.96 252.60ZM263.59 248.25L266.04 252.60L261.14 252.60ZM264.78 248.25L267.23 252.60L262.33 252.60ZM265.96 248.25L268.41 252.60L263.51 252.60ZM267.15 248.25L269.60 252.60L264.70 252.60ZM268.33 248.25L270.78 252.60L265.88 252.60ZM269.52 248.25L271.97 252.60L267.07 252.60ZM270.70 248.25L273.15 252.60L268.25 252.60ZM271.88 248.25L274.33 252.60L269.43 252.60ZM273.07 248.25L275.52 252.60L270.62 252.60ZM274.25 248.25L276.70 252.60L271.80 252.60ZM275.44 248.25L277.89 252.60L272.99 252.60ZM276.62 248.25L279.07 252.60L274.17 252.60ZM277.81 248.25L280.26 252.60L275.36 252.60ZM278.99 248.25L281.44 252.60L276.54 252.60ZM280.18 248.25L282.63 252.60L277.73 252.60ZM281.36 248.25L283.81 252.60L278.91 252.60ZM282.55 248.25L285.00 252.60L280.10 252.60ZM283.73 248.25L286.18 252.60L281.28 252.60ZM284.92 248.25L287.37 252.60L282.47 252.60ZM286.10 248.25L288.55 252.60L283.65 252.60ZM287.29 248.25L289.74 252.60L284.84 252.60ZM288.47 248.25L290.92 252.60L286.02 252.60ZM289.66 248.25L292.11 252.60L287.21 252.60ZM290.84 248.25L293.29 252.60L288.39 252.60ZM292.03 248.25L294.48 252.60L289.58 252.60ZM293.21 248.25L295.66 252.60L290.76 252.60ZM294.40 248.25L296.85 252.60L291.95 252.60ZM295.58 248.25L298.03 252.60L293.13 252.60ZM296.77 248.25L299.22 252.60L294.32 252.60ZM297.95 248.25L300.40 252.60L295.50 252.60ZM299.14 248.25L301.59 252.60L296.69 252.60ZM300.32 248.25L302.77 252.60L297.87 252.60ZM301.51 248.25L303.96 252.60L299.06 252.60ZM302.69 248.25L305.14 252.60L300.24 252.60ZM303.88 248.25L306.33 252.60L301.43 252.60ZM305.06 248.25L307.51 252.60L302.61 252.60ZM306.25 248.25L308.70 252.60L303.80 252.60ZM307.43 248.25L309.88 252.60L304.98 252.60ZM308.62 248.25L311.07 252.60L306.17 252.60ZM309.80 248.25L312.25 252.60L307.35 252.60Z" fill="#725667"/>
</g>
<text x="190.20" y="253.30" font-size="6.7" text-anchor="end" font-weight="normal" fill="#111" >0</text>
<text x="190.20" y="231.70" font-size="6.7" text-anchor="end" font-weight="normal" fill="#111" >200</text>
<text x="190.20" y="210.10" font-size="6.7" text-anchor="end" font-weight="normal" fill="#111" >400</text>
<text x="190.20" y="188.50" font-size="6.7" text-anchor="end" font-weight="normal" fill="#111" >600</text>
<text x="190.20" y="166.90" font-size="6.7" text-anchor="end" font-weight="normal" fill="#111" >800</text>
<text x="190.90" y="261.70" font-size="6.7" text-anchor="middle" fill="#111">10</text>
<text x="194.60" y="258.00" font-size="4.8" text-anchor="start" fill="#111">0</text>
<text x="224.41" y="261.70" font-size="6.7" text-anchor="middle" fill="#111">10</text>
<text x="228.11" y="258.00" font-size="4.8" text-anchor="start" fill="#111">2</text>
<text x="257.93" y="261.70" font-size="6.7" text-anchor="middle" fill="#111">10</text>
<text x="261.63" y="258.00" font-size="4.8" text-anchor="start" fill="#111">4</text>
<text x="291.44" y="261.70" font-size="6.7" text-anchor="middle" fill="#111">10</text>
<text x="295.14" y="258.00" font-size="4.8" text-anchor="start" fill="#111">6</text>
<text x="250.35" y="270.50" font-size="7.55" text-anchor="middle" font-weight="bold" fill="#111" >Elastic Modulus [kPa]</text>
<text transform="translate(177.00 267.80) rotate(-90) scale(0.94 1)" font-size="8.1" text-anchor="start" font-weight="bold" fill="#111">Maximum Bubble Diameter<tspan dx="2.5" font-size="7.4">[</tspan><tspan dx="2.8" font-size="8.8" font-weight="normal" font-style="italic">μ</tspan><tspan font-size="8.8" font-weight="normal">m</tspan><tspan font-size="7.4">]</tspan></text>
<text x="302.80" y="245.00" font-size="7.2" text-anchor="middle" font-weight="bold" fill="#000" >D</text>
<rect x="20.40" y="300.00" width="120.20" height="86.80" fill="none" stroke="#262626" stroke-width="0.7"/>
<path d="M20.40 386.80v-1.8M20.40 300.00v1.8M25.57 386.80v-1.2M25.57 300.00v1.2M28.59 386.80v-1.2M28.59 300.00v1.2M30.74 386.80v-1.2M30.74 300.00v1.2M32.40 386.80v-1.2M32.40 300.00v1.2M33.76 386.80v-1.2M33.76 300.00v1.2M34.91 386.80v-1.2M34.91 300.00v1.2M35.91 386.80v-1.2M35.91 300.00v1.2M36.79 386.80v-1.2M36.79 300.00v1.2M37.57 386.80v-1.8M37.57 300.00v1.8M42.74 386.80v-1.2M42.74 300.00v1.2M45.76 386.80v-1.2M45.76 300.00v1.2M47.91 386.80v-1.2M47.91 300.00v1.2M49.57 386.80v-1.2M49.57 300.00v1.2M50.93 386.80v-1.2M50.93 300.00v1.2M52.08 386.80v-1.2M52.08 300.00v1.2M53.08 386.80v-1.2M53.08 300.00v1.2M53.96 386.80v-1.2M53.96 300.00v1.2M54.74 386.80v-1.8M54.74 300.00v1.8M59.91 386.80v-1.2M59.91 300.00v1.2M62.94 386.80v-1.2M62.94 300.00v1.2M65.08 386.80v-1.2M65.08 300.00v1.2M66.75 386.80v-1.2M66.75 300.00v1.2M68.10 386.80v-1.2M68.10 300.00v1.2M69.25 386.80v-1.2M69.25 300.00v1.2M70.25 386.80v-1.2M70.25 300.00v1.2M71.13 386.80v-1.2M71.13 300.00v1.2M71.91 386.80v-1.8M71.91 300.00v1.8M77.08 386.80v-1.2M77.08 300.00v1.2M80.11 386.80v-1.2M80.11 300.00v1.2M82.25 386.80v-1.2M82.25 300.00v1.2M83.92 386.80v-1.2M83.92 300.00v1.2M85.28 386.80v-1.2M85.28 300.00v1.2M86.43 386.80v-1.2M86.43 300.00v1.2M87.42 386.80v-1.2M87.42 300.00v1.2M88.30 386.80v-1.2M88.30 300.00v1.2M89.09 386.80v-1.8M89.09 300.00v1.8M94.25 386.80v-1.2M94.25 300.00v1.2M97.28 386.80v-1.2M97.28 300.00v1.2M99.42 386.80v-1.2M99.42 300.00v1.2M101.09 386.80v-1.2M101.09 300.00v1.2M102.45 386.80v-1.2M102.45 300.00v1.2M103.60 386.80v-1.2M103.60 300.00v1.2M104.59 386.80v-1.2M104.59 300.00v1.2M105.47 386.80v-1.2M105.47 300.00v1.2M106.26 386.80v-1.8M106.26 300.00v1.8M111.43 386.80v-1.2M111.43 300.00v1.2M114.45 386.80v-1.2M114.45 300.00v1.2M116.60 386.80v-1.2M116.60 300.00v1.2M118.26 386.80v-1.2M118.26 300.00v1.2M119.62 386.80v-1.2M119.62 300.00v1.2M120.77 386.80v-1.2M120.77 300.00v1.2M121.76 386.80v-1.2M121.76 300.00v1.2M122.64 386.80v-1.2M122.64 300.00v1.2M123.43 386.80v-1.8M123.43 300.00v1.8M128.60 386.80v-1.2M128.60 300.00v1.2M131.62 386.80v-1.2M131.62 300.00v1.2M133.77 386.80v-1.2M133.77 300.00v1.2M135.43 386.80v-1.2M135.43 300.00v1.2M136.79 386.80v-1.2M136.79 300.00v1.2M137.94 386.80v-1.2M137.94 300.00v1.2M138.94 386.80v-1.2M138.94 300.00v1.2M139.81 386.80v-1.2M139.81 300.00v1.2M140.60 386.80v-1.8M140.60 300.00v1.8M20.40 386.80h1.8M140.60 386.80h-1.8M20.40 374.40h1.8M140.60 374.40h-1.8M20.40 362.00h1.8M140.60 362.00h-1.8M20.40 349.60h1.8M140.60 349.60h-1.8M20.40 337.20h1.8M140.60 337.20h-1.8M20.40 324.80h1.8M140.60 324.80h-1.8M20.40 312.40h1.8M140.60 312.40h-1.8M20.40 300.00h1.8M140.60 300.00h-1.8" stroke="#262626" stroke-width="0.6" fill="none"/>
<g clip-path="url(#clipE)">
<path d="M19.40 313.39a1.0 0.8 0 1 0 2.0 0a1.0 0.8 0 1 0 -2.0 0ZM20.61 313.39a1.0 0.8 0 1 0 2.0 0a1.0 0.8 0 1 0 -2.0 0ZM21.83 313.39a1.0 0.8 0 1 0 2.0 0a1.0 0.8 0 1 0 -2.0 0ZM23.04 313.40a1.0 0.8 0 1 0 2.0 0a1.0 0.8 0 1 0 -2.0 0ZM24.26 313.40a1.0 0.8 0 1 0 2.0 0a1.0 0.8 0 1 0 -2.0 0ZM25.47 313.40a1.0 0.8 0 1 0 2.0 0a1.0 0.8 0 1 0 -2.0 0ZM26.68 313.40a1.0 0.8 0 1 0 2.0 0a1.0 0.8 0 1 0 -2.0 0ZM27.90 313.40a1.0 0.8 0 1 0 2.0 0a1.0 0.8 0 1 0 -2.0 0ZM29.11 313.40a1.0 0.8 0 1 0 2.0 0a1.0 0.8 0 1 0 -2.0 0ZM30.33 313.40a1.0 0.8 0 1 0 2.0 0a1.0 0.8 0 1 0 -2.0 0ZM31.54 313.40a1.0 0.8 0 1 0 2.0 0a1.0 0.8 0 1 0 -2.0 0ZM32.76 313.40a1.0 0.8 0 1 0 2.0 0a1.0 0.8 0 1 0 -2.0 0ZM33.97 313.41a1.0 0.8 0 1 0 2.0 0a1.0 0.8 0 1 0 -2.0 0ZM35.18 313.41a1.0 0.8 0 1 0 2.0 0a1.0 0.8 0 1 0 -2.0 0ZM36.40 313.41a1.0 0.8 0 1 0 2.0 0a1.0 0.8 0 1 0 -2.0 0ZM37.61 313.42a1.0 0.8 0 1 0 2.0 0a1.0 0.8 0 1 0 -2.0 0ZM38.83 313.42a1.0 0.8 0 1 0 2.0 0a1.0 0.8 0 1 0 -2.0 0ZM40.04 313.42a1.0 0.8 0 1 0 2.0 0a1.0 0.8 0 1 0 -2.0 0ZM41.25 313.43a1.0 0.8 0 1 0 2.0 0a1.0 0.8 0 1 0 -2.0 0ZM42.47 313.44a1.0 0.8 0 1 0 2.0 0a1.0 0.8 0 1 0 -2.0 0ZM43.68 313.44a1.0 0.8 0 1 0 2.0 0a1.0 0.8 0 1 0 -2.0 0ZM44.90 313.45a1.0 0.8 0 1 0 2.0 0a1.0 0.8 0 1 0 -2.0 0ZM46.11 313.47a1.0 0.8 0 1 0 2.0 0a1.0 0.8 0 1 0 -2.0 0ZM47.33 313.48a1.0 0.8 0 1 0 2.0 0a1.0 0.8 0 1 0 -2.0 0ZM48.54 313.49a1.0 0.8 0 1 0 2.0 0a1.0 0.8 0 1 0 -2.0 0ZM49.75 313.51a1.0 0.8 0 1 0 2.0 0a1.0 0.8 0 1 0 -2.0 0ZM50.97 313.53a1.0 0.8 0 1 0 2.0 0a1.0 0.8 0 1 0 -2.0 0ZM52.18 313.56a1.0 0.8 0 1 0 2.0 0a1.0 0.8 0 1 0 -2.0 0ZM53.40 313.59a1.0 0.8 0 1 0 2.0 0a1.0 0.8 0 1 0 -2.0 0ZM54.61 313.62a1.0 0.8 0 1 0 2.0 0a1.0 0.8 0 1 0 -2.0 0ZM55.82 313.66a1.0 0.8 0 1 0 2.0 0a1.0 0.8 0 1 0 -2.0 0ZM57.04 313.71a1.0 0.8 0 1 0 2.0 0a1.0 0.8 0 1 0 -2.0 0ZM58.25 313.77a1.0 0.8 0 1 0 2.0 0a1.0 0.8 0 1 0 -2.0 0ZM59.47 313.83a1.0 0.8 0 1 0 2.0 0a1.0 0.8 0 1 0 -2.0 0ZM60.68 313.91a1.0 0.8 0 1 0 2.0 0a1.0 0.8 0 1 0 -2.0 0ZM61.89 314.00a1.0 0.8 0 1 0 2.0 0a1.0 0.8 0 1 0 -2.0 0ZM63.11 314.11a1.0 0.8 0 1 0 2.0 0a1.0 0.8 0 1 0 -2.0 0ZM64.32 314.24a1.0 0.8 0 1 0 2.0 0a1.0 0.8 0 1 0 -2.0 0ZM65.54 314.39a1.0 0.8 0 1 0 2.0 0a1.0 0.8 0 1 0 -2.0 0ZM66.75 314.57a1.0 0.8 0 1 0 2.0 0a1.0 0.8 0 1 0 -2.0 0ZM67.97 314.78a1.0 0.8 0 1 0 2.0 0a1.0 0.8 0 1 0 -2.0 0ZM69.18 315.03a1.0 0.8 0 1 0 2.0 0a1.0 0.8 0 1 0 -2.0 0ZM70.39 315.32a1.0 0.8 0 1 0 2.0 0a1.0 0.8 0 1 0 -2.0 0ZM71.61 315.67a1.0 0.8 0 1 0 2.0 0a1.0 0.8 0 1 0 -2.0 0ZM72.82 316.08a1.0 0.8 0 1 0 2.0 0a1.0 0.8 0 1 0 -2.0 0ZM74.04 316.56a1.0 0.8 0 1 0 2.0 0a1.0 0.8 0 1 0 -2.0 0ZM75.25 317.14a1.0 0.8 0 1 0 2.0 0a1.0 0.8 0 1 0 -2.0 0ZM76.46 317.82a1.0 0.8 0 1 0 2.0 0a1.0 0.8 0 1 0 -2.0 0ZM77.68 318.63a1.0 0.8 0 1 0 2.0 0a1.0 0.8 0 1 0 -2.0 0ZM78.89 319.60a1.0 0.8 0 1 0 2.0 0a1.0 0.8 0 1 0 -2.0 0ZM80.11 320.76a1.0 0.8 0 1 0 2.0 0a1.0 0.8 0 1 0 -2.0 0ZM81.32 322.15a1.0 0.8 0 1 0 2.0 0a1.0 0.8 0 1 0 -2.0 0ZM82.54 323.83a1.0 0.8 0 1 0 2.0 0a1.0 0.8 0 1 0 -2.0 0ZM83.75 325.86a1.0 0.8 0 1 0 2.0 0a1.0 0.8 0 1 0 -2.0 0ZM84.96 328.34a1.0 0.8 0 1 0 2.0 0a1.0 0.8 0 1 0 -2.0 0ZM86.18 331.40a1.0 0.8 0 1 0 2.0 0a1.0 0.8 0 1 0 -2.0 0ZM87.39 335.23a1.0 0.8 0 1 0 2.0 0a1.0 0.8 0 1 0 -2.0 0ZM88.61 340.15a1.0 0.8 0 1 0 2.0 0a1.0 0.8 0 1 0 -2.0 0ZM89.82 346.69a1.0 0.8 0 1 0 2.0 0a1.0 0.8 0 1 0 -2.0 0ZM91.03 356.14a1.0 0.8 0 1 0 2.0 0a1.0 0.8 0 1 0 -2.0 0ZM92.25 374.40a1.0 0.8 0 1 0 2.0 0a1.0 0.8 0 1 0 -2.0 0ZM93.46 386.80a1.0 0.8 0 1 0 2.0 0a1.0 0.8 0 1 0 -2.0 0ZM94.68 386.80a1.0 0.8 0 1 0 2.0 0a1.0 0.8 0 1 0 -2.0 0ZM95.89 386.80a1.0 0.8 0 1 0 2.0 0a1.0 0.8 0 1 0 -2.0 0ZM97.11 386.80a1.0 0.8 0 1 0 2.0 0a1.0 0.8 0 1 0 -2.0 0ZM98.32 386.80a1.0 0.8 0 1 0 2.0 0a1.0 0.8 0 1 0 -2.0 0ZM99.53 386.80a1.0 0.8 0 1 0 2.0 0a1.0 0.8 0 1 0 -2.0 0ZM100.75 386.80a1.0 0.8 0 1 0 2.0 0a1.0 0.8 0 1 0 -2.0 0ZM101.96 386.80a1.0 0.8 0 1 0 2.0 0a1.0 0.8 0 1 0 -2.0 0ZM103.18 386.80a1.0 0.8 0 1 0 2.0 0a1.0 0.8 0 1 0 -2.0 0ZM104.39 386.80a1.0 0.8 0 1 0 2.0 0a1.0 0.8 0 1 0 -2.0 0ZM105.60 386.80a1.0 0.8 0 1 0 2.0 0a1.0 0.8 0 1 0 -2.0 0ZM106.82 386.80a1.0 0.8 0 1 0 2.0 0a1.0 0.8 0 1 0 -2.0 0ZM108.03 386.80a1.0 0.8 0 1 0 2.0 0a1.0 0.8 0 1 0 -2.0 0ZM109.25 386.80a1.0 0.8 0 1 0 2.0 0a1.0 0.8 0 1 0 -2.0 0ZM110.46 386.80a1.0 0.8 0 1 0 2.0 0a1.0 0.8 0 1 0 -2.0 0ZM111.67 386.80a1.0 0.8 0 1 0 2.0 0a1.0 0.8 0 1 0 -2.0 0ZM112.89 386.80a1.0 0.8 0 1 0 2.0 0a1.0 0.8 0 1 0 -2.0 0ZM114.10 386.80a1.0 0.8 0 1 0 2.0 0a1.0 0.8 0 1 0 -2.0 0ZM115.32 386.80a1.0 0.8 0 1 0 2.0 0a1.0 0.8 0 1 0 -2.0 0ZM116.53 386.80a1.0 0.8 0 1 0 2.0 0a1.0 0.8 0 1 0 -2.0 0ZM117.75 386.80a1.0 0.8 0 1 0 2.0 0a1.0 0.8 0 1 0 -2.0 0ZM118.96 386.80a1.0 0.8 0 1 0 2.0 0a1.0 0.8 0 1 0 -2.0 0ZM120.17 386.80a1.0 0.8 0 1 0 2.0 0a1.0 0.8 0 1 0 -2.0 0ZM121.39 386.80a1.0 0.8 0 1 0 2.0 0a1.0 0.8 0 1 0 -2.0 0ZM122.60 386.80a1.0 0.8 0 1 0 2.0 0a1.0 0.8 0 1 0 -2.0 0ZM123.82 386.80a1.0 0.8 0 1 0 2.0 0a1.0 0.8 0 1 0 -2.0 0ZM125.03 386.80a1.0 0.8 0 1 0 2.0 0a1.0 0.8 0 1 0 -2.0 0ZM126.24 386.80a1.0 0.8 0 1 0 2.0 0a1.0 0.8 0 1 0 -2.0 0ZM127.46 386.80a1.0 0.8 0 1 0 2.0 0a1.0 0.8 0 1 0 -2.0 0ZM128.67 386.80a1.0 0.8 0 1 0 2.0 0a1.0 0.8 0 1 0 -2.0 0ZM129.89 386.80a1.0 0.8 0 1 0 2.0 0a1.0 0.8 0 1 0 -2.0 0ZM131.10 386.80a1.0 0.8 0 1 0 2.0 0a1.0 0.8 0 1 0 -2.0 0ZM132.32 386.80a1.0 0.8 0 1 0 2.0 0a1.0 0.8 0 1 0 -2.0 0ZM133.53 386.80a1.0 0.8 0 1 0 2.0 0a1.0 0.8 0 1 0 -2.0 0ZM134.74 386.80a1.0 0.8 0 1 0 2.0 0a1.0 0.8 0 1 0 -2.0 0ZM135.96 386.80a1.0 0.8 0 1 0 2.0 0a1.0 0.8 0 1 0 -2.0 0ZM137.17 386.80a1.0 0.8 0 1 0 2.0 0a1.0 0.8 0 1 0 -2.0 0ZM138.39 386.80a1.0 0.8 0 1 0 2.0 0a1.0 0.8 0 1 0 -2.0 0ZM139.60 386.80a1.0 0.8 0 1 0 2.0 0a1.0 0.8 0 1 0 -2.0 0Z" fill="#2f78d0"/>
<path d="M19.20 312.19h2.40v2.40h-2.40ZM20.41 312.19h2.40v2.40h-2.40ZM21.63 312.19h2.40v2.40h-2.40ZM22.84 312.19h2.40v2.40h-2.40ZM24.06 312.19h2.40v2.40h-2.40ZM25.27 312.20h2.40v2.40h-2.40ZM26.48 312.20h2.40v2.40h-2.40ZM27.70 312.20h2.40v2.40h-2.40ZM28.91 312.20h2.40v2.40h-2.40ZM30.13 312.20h2.40v2.40h-2.40ZM31.34 312.20h2.40v2.40h-2.40ZM32.56 312.20h2.40v2.40h-2.40ZM33.77 312.20h2.40v2.40h-2.40ZM34.98 312.20h2.40v2.40h-2.40ZM36.20 312.21h2.40v2.40h-2.40ZM37.41 312.21h2.40v2.40h-2.40ZM38.63 312.21h2.40v2.40h-2.40ZM39.84 312.21h2.40v2.40h-2.40ZM41.05 312.22h2.40v2.40h-2.40ZM42.27 312.22h2.40v2.40h-2.40ZM43.48 312.23h2.40v2.40h-2.40ZM44.70 312.23h2.40v2.40h-2.40ZM45.91 312.24h2.40v2.40h-2.40ZM47.13 312.25h2.40v2.40h-2.40ZM48.34 312.26h2.40v2.40h-2.40ZM49.55 312.27h2.40v2.40h-2.40ZM50.77 312.29h2.40v2.40h-2.40ZM51.98 312.31h2.40v2.40h-2.40ZM53.20 312.33h2.40v2.40h-2.40ZM54.41 312.35h2.40v2.40h-2.40ZM55.62 312.38h2.40v2.40h-2.40ZM56.84 312.41h2.40v2.40h-2.40ZM58.05 312.45h2.40v2.40h-2.40ZM59.27 312.49h2.40v2.40h-2.40ZM60.48 312.55h2.40v2.40h-2.40ZM61.69 312.61h2.40v2.40h-2.40ZM62.91 312.68h2.40v2.40h-2.40ZM64.12 312.77h2.40v2.40h-2.40ZM65.34 312.87h2.40v2.40h-2.40ZM66.55 312.99h2.40v2.40h-2.40ZM67.77 313.14h2.40v2.40h-2.40ZM68.98 313.31h2.40v2.40h-2.40ZM70.19 313.51h2.40v2.40h-2.40ZM71.41 313.74h2.40v2.40h-2.40ZM72.62 314.02h2.40v2.40h-2.40ZM73.84 314.34h2.40v2.40h-2.40ZM75.05 314.73h2.40v2.40h-2.40ZM76.26 315.19h2.40v2.40h-2.40ZM77.48 315.73h2.40v2.40h-2.40ZM78.69 316.38h2.40v2.40h-2.40ZM79.91 317.15h2.40v2.40h-2.40ZM81.12 318.06h2.40v2.40h-2.40ZM82.34 319.15h2.40v2.40h-2.40ZM83.55 320.46h2.40v2.40h-2.40ZM84.76 322.03h2.40v2.40h-2.40ZM85.98 323.94h2.40v2.40h-2.40ZM87.19 326.25h2.40v2.40h-2.40ZM88.41 329.10h2.40v2.40h-2.40ZM89.62 332.65h2.40v2.40h-2.40ZM90.83 337.16h2.40v2.40h-2.40ZM92.05 343.07h2.40v2.40h-2.40ZM93.26 351.31h2.40v2.40h-2.40ZM94.48 364.85h2.40v2.40h-2.40ZM95.69 385.60h2.40v2.40h-2.40ZM96.91 385.60h2.40v2.40h-2.40ZM98.12 385.60h2.40v2.40h-2.40ZM99.33 385.60h2.40v2.40h-2.40ZM100.55 385.60h2.40v2.40h-2.40ZM101.76 385.60h2.40v2.40h-2.40ZM102.98 385.60h2.40v2.40h-2.40ZM104.19 385.60h2.40v2.40h-2.40ZM105.40 385.60h2.40v2.40h-2.40ZM106.62 385.60h2.40v2.40h-2.40ZM107.83 385.60h2.40v2.40h-2.40ZM109.05 385.60h2.40v2.40h-2.40ZM110.26 385.60h2.40v2.40h-2.40ZM111.47 385.60h2.40v2.40h-2.40ZM112.69 385.60h2.40v2.40h-2.40ZM113.90 385.60h2.40v2.40h-2.40ZM115.12 385.60h2.40v2.40h-2.40ZM116.33 385.60h2.40v2.40h-2.40ZM117.55 385.60h2.40v2.40h-2.40ZM118.76 385.60h2.40v2.40h-2.40ZM119.97 385.60h2.40v2.40h-2.40ZM121.19 385.60h2.40v2.40h-2.40ZM122.40 385.60h2.40v2.40h-2.40ZM123.62 385.60h2.40v2.40h-2.40ZM124.83 385.60h2.40v2.40h-2.40ZM126.04 385.60h2.40v2.40h-2.40ZM127.26 385.60h2.40v2.40h-2.40ZM128.47 385.60h2.40v2.40h-2.40ZM129.69 385.60h2.40v2.40h-2.40ZM130.90 385.60h2.40v2.40h-2.40ZM132.12 385.60h2.40v2.40h-2.40ZM133.33 385.60h2.40v2.40h-2.40ZM134.54 385.60h2.40v2.40h-2.40ZM135.76 385.60h2.40v2.40h-2.40ZM136.97 385.60h2.40v2.40h-2.40ZM138.19 385.60h2.40v2.40h-2.40ZM139.40 385.60h2.40v2.40h-2.40Z" fill="none" stroke="#7438a8" stroke-width="0.78"/>
<path d="M18.85 313.39a1.55 1.55 0 1 0 3.1 0a1.55 1.55 0 1 0 -3.1 0ZM20.06 313.40a1.55 1.55 0 1 0 3.1 0a1.55 1.55 0 1 0 -3.1 0ZM21.28 313.40a1.55 1.55 0 1 0 3.1 0a1.55 1.55 0 1 0 -3.1 0ZM22.49 313.40a1.55 1.55 0 1 0 3.1 0a1.55 1.55 0 1 0 -3.1 0ZM23.71 313.40a1.55 1.55 0 1 0 3.1 0a1.55 1.55 0 1 0 -3.1 0ZM24.92 313.40a1.55 1.55 0 1 0 3.1 0a1.55 1.55 0 1 0 -3.1 0ZM26.13 313.40a1.55 1.55 0 1 0 3.1 0a1.55 1.55 0 1 0 -3.1 0ZM27.35 313.40a1.55 1.55 0 1 0 3.1 0a1.55 1.55 0 1 0 -3.1 0ZM28.56 313.40a1.55 1.55 0 1 0 3.1 0a1.55 1.55 0 1 0 -3.1 0ZM29.78 313.40a1.55 1.55 0 1 0 3.1 0a1.55 1.55 0 1 0 -3.1 0ZM30.99 313.41a1.55 1.55 0 1 0 3.1 0a1.55 1.55 0 1 0 -3.1 0ZM32.21 313.41a1.55 1.55 0 1 0 3.1 0a1.55 1.55 0 1 0 -3.1 0ZM33.42 313.41a1.55 1.55 0 1 0 3.1 0a1.55 1.55 0 1 0 -3.1 0ZM34.63 313.41a1.55 1.55 0 1 0 3.1 0a1.55 1.55 0 1 0 -3.1 0ZM35.85 313.42a1.55 1.55 0 1 0 3.1 0a1.55 1.55 0 1 0 -3.1 0ZM37.06 313.42a1.55 1.55 0 1 0 3.1 0a1.55 1.55 0 1 0 -3.1 0ZM38.28 313.43a1.55 1.55 0 1 0 3.1 0a1.55 1.55 0 1 0 -3.1 0ZM39.49 313.43a1.55 1.55 0 1 0 3.1 0a1.55 1.55 0 1 0 -3.1 0ZM40.70 313.44a1.55 1.55 0 1 0 3.1 0a1.55 1.55 0 1 0 -3.1 0ZM41.92 313.45a1.55 1.55 0 1 0 3.1 0a1.55 1.55 0 1 0 -3.1 0ZM43.13 313.46a1.55 1.55 0 1 0 3.1 0a1.55 1.55 0 1 0 -3.1 0ZM44.35 313.47a1.55 1.55 0 1 0 3.1 0a1.55 1.55 0 1 0 -3.1 0ZM45.56 313.48a1.55 1.55 0 1 0 3.1 0a1.55 1.55 0 1 0 -3.1 0ZM46.78 313.50a1.55 1.55 0 1 0 3.1 0a1.55 1.55 0 1 0 -3.1 0ZM47.99 313.52a1.55 1.55 0 1 0 3.1 0a1.55 1.55 0 1 0 -3.1 0ZM49.20 313.54a1.55 1.55 0 1 0 3.1 0a1.55 1.55 0 1 0 -3.1 0ZM50.42 313.57a1.55 1.55 0 1 0 3.1 0a1.55 1.55 0 1 0 -3.1 0ZM51.63 313.60a1.55 1.55 0 1 0 3.1 0a1.55 1.55 0 1 0 -3.1 0ZM52.85 313.64a1.55 1.55 0 1 0 3.1 0a1.55 1.55 0 1 0 -3.1 0ZM54.06 313.68a1.55 1.55 0 1 0 3.1 0a1.55 1.55 0 1 0 -3.1 0ZM55.27 313.73a1.55 1.55 0 1 0 3.1 0a1.55 1.55 0 1 0 -3.1 0ZM56.49 313.79a1.55 1.55 0 1 0 3.1 0a1.55 1.55 0 1 0 -3.1 0ZM57.70 313.86a1.55 1.55 0 1 0 3.1 0a1.55 1.55 0 1 0 -3.1 0ZM58.92 313.95a1.55 1.55 0 1 0 3.1 0a1.55 1.55 0 1 0 -3.1 0ZM60.13 314.05a1.55 1.55 0 1 0 3.1 0a1.55 1.55 0 1 0 -3.1 0ZM61.34 314.16a1.55 1.55 0 1 0 3.1 0a1.55 1.55 0 1 0 -3.1 0ZM62.56 314.30a1.55 1.55 0 1 0 3.1 0a1.55 1.55 0 1 0 -3.1 0ZM63.77 314.46a1.55 1.55 0 1 0 3.1 0a1.55 1.55 0 1 0 -3.1 0ZM64.99 314.65a1.55 1.55 0 1 0 3.1 0a1.55 1.55 0 1 0 -3.1 0ZM66.20 314.88a1.55 1.55 0 1 0 3.1 0a1.55 1.55 0 1 0 -3.1 0ZM67.42 315.14a1.55 1.55 0 1 0 3.1 0a1.55 1.55 0 1 0 -3.1 0ZM68.63 315.46a1.55 1.55 0 1 0 3.1 0a1.55 1.55 0 1 0 -3.1 0ZM69.84 315.83a1.55 1.55 0 1 0 3.1 0a1.55 1.55 0 1 0 -3.1 0ZM71.06 316.27a1.55 1.55 0 1 0 3.1 0a1.55 1.55 0 1 0 -3.1 0ZM72.27 316.79a1.55 1.55 0 1 0 3.1 0a1.55 1.55 0 1 0 -3.1 0ZM73.49 317.41a1.55 1.55 0 1 0 3.1 0a1.55 1.55 0 1 0 -3.1 0ZM74.70 318.14a1.55 1.55 0 1 0 3.1 0a1.55 1.55 0 1 0 -3.1 0ZM75.91 319.01a1.55 1.55 0 1 0 3.1 0a1.55 1.55 0 1 0 -3.1 0ZM77.13 320.06a1.55 1.55 0 1 0 3.1 0a1.55 1.55 0 1 0 -3.1 0ZM78.34 321.31a1.55 1.55 0 1 0 3.1 0a1.55 1.55 0 1 0 -3.1 0ZM79.56 322.81a1.55 1.55 0 1 0 3.1 0a1.55 1.55 0 1 0 -3.1 0ZM80.77 324.62a1.55 1.55 0 1 0 3.1 0a1.55 1.55 0 1 0 -3.1 0ZM81.99 326.82a1.55 1.55 0 1 0 3.1 0a1.55 1.55 0 1 0 -3.1 0ZM83.20 329.53a1.55 1.55 0 1 0 3.1 0a1.55 1.55 0 1 0 -3.1 0ZM84.41 332.88a1.55 1.55 0 1 0 3.1 0a1.55 1.55 0 1 0 -3.1 0ZM85.63 337.11a1.55 1.55 0 1 0 3.1 0a1.55 1.55 0 1 0 -3.1 0ZM86.84 342.61a1.55 1.55 0 1 0 3.1 0a1.55 1.55 0 1 0 -3.1 0ZM88.06 350.13a1.55 1.55 0 1 0 3.1 0a1.55 1.55 0 1 0 -3.1 0ZM89.27 361.70a1.55 1.55 0 1 0 3.1 0a1.55 1.55 0 1 0 -3.1 0ZM90.48 386.80a1.55 1.55 0 1 0 3.1 0a1.55 1.55 0 1 0 -3.1 0ZM91.70 386.80a1.55 1.55 0 1 0 3.1 0a1.55 1.55 0 1 0 -3.1 0ZM92.91 386.80a1.55 1.55 0 1 0 3.1 0a1.55 1.55 0 1 0 -3.1 0ZM94.13 386.80a1.55 1.55 0 1 0 3.1 0a1.55 1.55 0 1 0 -3.1 0ZM95.34 386.80a1.55 1.55 0 1 0 3.1 0a1.55 1.55 0 1 0 -3.1 0ZM96.56 386.80a1.55 1.55 0 1 0 3.1 0a1.55 1.55 0 1 0 -3.1 0ZM97.77 386.80a1.55 1.55 0 1 0 3.1 0a1.55 1.55 0 1 0 -3.1 0ZM98.98 386.80a1.55 1.55 0 1 0 3.1 0a1.55 1.55 0 1 0 -3.1 0ZM100.20 386.80a1.55 1.55 0 1 0 3.1 0a1.55 1.55 0 1 0 -3.1 0ZM101.41 386.80a1.55 1.55 0 1 0 3.1 0a1.55 1.55 0 1 0 -3.1 0ZM102.63 386.80a1.55 1.55 0 1 0 3.1 0a1.55 1.55 0 1 0 -3.1 0ZM103.84 386.80a1.55 1.55 0 1 0 3.1 0a1.55 1.55 0 1 0 -3.1 0ZM105.05 386.80a1.55 1.55 0 1 0 3.1 0a1.55 1.55 0 1 0 -3.1 0ZM106.27 386.80a1.55 1.55 0 1 0 3.1 0a1.55 1.55 0 1 0 -3.1 0ZM107.48 386.80a1.55 1.55 0 1 0 3.1 0a1.55 1.55 0 1 0 -3.1 0ZM108.70 386.80a1.55 1.55 0 1 0 3.1 0a1.55 1.55 0 1 0 -3.1 0ZM109.91 386.80a1.55 1.55 0 1 0 3.1 0a1.55 1.55 0 1 0 -3.1 0ZM111.12 386.80a1.55 1.55 0 1 0 3.1 0a1.55 1.55 0 1 0 -3.1 0ZM112.34 386.80a1.55 1.55 0 1 0 3.1 0a1.55 1.55 0 1 0 -3.1 0ZM113.55 386.80a1.55 1.55 0 1 0 3.1 0a1.55 1.55 0 1 0 -3.1 0ZM114.77 386.80a1.55 1.55 0 1 0 3.1 0a1.55 1.55 0 1 0 -3.1 0ZM115.98 386.80a1.55 1.55 0 1 0 3.1 0a1.55 1.55 0 1 0 -3.1 0ZM117.20 386.80a1.55 1.55 0 1 0 3.1 0a1.55 1.55 0 1 0 -3.1 0ZM118.41 386.80a1.55 1.55 0 1 0 3.1 0a1.55 1.55 0 1 0 -3.1 0ZM119.62 386.80a1.55 1.55 0 1 0 3.1 0a1.55 1.55 0 1 0 -3.1 0ZM120.84 386.80a1.55 1.55 0 1 0 3.1 0a1.55 1.55 0 1 0 -3.1 0ZM122.05 386.80a1.55 1.55 0 1 0 3.1 0a1.55 1.55 0 1 0 -3.1 0ZM123.27 386.80a1.55 1.55 0 1 0 3.1 0a1.55 1.55 0 1 0 -3.1 0ZM124.48 386.80a1.55 1.55 0 1 0 3.1 0a1.55 1.55 0 1 0 -3.1 0ZM125.69 386.80a1.55 1.55 0 1 0 3.1 0a1.55 1.55 0 1 0 -3.1 0ZM126.91 386.80a1.55 1.55 0 1 0 3.1 0a1.55 1.55 0 1 0 -3.1 0ZM128.12 386.80a1.55 1.55 0 1 0 3.1 0a1.55 1.55 0 1 0 -3.1 0ZM129.34 386.80a1.55 1.55 0 1 0 3.1 0a1.55 1.55 0 1 0 -3.1 0ZM130.55 386.80a1.55 1.55 0 1 0 3.1 0a1.55 1.55 0 1 0 -3.1 0ZM131.77 386.80a1.55 1.55 0 1 0 3.1 0a1.55 1.55 0 1 0 -3.1 0ZM132.98 386.80a1.55 1.55 0 1 0 3.1 0a1.55 1.55 0 1 0 -3.1 0ZM134.19 386.80a1.55 1.55 0 1 0 3.1 0a1.55 1.55 0 1 0 -3.1 0ZM135.41 386.80a1.55 1.55 0 1 0 3.1 0a1.55 1.55 0 1 0 -3.1 0ZM136.62 386.80a1.55 1.55 0 1 0 3.1 0a1.55 1.55 0 1 0 -3.1 0ZM137.84 386.80a1.55 1.55 0 1 0 3.1 0a1.55 1.55 0 1 0 -3.1 0ZM139.05 386.80a1.55 1.55 0 1 0 3.1 0a1.55 1.55 0 1 0 -3.1 0Z" fill="#e65a20"/>
<path d="M20.40 310.85L23.10 315.66L17.70 315.66ZM21.61 310.86L24.31 315.67L18.91 315.67ZM22.83 310.88L25.53 315.69L20.13 315.69ZM24.04 310.89L26.74 315.70L21.34 315.70ZM25.26 310.91L27.96 315.72L22.56 315.72ZM26.47 310.93L29.17 315.74L23.77 315.74ZM27.68 310.95L30.38 315.76L24.98 315.76ZM28.90 310.98L31.60 315.79L26.20 315.79ZM30.11 311.01L32.81 315.82L27.41 315.82ZM31.33 311.05L34.03 315.86L28.63 315.86ZM32.54 311.10L35.24 315.91L29.84 315.91ZM33.76 311.15L36.46 315.96L31.06 315.96ZM34.97 311.22L37.67 316.03L32.27 316.03ZM36.18 311.29L38.88 316.10L33.48 316.10ZM37.40 311.38L40.10 316.19L34.70 316.19ZM38.61 311.49L41.31 316.30L35.91 316.30ZM39.83 311.61L42.53 316.42L37.13 316.42ZM41.04 311.76L43.74 316.57L38.34 316.57ZM42.25 311.93L44.95 316.74L39.55 316.74ZM43.47 312.13L46.17 316.94L40.77 316.94ZM44.68 312.37L47.38 317.18L41.98 317.18ZM45.90 312.65L48.60 317.46L43.20 317.46ZM47.11 312.99L49.81 317.80L44.41 317.80ZM48.33 313.38L51.03 318.19L45.63 318.19ZM49.54 313.85L52.24 318.66L46.84 318.66ZM50.75 314.41L53.45 319.22L48.05 319.22ZM51.97 315.07L54.67 319.88L49.27 319.88ZM53.18 315.85L55.88 320.66L50.48 320.66ZM54.40 316.78L57.10 321.59L51.70 321.59ZM55.61 317.90L58.31 322.71L52.91 322.71ZM56.82 319.24L59.52 324.05L54.12 324.05ZM58.04 320.85L60.74 325.66L55.34 325.66ZM59.25 322.80L61.95 327.61L56.55 327.61ZM60.47 325.17L63.17 329.98L57.77 329.98ZM61.68 328.10L64.38 332.91L58.98 332.91ZM62.89 331.75L65.59 336.56L60.19 336.56ZM64.11 336.40L66.81 341.21L61.41 341.21ZM65.32 342.54L68.02 347.35L62.62 347.35ZM66.54 351.19L69.24 356.00L63.84 356.00ZM67.75 366.04L70.45 370.85L65.05 370.85ZM68.97 384.20L71.67 389.01L66.27 389.01ZM70.18 384.20L72.88 389.01L67.48 389.01ZM71.39 384.20L74.09 389.01L68.69 389.01ZM72.61 384.20L75.31 389.01L69.91 389.01ZM73.82 384.20L76.52 389.01L71.12 389.01ZM75.04 384.20L77.74 389.01L72.34 389.01ZM76.25 384.20L78.95 389.01L73.55 389.01ZM77.46 384.20L80.16 389.01L74.76 389.01ZM78.68 384.20L81.38 389.01L75.98 389.01ZM79.89 384.20L82.59 389.01L77.19 389.01ZM81.11 384.20L83.81 389.01L78.41 389.01ZM82.32 384.20L85.02 389.01L79.62 389.01ZM83.54 384.20L86.24 389.01L80.84 389.01ZM84.75 384.20L87.45 389.01L82.05 389.01ZM85.96 384.20L88.66 389.01L83.26 389.01ZM87.18 384.20L89.88 389.01L84.48 389.01ZM88.39 384.20L91.09 389.01L85.69 389.01ZM89.61 384.20L92.31 389.01L86.91 389.01ZM90.82 384.20L93.52 389.01L88.12 389.01ZM92.03 384.20L94.73 389.01L89.33 389.01ZM93.25 384.20L95.95 389.01L90.55 389.01ZM94.46 384.20L97.16 389.01L91.76 389.01ZM95.68 384.20L98.38 389.01L92.98 389.01ZM96.89 384.20L99.59 389.01L94.19 389.01ZM98.11 384.20L100.81 389.01L95.41 389.01ZM99.32 384.20L102.02 389.01L96.62 389.01ZM100.53 384.20L103.23 389.01L97.83 389.01ZM101.75 384.20L104.45 389.01L99.05 389.01ZM102.96 384.20L105.66 389.01L100.26 389.01ZM104.18 384.20L106.88 389.01L101.48 389.01ZM105.39 384.20L108.09 389.01L102.69 389.01ZM106.60 384.20L109.30 389.01L103.90 389.01ZM107.82 384.20L110.52 389.01L105.12 389.01ZM109.03 384.20L111.73 389.01L106.33 389.01ZM110.25 384.20L112.95 389.01L107.55 389.01ZM111.46 384.20L114.16 389.01L108.76 389.01ZM112.67 384.20L115.37 389.01L109.97 389.01ZM113.89 384.20L116.59 389.01L111.19 389.01ZM115.10 384.20L117.80 389.01L112.40 389.01ZM116.32 384.20L119.02 389.01L113.62 389.01ZM117.53 384.20L120.23 389.01L114.83 389.01ZM118.75 384.20L121.45 389.01L116.05 389.01ZM119.96 384.20L122.66 389.01L117.26 389.01ZM121.17 384.20L123.87 389.01L118.47 389.01ZM122.39 384.20L125.09 389.01L119.69 389.01ZM123.60 384.20L126.30 389.01L120.90 389.01ZM124.82 384.20L127.52 389.01L122.12 389.01ZM126.03 384.20L128.73 389.01L123.33 389.01ZM127.24 384.20L129.94 389.01L124.54 389.01ZM128.46 384.20L131.16 389.01L125.76 389.01ZM129.67 384.20L132.37 389.01L126.97 389.01ZM130.89 384.20L133.59 389.01L128.19 389.01ZM132.10 384.20L134.80 389.01L129.40 389.01ZM133.32 384.20L136.02 389.01L130.62 389.01ZM134.53 384.20L137.23 389.01L131.83 389.01ZM135.74 384.20L138.44 389.01L133.04 389.01ZM136.96 384.20L139.66 389.01L134.26 389.01ZM138.17 384.20L140.87 389.01L135.47 389.01ZM139.39 384.20L142.09 389.01L136.69 389.01ZM140.60 384.20L143.30 389.01L137.90 389.01Z" fill="#725667"/>
</g>
<text x="18.10" y="389.50" font-size="6.7" text-anchor="end" font-weight="normal" fill="#111" >0</text>
<text x="18.10" y="377.10" font-size="6.7" text-anchor="end" font-weight="normal" fill="#111" >5</text>
<text x="18.10" y="364.70" font-size="6.7" text-anchor="end" font-weight="normal" fill="#111" >10</text>
<text x="18.10" y="352.30" font-size="6.7" text-anchor="end" font-weight="normal" fill="#111" >15</text>
<text x="18.10" y="339.90" font-size="6.7" text-anchor="end" font-weight="normal" fill="#111" >20</text>
<text x="18.10" y="327.50" font-size="6.7" text-anchor="end" font-weight="normal" fill="#111" >25</text>
<text x="18.10" y="315.10" font-size="6.7" text-anchor="end" font-weight="normal" fill="#111" >30</text>
<text x="18.10" y="302.70" font-size="6.7" text-anchor="end" font-weight="normal" fill="#111" >35</text>
<text x="18.80" y="397.90" font-size="6.7" text-anchor="middle" fill="#111">10</text>
<text x="22.50" y="394.20" font-size="4.8" text-anchor="start" fill="#111">0</text>
<text x="53.14" y="397.90" font-size="6.7" text-anchor="middle" fill="#111">10</text>
<text x="56.84" y="394.20" font-size="4.8" text-anchor="start" fill="#111">2</text>
<text x="87.49" y="397.90" font-size="6.7" text-anchor="middle" fill="#111">10</text>
<text x="91.19" y="394.20" font-size="4.8" text-anchor="start" fill="#111">4</text>
<text x="121.83" y="397.90" font-size="6.7" text-anchor="middle" fill="#111">10</text>
<text x="125.53" y="394.20" font-size="4.8" text-anchor="start" fill="#111">6</text>
<text x="79.70" y="406.40" font-size="7.55" text-anchor="middle" font-weight="bold" fill="#111" >Elastic Modulus [kPa]</text>
<text transform="translate(6.60 403.80) rotate(-90) scale(0.94 1)" font-size="8.1" text-anchor="start" font-weight="bold" fill="#111">Maximum Bubble Diameter<tspan dx="2.5" font-size="7.4">[</tspan><tspan dx="2.8" font-size="8.8" font-weight="normal" font-style="italic">μ</tspan><tspan font-size="8.8" font-weight="normal">m</tspan><tspan font-size="7.4">]</tspan></text>
<text x="133.60" y="381.20" font-size="7.2" text-anchor="middle" font-weight="bold" fill="#8c8c8c" >E</text>
<rect x="191.70" y="300.00" width="118.30" height="87.00" fill="none" stroke="#262626" stroke-width="0.7"/>
<path d="M191.70 387.00v-1.8M191.70 300.00v1.8M196.79 387.00v-1.2M196.79 300.00v1.2M199.76 387.00v-1.2M199.76 300.00v1.2M201.87 387.00v-1.2M201.87 300.00v1.2M203.51 387.00v-1.2M203.51 300.00v1.2M204.85 387.00v-1.2M204.85 300.00v1.2M205.98 387.00v-1.2M205.98 300.00v1.2M206.96 387.00v-1.2M206.96 300.00v1.2M207.83 387.00v-1.2M207.83 300.00v1.2M208.60 387.00v-1.8M208.60 300.00v1.8M213.69 387.00v-1.2M213.69 300.00v1.2M216.66 387.00v-1.2M216.66 300.00v1.2M218.77 387.00v-1.2M218.77 300.00v1.2M220.41 387.00v-1.2M220.41 300.00v1.2M221.75 387.00v-1.2M221.75 300.00v1.2M222.88 387.00v-1.2M222.88 300.00v1.2M223.86 387.00v-1.2M223.86 300.00v1.2M224.73 387.00v-1.2M224.73 300.00v1.2M225.50 387.00v-1.8M225.50 300.00v1.8M230.59 387.00v-1.2M230.59 300.00v1.2M233.56 387.00v-1.2M233.56 300.00v1.2M235.67 387.00v-1.2M235.67 300.00v1.2M237.31 387.00v-1.2M237.31 300.00v1.2M238.65 387.00v-1.2M238.65 300.00v1.2M239.78 387.00v-1.2M239.78 300.00v1.2M240.76 387.00v-1.2M240.76 300.00v1.2M241.63 387.00v-1.2M241.63 300.00v1.2M242.40 387.00v-1.8M242.40 300.00v1.8M247.49 387.00v-1.2M247.49 300.00v1.2M250.46 387.00v-1.2M250.46 300.00v1.2M252.57 387.00v-1.2M252.57 300.00v1.2M254.21 387.00v-1.2M254.21 300.00v1.2M255.55 387.00v-1.2M255.55 300.00v1.2M256.68 387.00v-1.2M256.68 300.00v1.2M257.66 387.00v-1.2M257.66 300.00v1.2M258.53 387.00v-1.2M258.53 300.00v1.2M259.30 387.00v-1.8M259.30 300.00v1.8M264.39 387.00v-1.2M264.39 300.00v1.2M267.36 387.00v-1.2M267.36 300.00v1.2M269.47 387.00v-1.2M269.47 300.00v1.2M271.11 387.00v-1.2M271.11 300.00v1.2M272.45 387.00v-1.2M272.45 300.00v1.2M273.58 387.00v-1.2M273.58 300.00v1.2M274.56 387.00v-1.2M274.56 300.00v1.2M275.43 387.00v-1.2M275.43 300.00v1.2M276.20 387.00v-1.8M276.20 300.00v1.8M281.29 387.00v-1.2M281.29 300.00v1.2M284.26 387.00v-1.2M284.26 300.00v1.2M286.37 387.00v-1.2M286.37 300.00v1.2M288.01 387.00v-1.2M288.01 300.00v1.2M289.35 387.00v-1.2M289.35 300.00v1.2M290.48 387.00v-1.2M290.48 300.00v1.2M291.46 387.00v-1.2M291.46 300.00v1.2M292.33 387.00v-1.2M292.33 300.00v1.2M293.10 387.00v-1.8M293.10 300.00v1.8M298.19 387.00v-1.2M298.19 300.00v1.2M301.16 387.00v-1.2M301.16 300.00v1.2M303.27 387.00v-1.2M303.27 300.00v1.2M304.91 387.00v-1.2M304.91 300.00v1.2M306.25 387.00v-1.2M306.25 300.00v1.2M307.38 387.00v-1.2M307.38 300.00v1.2M308.36 387.00v-1.2M308.36 300.00v1.2M309.23 387.00v-1.2M309.23 300.00v1.2M310.00 387.00v-1.8M310.00 300.00v1.8M191.70 387.00h1.8M310.00 387.00h-1.8M191.70 369.60h1.8M310.00 369.60h-1.8M191.70 352.20h1.8M310.00 352.20h-1.8M191.70 334.80h1.8M310.00 334.80h-1.8M191.70 317.40h1.8M310.00 317.40h-1.8M191.70 300.00h1.8M310.00 300.00h-1.8" stroke="#262626" stroke-width="0.6" fill="none"/>
<g clip-path="url(#clipF)">
<path d="M190.70 309.36a1.0 0.8 0 1 0 2.0 0a1.0 0.8 0 1 0 -2.0 0ZM191.89 309.41a1.0 0.8 0 1 0 2.0 0a1.0 0.8 0 1 0 -2.0 0ZM193.09 309.46a1.0 0.8 0 1 0 2.0 0a1.0 0.8 0 1 0 -2.0 0ZM194.28 309.51a1.0 0.8 0 1 0 2.0 0a1.0 0.8 0 1 0 -2.0 0ZM195.48 309.56a1.0 0.8 0 1 0 2.0 0a1.0 0.8 0 1 0 -2.0 0ZM196.67 309.62a1.0 0.8 0 1 0 2.0 0a1.0 0.8 0 1 0 -2.0 0ZM197.87 309.69a1.0 0.8 0 1 0 2.0 0a1.0 0.8 0 1 0 -2.0 0ZM199.06 309.76a1.0 0.8 0 1 0 2.0 0a1.0 0.8 0 1 0 -2.0 0ZM200.26 309.84a1.0 0.8 0 1 0 2.0 0a1.0 0.8 0 1 0 -2.0 0ZM201.45 309.93a1.0 0.8 0 1 0 2.0 0a1.0 0.8 0 1 0 -2.0 0ZM202.65 310.02a1.0 0.8 0 1 0 2.0 0a1.0 0.8 0 1 0 -2.0 0ZM203.84 310.13a1.0 0.8 0 1 0 2.0 0a1.0 0.8 0 1 0 -2.0 0ZM205.04 310.26a1.0 0.8 0 1 0 2.0 0a1.0 0.8 0 1 0 -2.0 0ZM206.23 310.40a1.0 0.8 0 1 0 2.0 0a1.0 0.8 0 1 0 -2.0 0ZM207.43 310.55a1.0 0.8 0 1 0 2.0 0a1.0 0.8 0 1 0 -2.0 0ZM208.62 310.74a1.0 0.8 0 1 0 2.0 0a1.0 0.8 0 1 0 -2.0 0ZM209.82 310.95a1.0 0.8 0 1 0 2.0 0a1.0 0.8 0 1 0 -2.0 0ZM211.01 311.19a1.0 0.8 0 1 0 2.0 0a1.0 0.8 0 1 0 -2.0 0ZM212.21 311.48a1.0 0.8 0 1 0 2.0 0a1.0 0.8 0 1 0 -2.0 0ZM213.40 311.81a1.0 0.8 0 1 0 2.0 0a1.0 0.8 0 1 0 -2.0 0ZM214.60 312.21a1.0 0.8 0 1 0 2.0 0a1.0 0.8 0 1 0 -2.0 0ZM215.79 312.69a1.0 0.8 0 1 0 2.0 0a1.0 0.8 0 1 0 -2.0 0ZM216.99 313.26a1.0 0.8 0 1 0 2.0 0a1.0 0.8 0 1 0 -2.0 0ZM218.18 313.94a1.0 0.8 0 1 0 2.0 0a1.0 0.8 0 1 0 -2.0 0ZM219.38 314.75a1.0 0.8 0 1 0 2.0 0a1.0 0.8 0 1 0 -2.0 0ZM220.57 315.70a1.0 0.8 0 1 0 2.0 0a1.0 0.8 0 1 0 -2.0 0ZM221.77 316.80a1.0 0.8 0 1 0 2.0 0a1.0 0.8 0 1 0 -2.0 0ZM222.96 318.04a1.0 0.8 0 1 0 2.0 0a1.0 0.8 0 1 0 -2.0 0ZM224.16 319.41a1.0 0.8 0 1 0 2.0 0a1.0 0.8 0 1 0 -2.0 0ZM225.35 320.91a1.0 0.8 0 1 0 2.0 0a1.0 0.8 0 1 0 -2.0 0ZM226.55 322.52a1.0 0.8 0 1 0 2.0 0a1.0 0.8 0 1 0 -2.0 0ZM227.74 324.22a1.0 0.8 0 1 0 2.0 0a1.0 0.8 0 1 0 -2.0 0ZM228.94 325.99a1.0 0.8 0 1 0 2.0 0a1.0 0.8 0 1 0 -2.0 0ZM230.13 327.82a1.0 0.8 0 1 0 2.0 0a1.0 0.8 0 1 0 -2.0 0ZM231.33 329.69a1.0 0.8 0 1 0 2.0 0a1.0 0.8 0 1 0 -2.0 0ZM232.52 331.61a1.0 0.8 0 1 0 2.0 0a1.0 0.8 0 1 0 -2.0 0ZM233.72 333.56a1.0 0.8 0 1 0 2.0 0a1.0 0.8 0 1 0 -2.0 0ZM234.91 335.54a1.0 0.8 0 1 0 2.0 0a1.0 0.8 0 1 0 -2.0 0ZM236.11 337.54a1.0 0.8 0 1 0 2.0 0a1.0 0.8 0 1 0 -2.0 0ZM237.30 339.56a1.0 0.8 0 1 0 2.0 0a1.0 0.8 0 1 0 -2.0 0ZM238.50 341.59a1.0 0.8 0 1 0 2.0 0a1.0 0.8 0 1 0 -2.0 0ZM239.69 343.64a1.0 0.8 0 1 0 2.0 0a1.0 0.8 0 1 0 -2.0 0ZM240.89 345.69a1.0 0.8 0 1 0 2.0 0a1.0 0.8 0 1 0 -2.0 0ZM242.08 347.76a1.0 0.8 0 1 0 2.0 0a1.0 0.8 0 1 0 -2.0 0ZM243.28 349.84a1.0 0.8 0 1 0 2.0 0a1.0 0.8 0 1 0 -2.0 0ZM244.47 351.92a1.0 0.8 0 1 0 2.0 0a1.0 0.8 0 1 0 -2.0 0ZM245.67 354.01a1.0 0.8 0 1 0 2.0 0a1.0 0.8 0 1 0 -2.0 0ZM246.86 356.10a1.0 0.8 0 1 0 2.0 0a1.0 0.8 0 1 0 -2.0 0ZM248.06 358.20a1.0 0.8 0 1 0 2.0 0a1.0 0.8 0 1 0 -2.0 0ZM249.25 360.31a1.0 0.8 0 1 0 2.0 0a1.0 0.8 0 1 0 -2.0 0ZM250.45 362.41a1.0 0.8 0 1 0 2.0 0a1.0 0.8 0 1 0 -2.0 0ZM251.64 364.52a1.0 0.8 0 1 0 2.0 0a1.0 0.8 0 1 0 -2.0 0ZM252.84 366.64a1.0 0.8 0 1 0 2.0 0a1.0 0.8 0 1 0 -2.0 0ZM254.03 368.75a1.0 0.8 0 1 0 2.0 0a1.0 0.8 0 1 0 -2.0 0ZM255.23 370.87a1.0 0.8 0 1 0 2.0 0a1.0 0.8 0 1 0 -2.0 0ZM256.42 372.99a1.0 0.8 0 1 0 2.0 0a1.0 0.8 0 1 0 -2.0 0ZM257.62 375.12a1.0 0.8 0 1 0 2.0 0a1.0 0.8 0 1 0 -2.0 0ZM258.81 377.24a1.0 0.8 0 1 0 2.0 0a1.0 0.8 0 1 0 -2.0 0ZM260.01 379.37a1.0 0.8 0 1 0 2.0 0a1.0 0.8 0 1 0 -2.0 0ZM261.20 381.49a1.0 0.8 0 1 0 2.0 0a1.0 0.8 0 1 0 -2.0 0ZM262.40 383.62a1.0 0.8 0 1 0 2.0 0a1.0 0.8 0 1 0 -2.0 0ZM263.59 387.00a1.0 0.8 0 1 0 2.0 0a1.0 0.8 0 1 0 -2.0 0ZM264.79 387.00a1.0 0.8 0 1 0 2.0 0a1.0 0.8 0 1 0 -2.0 0ZM265.98 387.00a1.0 0.8 0 1 0 2.0 0a1.0 0.8 0 1 0 -2.0 0ZM267.18 387.00a1.0 0.8 0 1 0 2.0 0a1.0 0.8 0 1 0 -2.0 0ZM268.37 387.00a1.0 0.8 0 1 0 2.0 0a1.0 0.8 0 1 0 -2.0 0ZM269.57 387.00a1.0 0.8 0 1 0 2.0 0a1.0 0.8 0 1 0 -2.0 0ZM270.76 387.00a1.0 0.8 0 1 0 2.0 0a1.0 0.8 0 1 0 -2.0 0ZM271.96 387.00a1.0 0.8 0 1 0 2.0 0a1.0 0.8 0 1 0 -2.0 0ZM273.15 387.00a1.0 0.8 0 1 0 2.0 0a1.0 0.8 0 1 0 -2.0 0ZM274.35 387.00a1.0 0.8 0 1 0 2.0 0a1.0 0.8 0 1 0 -2.0 0ZM275.54 387.00a1.0 0.8 0 1 0 2.0 0a1.0 0.8 0 1 0 -2.0 0ZM276.74 387.00a1.0 0.8 0 1 0 2.0 0a1.0 0.8 0 1 0 -2.0 0ZM277.93 387.00a1.0 0.8 0 1 0 2.0 0a1.0 0.8 0 1 0 -2.0 0ZM279.13 387.00a1.0 0.8 0 1 0 2.0 0a1.0 0.8 0 1 0 -2.0 0ZM280.32 387.00a1.0 0.8 0 1 0 2.0 0a1.0 0.8 0 1 0 -2.0 0ZM281.52 387.00a1.0 0.8 0 1 0 2.0 0a1.0 0.8 0 1 0 -2.0 0ZM282.71 387.00a1.0 0.8 0 1 0 2.0 0a1.0 0.8 0 1 0 -2.0 0ZM283.91 387.00a1.0 0.8 0 1 0 2.0 0a1.0 0.8 0 1 0 -2.0 0ZM285.10 387.00a1.0 0.8 0 1 0 2.0 0a1.0 0.8 0 1 0 -2.0 0ZM286.30 387.00a1.0 0.8 0 1 0 2.0 0a1.0 0.8 0 1 0 -2.0 0ZM287.49 387.00a1.0 0.8 0 1 0 2.0 0a1.0 0.8 0 1 0 -2.0 0ZM288.69 387.00a1.0 0.8 0 1 0 2.0 0a1.0 0.8 0 1 0 -2.0 0ZM289.88 387.00a1.0 0.8 0 1 0 2.0 0a1.0 0.8 0 1 0 -2.0 0ZM291.08 387.00a1.0 0.8 0 1 0 2.0 0a1.0 0.8 0 1 0 -2.0 0ZM292.27 387.00a1.0 0.8 0 1 0 2.0 0a1.0 0.8 0 1 0 -2.0 0ZM293.47 387.00a1.0 0.8 0 1 0 2.0 0a1.0 0.8 0 1 0 -2.0 0ZM294.66 387.00a1.0 0.8 0 1 0 2.0 0a1.0 0.8 0 1 0 -2.0 0ZM295.86 387.00a1.0 0.8 0 1 0 2.0 0a1.0 0.8 0 1 0 -2.0 0ZM297.05 387.00a1.0 0.8 0 1 0 2.0 0a1.0 0.8 0 1 0 -2.0 0ZM298.25 387.00a1.0 0.8 0 1 0 2.0 0a1.0 0.8 0 1 0 -2.0 0ZM299.44 387.00a1.0 0.8 0 1 0 2.0 0a1.0 0.8 0 1 0 -2.0 0ZM300.64 387.00a1.0 0.8 0 1 0 2.0 0a1.0 0.8 0 1 0 -2.0 0ZM301.83 387.00a1.0 0.8 0 1 0 2.0 0a1.0 0.8 0 1 0 -2.0 0ZM303.03 387.00a1.0 0.8 0 1 0 2.0 0a1.0 0.8 0 1 0 -2.0 0ZM304.22 387.00a1.0 0.8 0 1 0 2.0 0a1.0 0.8 0 1 0 -2.0 0ZM305.42 387.00a1.0 0.8 0 1 0 2.0 0a1.0 0.8 0 1 0 -2.0 0ZM306.61 387.00a1.0 0.8 0 1 0 2.0 0a1.0 0.8 0 1 0 -2.0 0ZM307.81 387.00a1.0 0.8 0 1 0 2.0 0a1.0 0.8 0 1 0 -2.0 0ZM309.00 387.00a1.0 0.8 0 1 0 2.0 0a1.0 0.8 0 1 0 -2.0 0Z" fill="#2f78d0"/>
<path d="M190.50 308.04h2.40v2.40h-2.40ZM191.69 308.08h2.40v2.40h-2.40ZM192.89 308.12h2.40v2.40h-2.40ZM194.08 308.15h2.40v2.40h-2.40ZM195.28 308.20h2.40v2.40h-2.40ZM196.47 308.24h2.40v2.40h-2.40ZM197.67 308.29h2.40v2.40h-2.40ZM198.86 308.35h2.40v2.40h-2.40ZM200.06 308.40h2.40v2.40h-2.40ZM201.25 308.47h2.40v2.40h-2.40ZM202.45 308.54h2.40v2.40h-2.40ZM203.64 308.62h2.40v2.40h-2.40ZM204.84 308.70h2.40v2.40h-2.40ZM206.03 308.80h2.40v2.40h-2.40ZM207.23 308.90h2.40v2.40h-2.40ZM208.42 309.02h2.40v2.40h-2.40ZM209.62 309.16h2.40v2.40h-2.40ZM210.81 309.31h2.40v2.40h-2.40ZM212.01 309.49h2.40v2.40h-2.40ZM213.20 309.69h2.40v2.40h-2.40ZM214.40 309.92h2.40v2.40h-2.40ZM215.59 310.20h2.40v2.40h-2.40ZM216.79 310.52h2.40v2.40h-2.40ZM217.98 310.91h2.40v2.40h-2.40ZM219.18 311.36h2.40v2.40h-2.40ZM220.37 311.91h2.40v2.40h-2.40ZM221.57 312.56h2.40v2.40h-2.40ZM222.76 313.34h2.40v2.40h-2.40ZM223.96 314.25h2.40v2.40h-2.40ZM225.15 315.30h2.40v2.40h-2.40ZM226.35 316.51h2.40v2.40h-2.40ZM227.54 317.85h2.40v2.40h-2.40ZM228.74 319.32h2.40v2.40h-2.40ZM229.93 320.91h2.40v2.40h-2.40ZM231.13 322.58h2.40v2.40h-2.40ZM232.32 324.33h2.40v2.40h-2.40ZM233.52 326.15h2.40v2.40h-2.40ZM234.71 328.01h2.40v2.40h-2.40ZM235.91 329.92h2.40v2.40h-2.40ZM237.10 331.87h2.40v2.40h-2.40ZM238.30 333.84h2.40v2.40h-2.40ZM239.49 335.83h2.40v2.40h-2.40ZM240.69 337.84h2.40v2.40h-2.40ZM241.88 339.87h2.40v2.40h-2.40ZM243.08 341.92h2.40v2.40h-2.40ZM244.27 343.97h2.40v2.40h-2.40ZM245.47 346.04h2.40v2.40h-2.40ZM246.66 348.11h2.40v2.40h-2.40ZM247.86 350.19h2.40v2.40h-2.40ZM249.05 352.28h2.40v2.40h-2.40ZM250.25 354.37h2.40v2.40h-2.40ZM251.44 356.47h2.40v2.40h-2.40ZM252.64 358.57h2.40v2.40h-2.40ZM253.83 360.68h2.40v2.40h-2.40ZM255.03 362.79h2.40v2.40h-2.40ZM256.22 364.90h2.40v2.40h-2.40ZM257.42 367.02h2.40v2.40h-2.40ZM258.61 369.14h2.40v2.40h-2.40ZM259.81 371.26h2.40v2.40h-2.40ZM261.00 373.38h2.40v2.40h-2.40ZM262.20 375.50h2.40v2.40h-2.40ZM263.39 377.63h2.40v2.40h-2.40ZM264.59 379.76h2.40v2.40h-2.40ZM265.78 385.80h2.40v2.40h-2.40ZM266.98 385.80h2.40v2.40h-2.40ZM268.17 385.80h2.40v2.40h-2.40ZM269.37 385.80h2.40v2.40h-2.40ZM270.56 385.80h2.40v2.40h-2.40ZM271.76 385.80h2.40v2.40h-2.40ZM272.95 385.80h2.40v2.40h-2.40ZM274.15 385.80h2.40v2.40h-2.40ZM275.34 385.80h2.40v2.40h-2.40ZM276.54 385.80h2.40v2.40h-2.40ZM277.73 385.80h2.40v2.40h-2.40ZM278.93 385.80h2.40v2.40h-2.40ZM280.12 385.80h2.40v2.40h-2.40ZM281.32 385.80h2.40v2.40h-2.40ZM282.51 385.80h2.40v2.40h-2.40ZM283.71 385.80h2.40v2.40h-2.40ZM284.90 385.80h2.40v2.40h-2.40ZM286.10 385.80h2.40v2.40h-2.40ZM287.29 385.80h2.40v2.40h-2.40ZM288.49 385.80h2.40v2.40h-2.40ZM289.68 385.80h2.40v2.40h-2.40ZM290.88 385.80h2.40v2.40h-2.40ZM292.07 385.80h2.40v2.40h-2.40ZM293.27 385.80h2.40v2.40h-2.40ZM294.46 385.80h2.40v2.40h-2.40ZM295.66 385.80h2.40v2.40h-2.40ZM296.85 385.80h2.40v2.40h-2.40ZM298.05 385.80h2.40v2.40h-2.40ZM299.24 385.80h2.40v2.40h-2.40ZM300.44 385.80h2.40v2.40h-2.40ZM301.63 385.80h2.40v2.40h-2.40ZM302.83 385.80h2.40v2.40h-2.40ZM304.02 385.80h2.40v2.40h-2.40ZM305.22 385.80h2.40v2.40h-2.40ZM306.41 385.80h2.40v2.40h-2.40ZM307.61 385.80h2.40v2.40h-2.40ZM308.80 385.80h2.40v2.40h-2.40Z" fill="none" stroke="#7438a8" stroke-width="0.78"/>
<path d="M190.30 309.44a1.4 1.4 0 1 0 2.8 0a1.4 1.4 0 1 0 -2.8 0ZM191.49 309.49a1.4 1.4 0 1 0 2.8 0a1.4 1.4 0 1 0 -2.8 0ZM192.69 309.54a1.4 1.4 0 1 0 2.8 0a1.4 1.4 0 1 0 -2.8 0ZM193.88 309.60a1.4 1.4 0 1 0 2.8 0a1.4 1.4 0 1 0 -2.8 0ZM195.08 309.67a1.4 1.4 0 1 0 2.8 0a1.4 1.4 0 1 0 -2.8 0ZM196.27 309.74a1.4 1.4 0 1 0 2.8 0a1.4 1.4 0 1 0 -2.8 0ZM197.47 309.81a1.4 1.4 0 1 0 2.8 0a1.4 1.4 0 1 0 -2.8 0ZM198.66 309.90a1.4 1.4 0 1 0 2.8 0a1.4 1.4 0 1 0 -2.8 0ZM199.86 309.99a1.4 1.4 0 1 0 2.8 0a1.4 1.4 0 1 0 -2.8 0ZM201.05 310.10a1.4 1.4 0 1 0 2.8 0a1.4 1.4 0 1 0 -2.8 0ZM202.25 310.22a1.4 1.4 0 1 0 2.8 0a1.4 1.4 0 1 0 -2.8 0ZM203.44 310.35a1.4 1.4 0 1 0 2.8 0a1.4 1.4 0 1 0 -2.8 0ZM204.64 310.50a1.4 1.4 0 1 0 2.8 0a1.4 1.4 0 1 0 -2.8 0ZM205.83 310.68a1.4 1.4 0 1 0 2.8 0a1.4 1.4 0 1 0 -2.8 0ZM207.03 310.88a1.4 1.4 0 1 0 2.8 0a1.4 1.4 0 1 0 -2.8 0ZM208.22 311.11a1.4 1.4 0 1 0 2.8 0a1.4 1.4 0 1 0 -2.8 0ZM209.42 311.38a1.4 1.4 0 1 0 2.8 0a1.4 1.4 0 1 0 -2.8 0ZM210.61 311.71a1.4 1.4 0 1 0 2.8 0a1.4 1.4 0 1 0 -2.8 0ZM211.81 312.09a1.4 1.4 0 1 0 2.8 0a1.4 1.4 0 1 0 -2.8 0ZM213.00 312.54a1.4 1.4 0 1 0 2.8 0a1.4 1.4 0 1 0 -2.8 0ZM214.20 313.08a1.4 1.4 0 1 0 2.8 0a1.4 1.4 0 1 0 -2.8 0ZM215.39 313.73a1.4 1.4 0 1 0 2.8 0a1.4 1.4 0 1 0 -2.8 0ZM216.59 314.49a1.4 1.4 0 1 0 2.8 0a1.4 1.4 0 1 0 -2.8 0ZM217.78 315.40a1.4 1.4 0 1 0 2.8 0a1.4 1.4 0 1 0 -2.8 0ZM218.98 316.45a1.4 1.4 0 1 0 2.8 0a1.4 1.4 0 1 0 -2.8 0ZM220.17 317.64a1.4 1.4 0 1 0 2.8 0a1.4 1.4 0 1 0 -2.8 0ZM221.37 318.98a1.4 1.4 0 1 0 2.8 0a1.4 1.4 0 1 0 -2.8 0ZM222.56 320.45a1.4 1.4 0 1 0 2.8 0a1.4 1.4 0 1 0 -2.8 0ZM223.76 322.02a1.4 1.4 0 1 0 2.8 0a1.4 1.4 0 1 0 -2.8 0ZM224.95 323.69a1.4 1.4 0 1 0 2.8 0a1.4 1.4 0 1 0 -2.8 0ZM226.15 325.44a1.4 1.4 0 1 0 2.8 0a1.4 1.4 0 1 0 -2.8 0ZM227.34 327.26a1.4 1.4 0 1 0 2.8 0a1.4 1.4 0 1 0 -2.8 0ZM228.54 329.12a1.4 1.4 0 1 0 2.8 0a1.4 1.4 0 1 0 -2.8 0ZM229.73 331.03a1.4 1.4 0 1 0 2.8 0a1.4 1.4 0 1 0 -2.8 0ZM230.93 332.97a1.4 1.4 0 1 0 2.8 0a1.4 1.4 0 1 0 -2.8 0ZM232.12 334.94a1.4 1.4 0 1 0 2.8 0a1.4 1.4 0 1 0 -2.8 0ZM233.32 336.93a1.4 1.4 0 1 0 2.8 0a1.4 1.4 0 1 0 -2.8 0ZM234.51 338.94a1.4 1.4 0 1 0 2.8 0a1.4 1.4 0 1 0 -2.8 0ZM235.71 340.97a1.4 1.4 0 1 0 2.8 0a1.4 1.4 0 1 0 -2.8 0ZM236.90 343.02a1.4 1.4 0 1 0 2.8 0a1.4 1.4 0 1 0 -2.8 0ZM238.10 345.07a1.4 1.4 0 1 0 2.8 0a1.4 1.4 0 1 0 -2.8 0ZM239.29 347.13a1.4 1.4 0 1 0 2.8 0a1.4 1.4 0 1 0 -2.8 0ZM240.49 349.21a1.4 1.4 0 1 0 2.8 0a1.4 1.4 0 1 0 -2.8 0ZM241.68 351.29a1.4 1.4 0 1 0 2.8 0a1.4 1.4 0 1 0 -2.8 0ZM242.88 353.38a1.4 1.4 0 1 0 2.8 0a1.4 1.4 0 1 0 -2.8 0ZM244.07 355.47a1.4 1.4 0 1 0 2.8 0a1.4 1.4 0 1 0 -2.8 0ZM245.27 357.57a1.4 1.4 0 1 0 2.8 0a1.4 1.4 0 1 0 -2.8 0ZM246.46 359.67a1.4 1.4 0 1 0 2.8 0a1.4 1.4 0 1 0 -2.8 0ZM247.66 361.77a1.4 1.4 0 1 0 2.8 0a1.4 1.4 0 1 0 -2.8 0ZM248.85 363.88a1.4 1.4 0 1 0 2.8 0a1.4 1.4 0 1 0 -2.8 0ZM250.05 366.00a1.4 1.4 0 1 0 2.8 0a1.4 1.4 0 1 0 -2.8 0ZM251.24 368.11a1.4 1.4 0 1 0 2.8 0a1.4 1.4 0 1 0 -2.8 0ZM252.44 370.23a1.4 1.4 0 1 0 2.8 0a1.4 1.4 0 1 0 -2.8 0ZM253.63 372.35a1.4 1.4 0 1 0 2.8 0a1.4 1.4 0 1 0 -2.8 0ZM254.83 374.47a1.4 1.4 0 1 0 2.8 0a1.4 1.4 0 1 0 -2.8 0ZM256.02 376.60a1.4 1.4 0 1 0 2.8 0a1.4 1.4 0 1 0 -2.8 0ZM257.22 378.72a1.4 1.4 0 1 0 2.8 0a1.4 1.4 0 1 0 -2.8 0ZM258.41 380.85a1.4 1.4 0 1 0 2.8 0a1.4 1.4 0 1 0 -2.8 0ZM259.61 382.98a1.4 1.4 0 1 0 2.8 0a1.4 1.4 0 1 0 -2.8 0ZM260.80 387.00a1.4 1.4 0 1 0 2.8 0a1.4 1.4 0 1 0 -2.8 0ZM262.00 387.00a1.4 1.4 0 1 0 2.8 0a1.4 1.4 0 1 0 -2.8 0ZM263.19 387.00a1.4 1.4 0 1 0 2.8 0a1.4 1.4 0 1 0 -2.8 0ZM264.39 387.00a1.4 1.4 0 1 0 2.8 0a1.4 1.4 0 1 0 -2.8 0ZM265.58 387.00a1.4 1.4 0 1 0 2.8 0a1.4 1.4 0 1 0 -2.8 0ZM266.78 387.00a1.4 1.4 0 1 0 2.8 0a1.4 1.4 0 1 0 -2.8 0ZM267.97 387.00a1.4 1.4 0 1 0 2.8 0a1.4 1.4 0 1 0 -2.8 0ZM269.17 387.00a1.4 1.4 0 1 0 2.8 0a1.4 1.4 0 1 0 -2.8 0ZM270.36 387.00a1.4 1.4 0 1 0 2.8 0a1.4 1.4 0 1 0 -2.8 0ZM271.56 387.00a1.4 1.4 0 1 0 2.8 0a1.4 1.4 0 1 0 -2.8 0ZM272.75 387.00a1.4 1.4 0 1 0 2.8 0a1.4 1.4 0 1 0 -2.8 0ZM273.95 387.00a1.4 1.4 0 1 0 2.8 0a1.4 1.4 0 1 0 -2.8 0ZM275.14 387.00a1.4 1.4 0 1 0 2.8 0a1.4 1.4 0 1 0 -2.8 0ZM276.34 387.00a1.4 1.4 0 1 0 2.8 0a1.4 1.4 0 1 0 -2.8 0ZM277.53 387.00a1.4 1.4 0 1 0 2.8 0a1.4 1.4 0 1 0 -2.8 0ZM278.73 387.00a1.4 1.4 0 1 0 2.8 0a1.4 1.4 0 1 0 -2.8 0ZM279.92 387.00a1.4 1.4 0 1 0 2.8 0a1.4 1.4 0 1 0 -2.8 0ZM281.12 387.00a1.4 1.4 0 1 0 2.8 0a1.4 1.4 0 1 0 -2.8 0ZM282.31 387.00a1.4 1.4 0 1 0 2.8 0a1.4 1.4 0 1 0 -2.8 0ZM283.51 387.00a1.4 1.4 0 1 0 2.8 0a1.4 1.4 0 1 0 -2.8 0ZM284.70 387.00a1.4 1.4 0 1 0 2.8 0a1.4 1.4 0 1 0 -2.8 0ZM285.90 387.00a1.4 1.4 0 1 0 2.8 0a1.4 1.4 0 1 0 -2.8 0ZM287.09 387.00a1.4 1.4 0 1 0 2.8 0a1.4 1.4 0 1 0 -2.8 0ZM288.29 387.00a1.4 1.4 0 1 0 2.8 0a1.4 1.4 0 1 0 -2.8 0ZM289.48 387.00a1.4 1.4 0 1 0 2.8 0a1.4 1.4 0 1 0 -2.8 0ZM290.68 387.00a1.4 1.4 0 1 0 2.8 0a1.4 1.4 0 1 0 -2.8 0ZM291.87 387.00a1.4 1.4 0 1 0 2.8 0a1.4 1.4 0 1 0 -2.8 0ZM293.07 387.00a1.4 1.4 0 1 0 2.8 0a1.4 1.4 0 1 0 -2.8 0ZM294.26 387.00a1.4 1.4 0 1 0 2.8 0a1.4 1.4 0 1 0 -2.8 0ZM295.46 387.00a1.4 1.4 0 1 0 2.8 0a1.4 1.4 0 1 0 -2.8 0ZM296.65 387.00a1.4 1.4 0 1 0 2.8 0a1.4 1.4 0 1 0 -2.8 0ZM297.85 387.00a1.4 1.4 0 1 0 2.8 0a1.4 1.4 0 1 0 -2.8 0ZM299.04 387.00a1.4 1.4 0 1 0 2.8 0a1.4 1.4 0 1 0 -2.8 0ZM300.24 387.00a1.4 1.4 0 1 0 2.8 0a1.4 1.4 0 1 0 -2.8 0ZM301.43 387.00a1.4 1.4 0 1 0 2.8 0a1.4 1.4 0 1 0 -2.8 0ZM302.63 387.00a1.4 1.4 0 1 0 2.8 0a1.4 1.4 0 1 0 -2.8 0ZM303.82 387.00a1.4 1.4 0 1 0 2.8 0a1.4 1.4 0 1 0 -2.8 0ZM305.02 387.00a1.4 1.4 0 1 0 2.8 0a1.4 1.4 0 1 0 -2.8 0ZM306.21 387.00a1.4 1.4 0 1 0 2.8 0a1.4 1.4 0 1 0 -2.8 0ZM307.41 387.00a1.4 1.4 0 1 0 2.8 0a1.4 1.4 0 1 0 -2.8 0ZM308.60 387.00a1.4 1.4 0 1 0 2.8 0a1.4 1.4 0 1 0 -2.8 0Z" fill="#e65a20"/>
<path d="M191.70 309.85L193.75 312.25L191.70 314.65L189.65 312.25ZM192.89 310.34L194.94 312.74L192.89 315.14L190.84 312.74ZM194.09 310.91L196.14 313.31L194.09 315.71L192.04 313.31ZM195.28 311.61L197.33 314.01L195.28 316.41L193.23 314.01ZM196.48 312.43L198.53 314.83L196.48 317.23L194.43 314.83ZM197.67 313.39L199.72 315.79L197.67 318.19L195.62 315.79ZM198.87 314.49L200.92 316.89L198.87 319.29L196.82 316.89ZM200.06 315.74L202.11 318.14L200.06 320.54L198.01 318.14ZM201.26 317.13L203.31 319.53L201.26 321.93L199.21 319.53ZM202.45 318.64L204.50 321.04L202.45 323.44L200.40 321.04ZM203.65 320.26L205.70 322.66L203.65 325.06L201.60 322.66ZM204.84 321.96L206.89 324.36L204.84 326.76L202.79 324.36ZM206.04 323.74L208.09 326.14L206.04 328.54L203.99 326.14ZM207.23 325.57L209.28 327.97L207.23 330.37L205.18 327.97ZM208.43 327.45L210.48 329.85L208.43 332.25L206.38 329.85ZM209.62 329.37L211.67 331.77L209.62 334.17L207.57 331.77ZM210.82 331.32L212.87 333.72L210.82 336.12L208.77 333.72ZM212.01 333.30L214.06 335.70L212.01 338.10L209.96 335.70ZM213.21 335.31L215.26 337.71L213.21 340.11L211.16 337.71ZM214.40 337.32L216.45 339.72L214.40 342.12L212.35 339.72ZM215.60 339.36L217.65 341.76L215.60 344.16L213.55 341.76ZM216.79 341.41L218.84 343.81L216.79 346.21L214.74 343.81ZM217.99 343.47L220.04 345.87L217.99 348.27L215.94 345.87ZM219.18 345.53L221.23 347.93L219.18 350.33L217.13 347.93ZM220.38 347.61L222.43 350.01L220.38 352.41L218.33 350.01ZM221.57 349.69L223.62 352.09L221.57 354.49L219.52 352.09ZM222.77 351.78L224.82 354.18L222.77 356.58L220.72 354.18ZM223.96 353.88L226.01 356.28L223.96 358.68L221.91 356.28ZM225.16 355.98L227.21 358.38L225.16 360.78L223.11 358.38ZM226.35 358.08L228.40 360.48L226.35 362.88L224.30 360.48ZM227.55 360.19L229.60 362.59L227.55 364.99L225.50 362.59ZM228.74 362.30L230.79 364.70L228.74 367.10L226.69 364.70ZM229.94 364.41L231.99 366.81L229.94 369.21L227.89 366.81ZM231.13 366.53L233.18 368.93L231.13 371.33L229.08 368.93ZM232.33 368.65L234.38 371.05L232.33 373.45L230.28 371.05ZM233.52 370.77L235.57 373.17L233.52 375.57L231.47 373.17ZM234.72 372.89L236.77 375.29L234.72 377.69L232.67 375.29ZM235.91 375.02L237.96 377.42L235.91 379.82L233.86 377.42ZM237.11 377.14L239.16 379.54L237.11 381.94L235.06 379.54ZM238.30 379.27L240.35 381.67L238.30 384.07L236.25 381.67ZM239.50 384.60L241.55 387.00L239.50 389.40L237.45 387.00ZM240.69 384.60L242.74 387.00L240.69 389.40L238.64 387.00ZM241.89 384.60L243.94 387.00L241.89 389.40L239.84 387.00ZM243.08 384.60L245.13 387.00L243.08 389.40L241.03 387.00ZM244.28 384.60L246.33 387.00L244.28 389.40L242.23 387.00ZM245.47 384.60L247.52 387.00L245.47 389.40L243.42 387.00ZM246.67 384.60L248.72 387.00L246.67 389.40L244.62 387.00ZM247.86 384.60L249.91 387.00L247.86 389.40L245.81 387.00ZM249.06 384.60L251.11 387.00L249.06 389.40L247.01 387.00ZM250.25 384.60L252.30 387.00L250.25 389.40L248.20 387.00ZM251.45 384.60L253.50 387.00L251.45 389.40L249.40 387.00ZM252.64 384.60L254.69 387.00L252.64 389.40L250.59 387.00ZM253.84 384.60L255.89 387.00L253.84 389.40L251.79 387.00ZM255.03 384.60L257.08 387.00L255.03 389.40L252.98 387.00ZM256.23 384.60L258.28 387.00L256.23 389.40L254.18 387.00ZM257.42 384.60L259.47 387.00L257.42 389.40L255.37 387.00ZM258.62 384.60L260.67 387.00L258.62 389.40L256.57 387.00ZM259.81 384.60L261.86 387.00L259.81 389.40L257.76 387.00ZM261.01 384.60L263.06 387.00L261.01 389.40L258.96 387.00ZM262.20 384.60L264.25 387.00L262.20 389.40L260.15 387.00ZM263.40 384.60L265.45 387.00L263.40 389.40L261.35 387.00ZM264.59 384.60L266.64 387.00L264.59 389.40L262.54 387.00ZM265.79 384.60L267.84 387.00L265.79 389.40L263.74 387.00ZM266.98 384.60L269.03 387.00L266.98 389.40L264.93 387.00ZM268.18 384.60L270.23 387.00L268.18 389.40L266.13 387.00ZM269.37 384.60L271.42 387.00L269.37 389.40L267.32 387.00ZM270.57 384.60L272.62 387.00L270.57 389.40L268.52 387.00ZM271.76 384.60L273.81 387.00L271.76 389.40L269.71 387.00ZM272.96 384.60L275.01 387.00L272.96 389.40L270.91 387.00ZM274.15 384.60L276.20 387.00L274.15 389.40L272.10 387.00ZM275.35 384.60L277.40 387.00L275.35 389.40L273.30 387.00ZM276.54 384.60L278.59 387.00L276.54 389.40L274.49 387.00ZM277.74 384.60L279.79 387.00L277.74 389.40L275.69 387.00ZM278.93 384.60L280.98 387.00L278.93 389.40L276.88 387.00ZM280.13 384.60L282.18 387.00L280.13 389.40L278.08 387.00ZM281.32 384.60L283.37 387.00L281.32 389.40L279.27 387.00ZM282.52 384.60L284.57 387.00L282.52 389.40L280.47 387.00ZM283.71 384.60L285.76 387.00L283.71 389.40L281.66 387.00ZM284.91 384.60L286.96 387.00L284.91 389.40L282.86 387.00ZM286.10 384.60L288.15 387.00L286.10 389.40L284.05 387.00ZM287.30 384.60L289.35 387.00L287.30 389.40L285.25 387.00ZM288.49 384.60L290.54 387.00L288.49 389.40L286.44 387.00ZM289.69 384.60L291.74 387.00L289.69 389.40L287.64 387.00ZM290.88 384.60L292.93 387.00L290.88 389.40L288.83 387.00ZM292.08 384.60L294.13 387.00L292.08 389.40L290.03 387.00ZM293.27 384.60L295.32 387.00L293.27 389.40L291.22 387.00ZM294.47 384.60L296.52 387.00L294.47 389.40L292.42 387.00ZM295.66 384.60L297.71 387.00L295.66 389.40L293.61 387.00ZM296.86 384.60L298.91 387.00L296.86 389.40L294.81 387.00ZM298.05 384.60L300.10 387.00L298.05 389.40L296.00 387.00ZM299.25 384.60L301.30 387.00L299.25 389.40L297.20 387.00ZM300.44 384.60L302.49 387.00L300.44 389.40L298.39 387.00ZM301.64 384.60L303.69 387.00L301.64 389.40L299.59 387.00ZM302.83 384.60L304.88 387.00L302.83 389.40L300.78 387.00ZM304.03 384.60L306.08 387.00L304.03 389.40L301.98 387.00ZM305.22 384.60L307.27 387.00L305.22 389.40L303.17 387.00ZM306.42 384.60L308.47 387.00L306.42 389.40L304.37 387.00ZM307.61 384.60L309.66 387.00L307.61 389.40L305.56 387.00ZM308.81 384.60L310.86 387.00L308.81 389.40L306.76 387.00ZM310.00 384.60L312.05 387.00L310.00 389.40L307.95 387.00Z" fill="none" stroke="#747474" stroke-width="1.05"/>
<path d="M191.70 307.72L194.15 312.07L189.25 312.07ZM192.89 307.89L195.34 312.24L190.44 312.24ZM194.09 308.09L196.54 312.43L191.64 312.43ZM195.28 308.32L197.73 312.67L192.83 312.67ZM196.48 308.60L198.93 312.95L194.03 312.95ZM197.67 308.95L200.12 313.30L195.22 313.30ZM198.87 309.38L201.32 313.73L196.42 313.73ZM200.06 309.91L202.51 314.25L197.61 314.25ZM201.26 310.56L203.71 314.91L198.81 314.91ZM202.45 311.36L204.90 315.71L200.00 315.71ZM203.65 312.33L206.10 316.68L201.20 316.68ZM204.84 313.48L207.29 317.83L202.39 317.83ZM206.04 314.80L208.49 319.14L203.59 319.14ZM207.23 316.27L209.68 320.61L204.78 320.61ZM208.43 317.87L210.88 322.22L205.98 322.22ZM209.62 319.58L212.07 323.92L207.17 323.92ZM210.82 321.37L213.27 325.72L208.37 325.72ZM212.01 323.23L214.46 327.57L209.56 327.57ZM213.21 325.13L215.66 329.48L210.76 329.48ZM214.40 327.08L216.85 331.43L211.95 331.43ZM215.60 329.06L218.05 333.41L213.15 333.41ZM216.79 331.07L219.24 335.42L214.34 335.42ZM217.99 333.10L220.44 337.45L215.54 337.45ZM219.18 335.14L221.63 339.49L216.73 339.49ZM220.38 337.20L222.83 341.55L217.93 341.55ZM221.57 339.27L224.02 343.61L219.12 343.61ZM222.77 341.35L225.22 345.69L220.32 345.69ZM223.96 343.43L226.41 347.78L221.51 347.78ZM225.16 345.52L227.61 349.87L222.71 349.87ZM226.35 347.62L228.80 351.97L223.90 351.97ZM227.55 349.73L230.00 354.08L225.10 354.08ZM228.74 351.84L231.19 356.18L226.29 356.18ZM229.94 353.95L232.39 358.30L227.49 358.30ZM231.13 356.06L233.58 360.41L228.68 360.41ZM232.33 358.18L234.78 362.53L229.88 362.53ZM233.52 360.30L235.97 364.65L231.07 364.65ZM234.72 362.43L237.17 366.77L232.27 366.77ZM235.91 364.55L238.36 368.90L233.46 368.90ZM237.11 366.68L239.56 371.03L234.66 371.03ZM238.30 368.81L240.75 373.16L235.85 373.16ZM239.50 384.65L241.95 389.00L237.05 389.00ZM240.69 384.65L243.14 389.00L238.24 389.00ZM241.89 384.65L244.34 389.00L239.44 389.00ZM243.08 384.65L245.53 389.00L240.63 389.00ZM244.28 384.65L246.73 389.00L241.83 389.00ZM245.47 384.65L247.92 389.00L243.02 389.00ZM246.67 384.65L249.12 389.00L244.22 389.00ZM247.86 384.65L250.31 389.00L245.41 389.00ZM249.06 384.65L251.51 389.00L246.61 389.00ZM250.25 384.65L252.70 389.00L247.80 389.00ZM251.45 384.65L253.90 389.00L249.00 389.00ZM252.64 384.65L255.09 389.00L250.19 389.00ZM253.84 384.65L256.29 389.00L251.39 389.00ZM255.03 384.65L257.48 389.00L252.58 389.00ZM256.23 384.65L258.68 389.00L253.78 389.00ZM257.42 384.65L259.87 389.00L254.97 389.00ZM258.62 384.65L261.07 389.00L256.17 389.00ZM259.81 384.65L262.26 389.00L257.36 389.00ZM261.01 384.65L263.46 389.00L258.56 389.00ZM262.20 384.65L264.65 389.00L259.75 389.00ZM263.40 384.65L265.85 389.00L260.95 389.00ZM264.59 384.65L267.04 389.00L262.14 389.00ZM265.79 384.65L268.24 389.00L263.34 389.00ZM266.98 384.65L269.43 389.00L264.53 389.00ZM268.18 384.65L270.63 389.00L265.73 389.00ZM269.37 384.65L271.82 389.00L266.92 389.00ZM270.57 384.65L273.02 389.00L268.12 389.00ZM271.76 384.65L274.21 389.00L269.31 389.00ZM272.96 384.65L275.41 389.00L270.51 389.00ZM274.15 384.65L276.60 389.00L271.70 389.00ZM275.35 384.65L277.80 389.00L272.90 389.00ZM276.54 384.65L278.99 389.00L274.09 389.00ZM277.74 384.65L280.19 389.00L275.29 389.00ZM278.93 384.65L281.38 389.00L276.48 389.00ZM280.13 384.65L282.58 389.00L277.68 389.00ZM281.32 384.65L283.77 389.00L278.87 389.00ZM282.52 384.65L284.97 389.00L280.07 389.00ZM283.71 384.65L286.16 389.00L281.26 389.00ZM284.91 384.65L287.36 389.00L282.46 389.00ZM286.10 384.65L288.55 389.00L283.65 389.00ZM287.30 384.65L289.75 389.00L284.85 389.00ZM288.49 384.65L290.94 389.00L286.04 389.00ZM289.69 384.65L292.14 389.00L287.24 389.00ZM290.88 384.65L293.33 389.00L288.43 389.00ZM292.08 384.65L294.53 389.00L289.63 389.00ZM293.27 384.65L295.72 389.00L290.82 389.00ZM294.47 384.65L296.92 389.00L292.02 389.00ZM295.66 384.65L298.11 389.00L293.21 389.00ZM296.86 384.65L299.31 389.00L294.41 389.00ZM298.05 384.65L300.50 389.00L295.60 389.00ZM299.25 384.65L301.70 389.00L296.80 389.00ZM300.44 384.65L302.89 389.00L297.99 389.00ZM301.64 384.65L304.09 389.00L299.19 389.00ZM302.83 384.65L305.28 389.00L300.38 389.00ZM304.03 384.65L306.48 389.00L301.58 389.00ZM305.22 384.65L307.67 389.00L302.77 389.00ZM306.42 384.65L308.87 389.00L303.97 389.00ZM307.61 384.65L310.06 389.00L305.16 389.00ZM308.81 384.65L311.26 389.00L306.36 389.00ZM310.00 384.65L312.45 389.00L307.55 389.00Z" fill="#725667"/>
</g>
<text x="189.40" y="389.70" font-size="6.7" text-anchor="end" font-weight="normal" fill="#111" >0</text>
<text x="189.40" y="372.30" font-size="6.7" text-anchor="end" font-weight="normal" fill="#111" >50</text>
<text x="189.40" y="354.90" font-size="6.7" text-anchor="end" font-weight="normal" fill="#111" >100</text>
<text x="189.40" y="337.50" font-size="6.7" text-anchor="end" font-weight="normal" fill="#111" >150</text>
<text x="189.40" y="320.10" font-size="6.7" text-anchor="end" font-weight="normal" fill="#111" >200</text>
<text x="189.40" y="302.70" font-size="6.7" text-anchor="end" font-weight="normal" fill="#111" >250</text>
<text x="190.10" y="398.10" font-size="6.7" text-anchor="middle" fill="#111">10</text>
<text x="193.80" y="394.40" font-size="4.8" text-anchor="start" fill="#111">0</text>
<text x="223.90" y="398.10" font-size="6.7" text-anchor="middle" fill="#111">10</text>
<text x="227.60" y="394.40" font-size="4.8" text-anchor="start" fill="#111">2</text>
<text x="257.70" y="398.10" font-size="6.7" text-anchor="middle" fill="#111">10</text>
<text x="261.40" y="394.40" font-size="4.8" text-anchor="start" fill="#111">4</text>
<text x="291.50" y="398.10" font-size="6.7" text-anchor="middle" fill="#111">10</text>
<text x="295.20" y="394.40" font-size="4.8" text-anchor="start" fill="#111">6</text>
<text x="250.05" y="406.40" font-size="7.55" text-anchor="middle" font-weight="bold" fill="#111" >Elastic Modulus [kPa]</text>
<text transform="translate(177.00 403.90) rotate(-90) scale(0.94 1)" font-size="8.1" text-anchor="start" font-weight="bold" fill="#111">Maximum Bubble Diameter<tspan dx="2.5" font-size="7.4">[</tspan><tspan dx="2.8" font-size="8.8" font-weight="normal" font-style="italic">μ</tspan><tspan font-size="8.8" font-weight="normal">m</tspan><tspan font-size="7.4">]</tspan></text>
<text x="303.00" y="381.40" font-size="7.2" text-anchor="middle" font-weight="bold" fill="#3a3a3a" >F</text>
<rect x="83.8" y="30.3" width="53.80" height="41.00" fill="#fff" stroke="#a8a8a8" stroke-width="0.9"/>
<path d="M87.80 34.40a1.0 0.8 0 1 0 2.0 0a1.0 0.8 0 1 0 -2.0 0Z" fill="#2f78d0"/>
<text x="94.10" y="36.90" font-size="7.0" text-anchor="start" font-weight="normal" fill="#1a1a1a" >Linear</text>
<path d="M87.60 41.20h2.40v2.40h-2.40Z" fill="none" stroke="#7438a8" stroke-width="0.78"/>
<text x="94.10" y="44.90" font-size="7.0" text-anchor="start" font-weight="normal" fill="#1a1a1a" >Kelvin-Voight</text>
<circle cx="88.8" cy="50.40" r="1.2" fill="#e65a20"/>
<text x="94.10" y="52.90" font-size="7.0" text-anchor="start" font-weight="normal" fill="#1a1a1a" >Neo-Hookean</text>
<path d="M88.6 56.40L90.1 58.40L88.6 60.40L87.1 58.40Z" fill="none" stroke="#5a5a5a" stroke-width="1.25"/>
<text x="94.10" y="60.90" font-size="7.0" text-anchor="start" font-weight="normal" fill="#1a1a1a" >Fung</text>
<path d="M88.80 64.05L91.25 68.40L86.35 68.40Z" fill="#725667"/>
<text x="94.10" y="68.90" font-size="7.0" text-anchor="start" font-weight="normal" fill="#1a1a1a" >Gent</text>
<text x="168.10" y="7.90" font-size="9.8" text-anchor="middle" font-weight="bold" fill="#000" >100 kHz</text>
<text x="168.10" y="144.90" font-size="9.8" text-anchor="middle" font-weight="bold" fill="#000" >1 MHz</text>
<text x="167.80" y="280.10" font-size="9.8" text-anchor="middle" font-weight="bold" fill="#000" >3 MHz</text>
</svg></body></html>
